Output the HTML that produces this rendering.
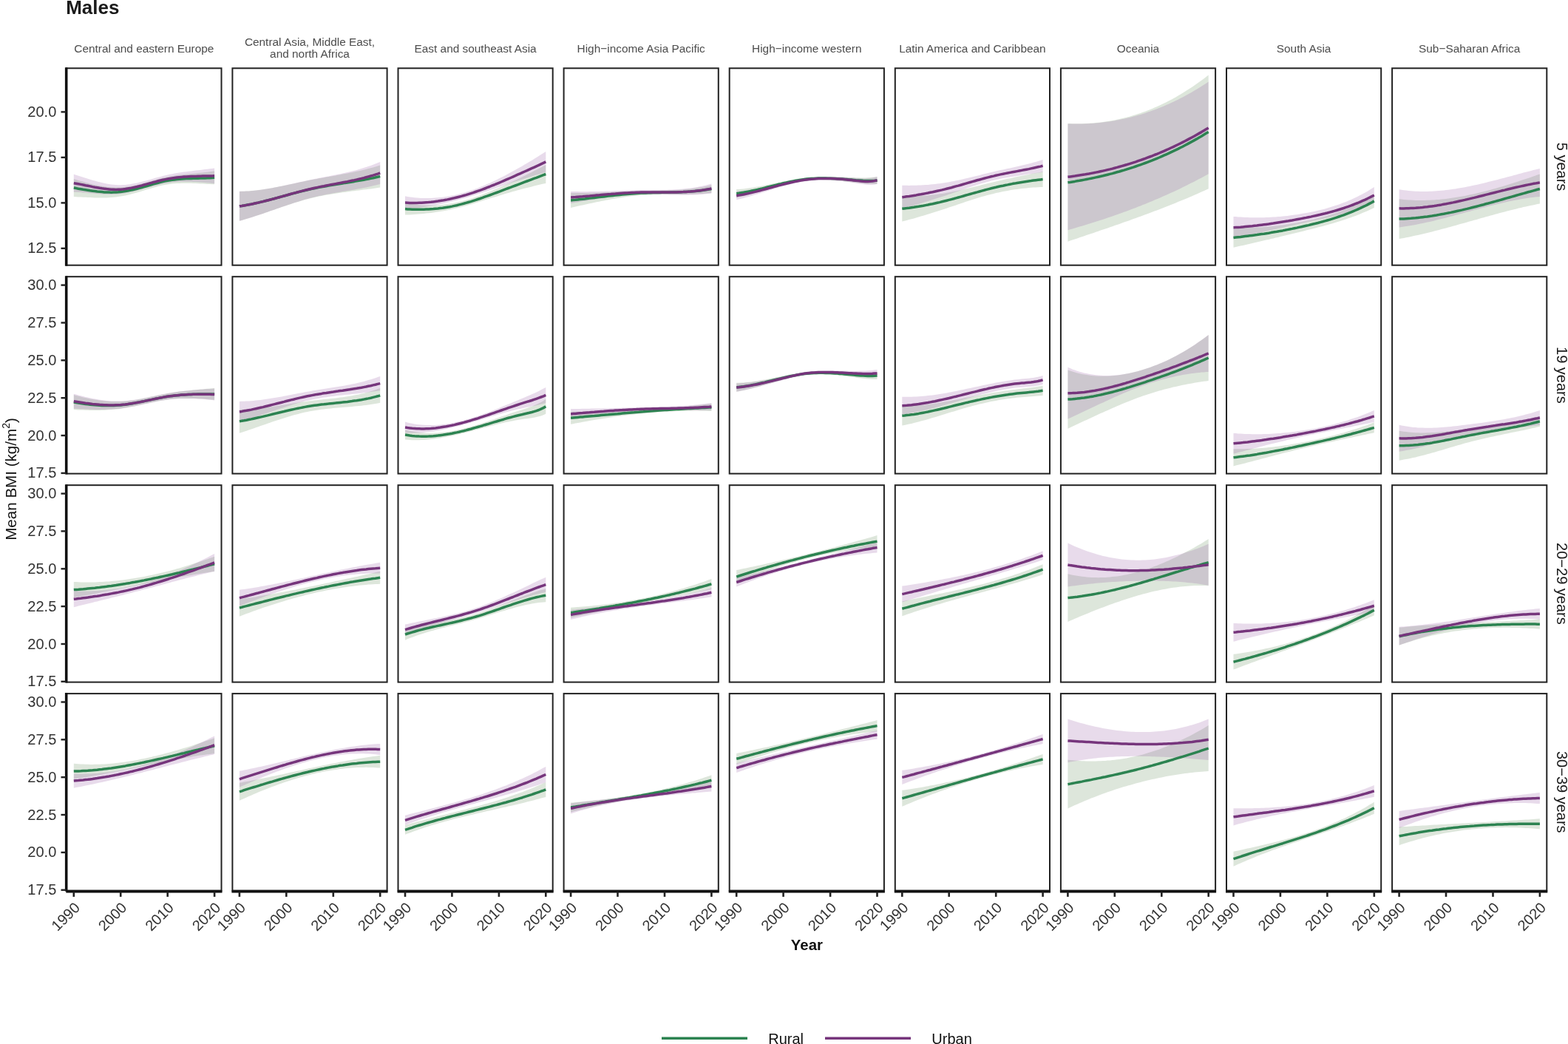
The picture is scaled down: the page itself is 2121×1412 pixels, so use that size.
<!DOCTYPE html><html><head><meta charset="utf-8"><title>Males</title><style>html,body{margin:0;padding:0;background:#fff;width:2121px;height:1412px;overflow:hidden}svg{display:block}text{font-family:"Liberation Sans",Arial,sans-serif}</style></head><body>
<svg width="2121" height="1412" viewBox="0 0 2121 1412">
<rect width="2121" height="1412" fill="#fff"/>
<text x="89.2" y="18.6" font-size="26" font-weight="bold" fill="#1a1a1a">Males</text>
<text x="194.9" y="70.6" font-size="15.4" fill="#4d4d4d" text-anchor="middle">Central and eastern Europe</text>
<text x="419.0" y="61.8" font-size="15.4" fill="#4d4d4d" text-anchor="middle">Central Asia, Middle East,</text>
<text x="419.0" y="78.4" font-size="15.4" fill="#4d4d4d" text-anchor="middle">and north Africa</text>
<text x="643.1" y="70.6" font-size="15.4" fill="#4d4d4d" text-anchor="middle">East and southeast Asia</text>
<text x="867.2" y="70.6" font-size="15.4" fill="#4d4d4d" text-anchor="middle">High−income Asia Pacific</text>
<text x="1091.3" y="70.6" font-size="15.4" fill="#4d4d4d" text-anchor="middle">High−income western</text>
<text x="1315.4" y="70.6" font-size="15.4" fill="#4d4d4d" text-anchor="middle">Latin America and Caribbean</text>
<text x="1539.5" y="70.6" font-size="15.4" fill="#4d4d4d" text-anchor="middle">Oceania</text>
<text x="1763.6" y="70.6" font-size="15.4" fill="#4d4d4d" text-anchor="middle">South Asia</text>
<text x="1987.7" y="70.6" font-size="15.4" fill="#4d4d4d" text-anchor="middle">Sub−Saharan Africa</text>
<text transform="translate(2106.2,225.5) rotate(90)" font-size="20" fill="#1a1a1a" text-anchor="middle">5 years</text>
<text transform="translate(2106.2,507.4) rotate(90)" font-size="20" fill="#1a1a1a" text-anchor="middle">19 years</text>
<text transform="translate(2106.2,789.4) rotate(90)" font-size="20" fill="#1a1a1a" text-anchor="middle">20−29 years</text>
<text transform="translate(2106.2,1071.3) rotate(90)" font-size="20" fill="#1a1a1a" text-anchor="middle">30−39 years</text>
<polygon points="99.8,242.1 103.0,243.1 106.1,244.0 109.3,244.9 112.5,245.8 115.7,246.7 118.8,247.6 122.0,248.4 125.2,249.2 128.3,249.9 131.5,250.6 134.7,251.2 137.9,251.8 141.0,252.3 144.2,252.7 147.4,253.0 150.5,253.3 153.7,253.5 156.9,253.5 160.1,253.5 163.2,253.4 166.4,253.2 169.6,252.8 172.7,252.4 175.9,251.9 179.1,251.3 182.3,250.7 185.4,250.0 188.6,249.2 191.8,248.4 194.9,247.6 198.1,246.7 201.3,245.8 204.5,244.9 207.6,244.0 210.8,243.2 214.0,242.3 217.1,241.4 220.3,240.6 223.5,239.9 226.7,239.2 229.8,238.6 233.0,238.0 236.2,237.5 239.3,237.0 242.5,236.6 245.7,236.2 248.9,235.9 252.0,235.6 255.2,235.3 258.4,235.0 261.5,234.7 264.7,234.4 267.9,234.1 271.1,233.8 274.2,233.4 277.4,233.1 280.6,232.7 283.7,232.3 286.9,231.8 290.1,231.3 290.1,249.3 286.9,249.2 283.7,249.0 280.6,248.9 277.4,248.7 274.2,248.6 271.1,248.4 267.9,248.2 264.7,248.1 261.5,247.9 258.4,247.8 255.2,247.8 252.0,247.7 248.9,247.7 245.7,247.8 242.5,247.9 239.3,248.0 236.2,248.3 233.0,248.6 229.8,248.9 226.7,249.4 223.5,250.0 220.3,250.6 217.1,251.3 214.0,252.1 210.8,252.9 207.6,253.8 204.5,254.7 201.3,255.7 198.1,256.6 194.9,257.6 191.8,258.5 188.6,259.5 185.4,260.4 182.3,261.3 179.1,262.1 175.9,263.0 172.7,263.7 169.6,264.4 166.4,265.0 163.2,265.6 160.1,266.1 156.9,266.5 153.7,266.8 150.5,267.1 147.4,267.2 144.2,267.4 141.0,267.5 137.9,267.5 134.7,267.5 131.5,267.4 128.3,267.4 125.2,267.3 122.0,267.1 118.8,267.0 115.7,266.8 112.5,266.7 109.3,266.5 106.1,266.4 103.0,266.2 99.8,266.1" fill="#55824b" fill-opacity="0.20"/>
<polygon points="99.8,235.7 103.0,236.7 106.1,237.7 109.3,238.7 112.5,239.7 115.7,240.7 118.8,241.7 122.0,242.7 125.2,243.7 128.3,244.6 131.5,245.5 134.7,246.3 137.9,247.1 141.0,247.8 144.2,248.4 147.4,249.0 150.5,249.5 153.7,249.8 156.9,250.1 160.1,250.2 163.2,250.3 166.4,250.1 169.6,249.9 172.7,249.6 175.9,249.2 179.1,248.6 182.3,248.0 185.4,247.4 188.6,246.6 191.8,245.8 194.9,245.0 198.1,244.2 201.3,243.3 204.5,242.4 207.6,241.5 210.8,240.6 214.0,239.8 217.1,238.9 220.3,238.1 223.5,237.3 226.7,236.5 229.8,235.8 233.0,235.2 236.2,234.6 239.3,234.1 242.5,233.5 245.7,233.1 248.9,232.6 252.0,232.2 255.2,231.8 258.4,231.4 261.5,231.0 264.7,230.6 267.9,230.2 271.1,229.9 274.2,229.5 277.4,229.1 280.6,228.7 283.7,228.3 286.9,227.9 290.1,227.5 290.1,248.2 286.9,247.9 283.7,247.6 280.6,247.3 277.4,247.0 274.2,246.8 271.1,246.5 267.9,246.3 264.7,246.1 261.5,245.9 258.4,245.8 255.2,245.7 252.0,245.7 248.9,245.7 245.7,245.7 242.5,245.8 239.3,246.0 236.2,246.2 233.0,246.5 229.8,246.9 226.7,247.4 223.5,247.9 220.3,248.5 217.1,249.2 214.0,249.9 210.8,250.7 207.6,251.5 204.5,252.4 201.3,253.2 198.1,254.1 194.9,255.0 191.8,255.9 188.6,256.8 185.4,257.6 182.3,258.5 179.1,259.2 175.9,260.0 172.7,260.6 169.6,261.2 166.4,261.7 163.2,262.1 160.1,262.5 156.9,262.7 153.7,262.8 150.5,262.9 147.4,262.9 144.2,262.8 141.0,262.7 137.9,262.5 134.7,262.3 131.5,262.0 128.3,261.8 125.2,261.5 122.0,261.2 118.8,260.9 115.7,260.6 112.5,260.4 109.3,260.1 106.1,259.9 103.0,259.8 99.8,259.7" fill="#8e4a9a" fill-opacity="0.20"/>
<polyline points="99.8,254.1 103.0,254.6 106.1,255.2 109.3,255.7 112.5,256.3 115.7,256.8 118.8,257.3 122.0,257.8 125.2,258.2 128.3,258.6 131.5,259.0 134.7,259.3 137.9,259.6 141.0,259.9 144.2,260.0 147.4,260.1 150.5,260.2 153.7,260.1 156.9,260.0 160.1,259.8 163.2,259.5 166.4,259.1 169.6,258.6 172.7,258.1 175.9,257.4 179.1,256.7 182.3,256.0 185.4,255.2 188.6,254.4 191.8,253.5 194.9,252.6 198.1,251.7 201.3,250.8 204.5,249.8 207.6,248.9 210.8,248.0 214.0,247.2 217.1,246.4 220.3,245.6 223.5,244.9 226.7,244.3 229.8,243.8 233.0,243.3 236.2,242.9 239.3,242.5 242.5,242.2 245.7,242.0 248.9,241.8 252.0,241.6 255.2,241.5 258.4,241.4 261.5,241.3 264.7,241.2 267.9,241.2 271.1,241.1 274.2,241.0 277.4,240.9 280.6,240.8 283.7,240.7 286.9,240.5 290.1,240.3" fill="none" stroke="#2c8351" stroke-width="3.5" stroke-linejoin="round"/>
<polyline points="99.8,247.7 103.0,248.2 106.1,248.8 109.3,249.4 112.5,250.0 115.7,250.7 118.8,251.3 122.0,251.9 125.2,252.6 128.3,253.2 131.5,253.7 134.7,254.3 137.9,254.8 141.0,255.2 144.2,255.6 147.4,255.9 150.5,256.2 153.7,256.3 156.9,256.4 160.1,256.3 163.2,256.2 166.4,255.9 169.6,255.6 172.7,255.1 175.9,254.6 179.1,253.9 182.3,253.2 185.4,252.5 188.6,251.7 191.8,250.9 194.9,250.0 198.1,249.1 201.3,248.3 204.5,247.4 207.6,246.5 210.8,245.7 214.0,244.8 217.1,244.0 220.3,243.3 223.5,242.6 226.7,242.0 229.8,241.4 233.0,240.9 236.2,240.4 239.3,240.0 242.5,239.7 245.7,239.4 248.9,239.1 252.0,238.9 255.2,238.7 258.4,238.6 261.5,238.5 264.7,238.4 267.9,238.3 271.1,238.2 274.2,238.1 277.4,238.1 280.6,238.0 283.7,238.0 286.9,237.9 290.1,237.8" fill="none" stroke="#76357c" stroke-width="3.5" stroke-linejoin="round"/>
<polygon points="323.9,258.9 327.1,258.8 330.2,258.7 333.4,258.6 336.6,258.4 339.8,258.1 342.9,257.8 346.1,257.5 349.3,257.1 352.4,256.7 355.6,256.2 358.8,255.8 362.0,255.3 365.1,254.7 368.3,254.2 371.5,253.6 374.6,253.0 377.8,252.3 381.0,251.7 384.2,251.0 387.3,250.4 390.5,249.7 393.7,249.0 396.8,248.4 400.0,247.7 403.2,247.0 406.4,246.3 409.5,245.7 412.7,245.0 415.9,244.3 419.0,243.7 422.2,243.1 425.4,242.5 428.6,241.9 431.7,241.3 434.9,240.7 438.1,240.2 441.2,239.6 444.4,239.0 447.6,238.5 450.8,237.9 453.9,237.4 457.1,236.8 460.3,236.2 463.4,235.6 466.6,235.0 469.8,234.4 473.0,233.8 476.1,233.2 479.3,232.5 482.5,231.8 485.6,231.2 488.8,230.4 492.0,229.7 495.2,228.9 498.3,228.1 501.5,227.3 504.7,226.4 507.8,225.5 511.0,224.6 514.2,223.6 514.2,253.6 511.0,254.0 507.8,254.5 504.7,254.9 501.5,255.4 498.3,255.8 495.2,256.2 492.0,256.6 488.8,257.0 485.6,257.4 482.5,257.8 479.3,258.2 476.1,258.6 473.0,259.0 469.8,259.4 466.6,259.9 463.4,260.3 460.3,260.7 457.1,261.2 453.9,261.7 450.8,262.2 447.6,262.7 444.4,263.2 441.2,263.8 438.1,264.3 434.9,264.9 431.7,265.6 428.6,266.3 425.4,267.0 422.2,267.7 419.0,268.5 415.9,269.3 412.7,270.1 409.5,271.0 406.4,271.9 403.2,272.9 400.0,273.8 396.8,274.8 393.7,275.9 390.5,276.9 387.3,277.9 384.2,279.0 381.0,280.1 377.8,281.2 374.6,282.3 371.5,283.4 368.3,284.5 365.1,285.6 362.0,286.7 358.8,287.8 355.6,288.9 352.4,289.9 349.3,291.0 346.1,292.1 342.9,293.1 339.8,294.1 336.6,295.1 333.4,296.1 330.2,297.0 327.1,297.9 323.9,298.8" fill="#55824b" fill-opacity="0.20"/>
<polygon points="323.9,258.8 327.1,258.8 330.2,258.7 333.4,258.6 336.6,258.4 339.8,258.2 342.9,257.9 346.1,257.6 349.3,257.2 352.4,256.8 355.6,256.3 358.8,255.8 362.0,255.3 365.1,254.8 368.3,254.2 371.5,253.6 374.6,253.0 377.8,252.3 381.0,251.7 384.2,251.0 387.3,250.3 390.5,249.6 393.7,248.9 396.8,248.2 400.0,247.5 403.2,246.8 406.4,246.1 409.5,245.4 412.7,244.7 415.9,244.0 419.0,243.3 422.2,242.7 425.4,242.0 428.6,241.4 431.7,240.8 434.9,240.2 438.1,239.6 441.2,239.0 444.4,238.4 447.6,237.7 450.8,237.1 453.9,236.5 457.1,235.8 460.3,235.2 463.4,234.5 466.6,233.8 469.8,233.1 473.0,232.3 476.1,231.5 479.3,230.7 482.5,229.9 485.6,229.0 488.8,228.1 492.0,227.1 495.2,226.1 498.3,225.1 501.5,224.0 504.7,222.8 507.8,221.6 511.0,220.3 514.2,219.0 514.2,249.0 511.0,249.8 507.8,250.6 504.7,251.3 501.5,252.0 498.3,252.7 495.2,253.4 492.0,254.0 488.8,254.7 485.6,255.2 482.5,255.8 479.3,256.4 476.1,257.0 473.0,257.5 469.8,258.1 466.6,258.6 463.4,259.1 460.3,259.7 457.1,260.2 453.9,260.8 450.8,261.3 447.6,261.9 444.4,262.5 441.2,263.1 438.1,263.8 434.9,264.4 431.7,265.1 428.6,265.8 425.4,266.5 422.2,267.3 419.0,268.1 415.9,268.9 412.7,269.8 409.5,270.7 406.4,271.7 403.2,272.7 400.0,273.7 396.8,274.7 393.7,275.7 390.5,276.8 387.3,277.9 384.2,279.0 381.0,280.1 377.8,281.2 374.6,282.3 371.5,283.4 368.3,284.5 365.1,285.6 362.0,286.7 358.8,287.8 355.6,288.9 352.4,290.0 349.3,291.1 346.1,292.1 342.9,293.2 339.8,294.2 336.6,295.2 333.4,296.1 330.2,297.0 327.1,297.9 323.9,298.8" fill="#8e4a9a" fill-opacity="0.20"/>
<polyline points="323.9,278.8 327.1,278.4 330.2,277.9 333.4,277.3 336.6,276.7 339.8,276.1 342.9,275.5 346.1,274.8 349.3,274.1 352.4,273.3 355.6,272.6 358.8,271.8 362.0,271.0 365.1,270.1 368.3,269.3 371.5,268.5 374.6,267.6 377.8,266.8 381.0,265.9 384.2,265.0 387.3,264.2 390.5,263.3 393.7,262.4 396.8,261.6 400.0,260.8 403.2,259.9 406.4,259.1 409.5,258.3 412.7,257.6 415.9,256.8 419.0,256.1 422.2,255.4 425.4,254.7 428.6,254.1 431.7,253.4 434.9,252.8 438.1,252.3 441.2,251.7 444.4,251.1 447.6,250.6 450.8,250.0 453.9,249.5 457.1,249.0 460.3,248.5 463.4,248.0 466.6,247.4 469.8,246.9 473.0,246.4 476.1,245.9 479.3,245.4 482.5,244.8 485.6,244.3 488.8,243.7 492.0,243.2 495.2,242.6 498.3,242.0 501.5,241.3 504.7,240.7 507.8,240.0 511.0,239.3 514.2,238.6" fill="none" stroke="#2c8351" stroke-width="3.5" stroke-linejoin="round"/>
<polyline points="323.9,278.8 327.1,278.4 330.2,277.9 333.4,277.4 336.6,276.8 339.8,276.2 342.9,275.5 346.1,274.8 349.3,274.1 352.4,273.4 355.6,272.6 358.8,271.8 362.0,271.0 365.1,270.2 368.3,269.4 371.5,268.5 374.6,267.6 377.8,266.7 381.0,265.9 384.2,265.0 387.3,264.1 390.5,263.2 393.7,262.3 396.8,261.4 400.0,260.6 403.2,259.7 406.4,258.9 409.5,258.1 412.7,257.3 415.9,256.5 419.0,255.7 422.2,255.0 425.4,254.3 428.6,253.6 431.7,252.9 434.9,252.3 438.1,251.7 441.2,251.0 444.4,250.4 447.6,249.8 450.8,249.2 453.9,248.6 457.1,248.0 460.3,247.4 463.4,246.8 466.6,246.2 469.8,245.6 473.0,244.9 476.1,244.2 479.3,243.6 482.5,242.9 485.6,242.1 488.8,241.4 492.0,240.6 495.2,239.7 498.3,238.9 501.5,238.0 504.7,237.1 507.8,236.1 511.0,235.1 514.2,234.0" fill="none" stroke="#76357c" stroke-width="3.5" stroke-linejoin="round"/>
<polygon points="548.0,274.7 551.2,275.2 554.3,275.7 557.5,276.1 560.7,276.5 563.9,276.9 567.0,277.1 570.2,277.4 573.4,277.5 576.5,277.7 579.7,277.7 582.9,277.7 586.1,277.7 589.2,277.6 592.4,277.4 595.6,277.2 598.7,276.9 601.9,276.5 605.1,276.1 608.3,275.6 611.4,275.1 614.6,274.5 617.8,273.8 620.9,273.1 624.1,272.3 627.3,271.5 630.5,270.6 633.6,269.7 636.8,268.7 640.0,267.7 643.1,266.6 646.3,265.4 649.5,264.3 652.7,263.1 655.8,261.8 659.0,260.6 662.2,259.3 665.3,258.0 668.5,256.6 671.7,255.2 674.9,253.9 678.0,252.5 681.2,251.0 684.4,249.6 687.5,248.2 690.7,246.7 693.9,245.2 697.1,243.8 700.2,242.2 703.4,240.7 706.6,239.2 709.7,237.7 712.9,236.1 716.1,234.5 719.3,232.9 722.4,231.3 725.6,229.7 728.8,228.1 731.9,226.4 735.1,224.8 738.3,223.1 738.3,247.9 735.1,248.6 731.9,249.3 728.8,250.0 725.6,250.8 722.4,251.6 719.3,252.4 716.1,253.2 712.9,254.0 709.7,254.8 706.6,255.6 703.4,256.5 700.2,257.3 697.1,258.2 693.9,259.1 690.7,260.0 687.5,260.9 684.4,261.8 681.2,262.8 678.0,263.7 674.9,264.7 671.7,265.7 668.5,266.7 665.3,267.6 662.2,268.6 659.0,269.6 655.8,270.6 652.7,271.6 649.5,272.6 646.3,273.6 643.1,274.6 640.0,275.5 636.8,276.4 633.6,277.3 630.5,278.2 627.3,279.1 624.1,279.9 620.9,280.8 617.8,281.5 614.6,282.3 611.4,283.0 608.3,283.7 605.1,284.3 601.9,284.9 598.7,285.5 595.6,286.1 592.4,286.6 589.2,287.0 586.1,287.5 582.9,287.9 579.7,288.3 576.5,288.6 573.4,289.0 570.2,289.3 567.0,289.5 563.9,289.8 560.7,290.0 557.5,290.2 554.3,290.4 551.2,290.5 548.0,290.6" fill="#55824b" fill-opacity="0.20"/>
<polygon points="548.0,265.3 551.2,265.9 554.3,266.4 557.5,266.8 560.7,267.2 563.9,267.5 567.0,267.7 570.2,267.9 573.4,268.0 576.5,268.0 579.7,268.0 582.9,267.9 586.1,267.8 589.2,267.6 592.4,267.3 595.6,267.0 598.7,266.7 601.9,266.2 605.1,265.7 608.3,265.2 611.4,264.6 614.6,263.9 617.8,263.2 620.9,262.4 624.1,261.6 627.3,260.7 630.5,259.8 633.6,258.8 636.8,257.8 640.0,256.7 643.1,255.5 646.3,254.4 649.5,253.1 652.7,251.8 655.8,250.5 659.0,249.1 662.2,247.7 665.3,246.2 668.5,244.7 671.7,243.2 674.9,241.6 678.0,240.0 681.2,238.4 684.4,236.7 687.5,235.0 690.7,233.3 693.9,231.6 697.1,229.8 700.2,228.0 703.4,226.2 706.6,224.4 709.7,222.6 712.9,220.7 716.1,218.8 719.3,216.9 722.4,215.0 725.6,213.0 728.8,211.1 731.9,209.0 735.1,207.0 738.3,204.9 738.3,232.9 735.1,233.8 731.9,234.8 728.8,235.7 725.6,236.6 722.4,237.6 719.3,238.5 716.1,239.5 712.9,240.4 709.7,241.4 706.6,242.4 703.4,243.4 700.2,244.5 697.1,245.5 693.9,246.5 690.7,247.6 687.5,248.7 684.4,249.8 681.2,250.8 678.0,251.9 674.9,253.0 671.7,254.1 668.5,255.2 665.3,256.2 662.2,257.3 659.0,258.4 655.8,259.4 652.7,260.5 649.5,261.5 646.3,262.5 643.1,263.5 640.0,264.5 636.8,265.5 633.6,266.4 630.5,267.4 627.3,268.3 624.1,269.2 620.9,270.0 617.8,270.9 614.6,271.7 611.4,272.5 608.3,273.3 605.1,274.0 601.9,274.7 598.7,275.4 595.6,276.1 592.4,276.8 589.2,277.4 586.1,278.0 582.9,278.6 579.7,279.1 576.5,279.6 573.4,280.1 570.2,280.6 567.0,281.0 563.9,281.4 560.7,281.7 557.5,282.1 554.3,282.4 551.2,282.6 548.0,282.9" fill="#8e4a9a" fill-opacity="0.20"/>
<polyline points="548.0,282.6 551.2,282.9 554.3,283.0 557.5,283.2 560.7,283.3 563.9,283.3 567.0,283.3 570.2,283.3 573.4,283.3 576.5,283.1 579.7,283.0 582.9,282.8 586.1,282.6 589.2,282.3 592.4,282.0 595.6,281.6 598.7,281.2 601.9,280.7 605.1,280.2 608.3,279.7 611.4,279.1 614.6,278.4 617.8,277.7 620.9,276.9 624.1,276.1 627.3,275.3 630.5,274.4 633.6,273.5 636.8,272.6 640.0,271.6 643.1,270.6 646.3,269.5 649.5,268.5 652.7,267.4 655.8,266.2 659.0,265.1 662.2,264.0 665.3,262.8 668.5,261.6 671.7,260.5 674.9,259.3 678.0,258.1 681.2,256.9 684.4,255.7 687.5,254.5 690.7,253.4 693.9,252.2 697.1,251.0 700.2,249.8 703.4,248.6 706.6,247.4 709.7,246.2 712.9,245.0 716.1,243.8 719.3,242.6 722.4,241.4 725.6,240.3 728.8,239.1 731.9,237.9 735.1,236.7 738.3,235.5" fill="none" stroke="#2c8351" stroke-width="3.5" stroke-linejoin="round"/>
<polyline points="548.0,274.1 551.2,274.2 554.3,274.4 557.5,274.4 560.7,274.4 563.9,274.4 567.0,274.3 570.2,274.2 573.4,274.0 576.5,273.8 579.7,273.6 582.9,273.3 586.1,272.9 589.2,272.5 592.4,272.1 595.6,271.6 598.7,271.1 601.9,270.5 605.1,269.9 608.3,269.2 611.4,268.5 614.6,267.8 617.8,267.0 620.9,266.2 624.1,265.4 627.3,264.5 630.5,263.6 633.6,262.6 636.8,261.6 640.0,260.6 643.1,259.5 646.3,258.4 649.5,257.3 652.7,256.2 655.8,255.0 659.0,253.7 662.2,252.5 665.3,251.2 668.5,250.0 671.7,248.6 674.9,247.3 678.0,246.0 681.2,244.6 684.4,243.2 687.5,241.9 690.7,240.5 693.9,239.1 697.1,237.7 700.2,236.2 703.4,234.8 706.6,233.4 709.7,232.0 712.9,230.6 716.1,229.1 719.3,227.7 722.4,226.3 725.6,224.8 728.8,223.4 731.9,221.9 735.1,220.4 738.3,218.9" fill="none" stroke="#76357c" stroke-width="3.5" stroke-linejoin="round"/>
<polygon points="772.1,260.9 775.3,261.0 778.4,261.0 781.6,261.1 784.8,261.1 788.0,261.1 791.1,261.0 794.3,261.0 797.5,260.9 800.6,260.9 803.8,260.8 807.0,260.7 810.2,260.6 813.3,260.4 816.5,260.3 819.7,260.2 822.8,260.0 826.0,259.9 829.2,259.7 832.4,259.6 835.5,259.4 838.7,259.3 841.9,259.1 845.0,259.0 848.2,258.8 851.4,258.7 854.6,258.6 857.7,258.4 860.9,258.3 864.1,258.2 867.2,258.1 870.4,258.1 873.6,258.0 876.8,257.9 879.9,257.9 883.1,257.8 886.3,257.8 889.4,257.7 892.6,257.7 895.8,257.6 899.0,257.5 902.1,257.4 905.3,257.3 908.5,257.2 911.6,257.1 914.8,256.9 918.0,256.7 921.2,256.5 924.3,256.3 927.5,256.0 930.7,255.7 933.8,255.4 937.0,255.0 940.2,254.6 943.4,254.1 946.5,253.6 949.7,253.0 952.9,252.4 956.0,251.7 959.2,251.0 962.4,250.2 962.4,261.0 959.2,261.3 956.0,261.6 952.9,261.8 949.7,262.1 946.5,262.2 943.4,262.4 940.2,262.5 937.0,262.7 933.8,262.7 930.7,262.8 927.5,262.9 924.3,262.9 921.2,262.9 918.0,263.0 914.8,263.0 911.6,263.0 908.5,263.0 905.3,263.0 902.1,263.0 899.0,263.0 895.8,263.1 892.6,263.1 889.4,263.2 886.3,263.2 883.1,263.3 879.9,263.4 876.8,263.6 873.6,263.7 870.4,263.9 867.2,264.1 864.1,264.4 860.9,264.7 857.7,265.0 854.6,265.3 851.4,265.7 848.2,266.1 845.0,266.6 841.9,267.0 838.7,267.5 835.5,268.0 832.4,268.5 829.2,269.1 826.0,269.6 822.8,270.2 819.7,270.8 816.5,271.4 813.3,272.0 810.2,272.7 807.0,273.3 803.8,274.0 800.6,274.7 797.5,275.3 794.3,276.0 791.1,276.7 788.0,277.4 784.8,278.1 781.6,278.8 778.4,279.5 775.3,280.2 772.1,280.9" fill="#55824b" fill-opacity="0.20"/>
<polygon points="772.1,258.9 775.3,259.0 778.4,259.1 781.6,259.1 784.8,259.2 788.0,259.2 791.1,259.2 794.3,259.2 797.5,259.1 800.6,259.1 803.8,259.0 807.0,259.0 810.2,258.9 813.3,258.8 816.5,258.7 819.7,258.6 822.8,258.5 826.0,258.4 829.2,258.3 832.4,258.1 835.5,258.0 838.7,257.9 841.9,257.8 845.0,257.7 848.2,257.6 851.4,257.5 854.6,257.4 857.7,257.3 860.9,257.2 864.1,257.1 867.2,257.1 870.4,257.0 873.6,257.0 876.8,257.0 879.9,256.9 883.1,256.9 886.3,256.9 889.4,256.9 892.6,256.8 895.8,256.8 899.0,256.7 902.1,256.7 905.3,256.6 908.5,256.4 911.6,256.3 914.8,256.1 918.0,255.9 921.2,255.7 924.3,255.4 927.5,255.1 930.7,254.8 933.8,254.4 937.0,254.0 940.2,253.5 943.4,252.9 946.5,252.3 949.7,251.7 952.9,250.9 956.0,250.2 959.2,249.3 962.4,248.4 962.4,261.6 959.2,262.0 956.0,262.3 952.9,262.6 949.7,262.9 946.5,263.1 943.4,263.3 940.2,263.4 937.0,263.5 933.8,263.6 930.7,263.7 927.5,263.7 924.3,263.7 921.2,263.7 918.0,263.6 914.8,263.6 911.6,263.5 908.5,263.4 905.3,263.4 902.1,263.3 899.0,263.2 895.8,263.1 892.6,263.1 889.4,263.0 886.3,262.9 883.1,262.9 879.9,262.9 876.8,262.9 873.6,262.9 870.4,263.0 867.2,263.1 864.1,263.2 860.9,263.3 857.7,263.5 854.6,263.7 851.4,263.9 848.2,264.2 845.0,264.5 841.9,264.8 838.7,265.1 835.5,265.4 832.4,265.8 829.2,266.2 826.0,266.6 822.8,267.0 819.7,267.4 816.5,267.9 813.3,268.3 810.2,268.8 807.0,269.3 803.8,269.8 800.6,270.3 797.5,270.8 794.3,271.3 791.1,271.8 788.0,272.3 784.8,272.8 781.6,273.4 778.4,273.9 775.3,274.4 772.1,274.9" fill="#8e4a9a" fill-opacity="0.20"/>
<polyline points="772.1,270.9 775.3,270.6 778.4,270.3 781.6,269.9 784.8,269.6 788.0,269.2 791.1,268.9 794.3,268.5 797.5,268.1 800.6,267.8 803.8,267.4 807.0,267.0 810.2,266.6 813.3,266.2 816.5,265.9 819.7,265.5 822.8,265.1 826.0,264.8 829.2,264.4 832.4,264.1 835.5,263.7 838.7,263.4 841.9,263.1 845.0,262.8 848.2,262.5 851.4,262.2 854.6,262.0 857.7,261.7 860.9,261.5 864.1,261.3 867.2,261.1 870.4,261.0 873.6,260.9 876.8,260.7 879.9,260.7 883.1,260.6 886.3,260.5 889.4,260.4 892.6,260.4 895.8,260.3 899.0,260.3 902.1,260.2 905.3,260.2 908.5,260.1 911.6,260.0 914.8,260.0 918.0,259.9 921.2,259.7 924.3,259.6 927.5,259.4 930.7,259.3 933.8,259.1 937.0,258.8 940.2,258.5 943.4,258.2 946.5,257.9 949.7,257.5 952.9,257.1 956.0,256.6 959.2,256.1 962.4,255.6" fill="none" stroke="#2c8351" stroke-width="3.5" stroke-linejoin="round"/>
<polyline points="772.1,266.9 775.3,266.7 778.4,266.5 781.6,266.2 784.8,266.0 788.0,265.8 791.1,265.5 794.3,265.2 797.5,265.0 800.6,264.7 803.8,264.4 807.0,264.1 810.2,263.9 813.3,263.6 816.5,263.3 819.7,263.0 822.8,262.7 826.0,262.5 829.2,262.2 832.4,262.0 835.5,261.7 838.7,261.5 841.9,261.3 845.0,261.1 848.2,260.9 851.4,260.7 854.6,260.5 857.7,260.4 860.9,260.3 864.1,260.2 867.2,260.1 870.4,260.0 873.6,260.0 876.8,259.9 879.9,259.9 883.1,259.9 886.3,259.9 889.4,259.9 892.6,259.9 895.8,260.0 899.0,260.0 902.1,260.0 905.3,260.0 908.5,259.9 911.6,259.9 914.8,259.9 918.0,259.8 921.2,259.7 924.3,259.6 927.5,259.4 930.7,259.2 933.8,259.0 937.0,258.7 940.2,258.5 943.4,258.1 946.5,257.7 949.7,257.3 952.9,256.8 956.0,256.2 959.2,255.6 962.4,255.0" fill="none" stroke="#76357c" stroke-width="3.5" stroke-linejoin="round"/>
<polygon points="996.2,256.1 999.4,255.9 1002.5,255.7 1005.7,255.4 1008.9,255.0 1012.1,254.6 1015.2,254.1 1018.4,253.7 1021.6,253.1 1024.7,252.6 1027.9,252.0 1031.1,251.4 1034.3,250.7 1037.4,250.1 1040.6,249.4 1043.8,248.7 1046.9,248.1 1050.1,247.4 1053.3,246.7 1056.5,246.0 1059.6,245.4 1062.8,244.7 1066.0,244.1 1069.1,243.5 1072.3,242.9 1075.5,242.3 1078.7,241.8 1081.8,241.3 1085.0,240.9 1088.2,240.5 1091.3,240.1 1094.5,239.8 1097.7,239.6 1100.9,239.4 1104.0,239.2 1107.2,239.1 1110.4,239.0 1113.5,239.0 1116.7,238.9 1119.9,239.0 1123.1,239.0 1126.2,239.1 1129.4,239.1 1132.6,239.2 1135.7,239.4 1138.9,239.5 1142.1,239.6 1145.3,239.7 1148.4,239.9 1151.6,240.0 1154.8,240.1 1157.9,240.2 1161.1,240.3 1164.3,240.4 1167.5,240.4 1170.6,240.4 1173.8,240.3 1177.0,240.1 1180.1,239.8 1183.3,239.4 1186.5,238.9 1186.5,248.9 1183.3,249.0 1180.1,249.0 1177.0,248.9 1173.8,248.7 1170.6,248.5 1167.5,248.2 1164.3,247.8 1161.1,247.4 1157.9,247.1 1154.8,246.7 1151.6,246.3 1148.4,245.9 1145.3,245.5 1142.1,245.2 1138.9,244.8 1135.7,244.5 1132.6,244.2 1129.4,244.0 1126.2,243.7 1123.1,243.5 1119.9,243.4 1116.7,243.3 1113.5,243.2 1110.4,243.1 1107.2,243.2 1104.0,243.2 1100.9,243.4 1097.7,243.6 1094.5,243.8 1091.3,244.1 1088.2,244.5 1085.0,244.9 1081.8,245.4 1078.7,246.0 1075.5,246.6 1072.3,247.3 1069.1,248.0 1066.0,248.7 1062.8,249.5 1059.6,250.3 1056.5,251.1 1053.3,252.0 1050.1,252.9 1046.9,253.8 1043.8,254.7 1040.6,255.6 1037.4,256.5 1034.3,257.5 1031.1,258.4 1027.9,259.3 1024.7,260.2 1021.6,261.1 1018.4,262.0 1015.2,262.8 1012.1,263.7 1008.9,264.5 1005.7,265.2 1002.5,266.0 999.4,266.6 996.2,267.3" fill="#55824b" fill-opacity="0.20"/>
<polygon points="996.2,259.1 999.4,258.8 1002.5,258.4 1005.7,258.0 1008.9,257.6 1012.1,257.1 1015.2,256.5 1018.4,256.0 1021.6,255.4 1024.7,254.7 1027.9,254.1 1031.1,253.4 1034.3,252.7 1037.4,252.0 1040.6,251.2 1043.8,250.5 1046.9,249.7 1050.1,249.0 1053.3,248.3 1056.5,247.5 1059.6,246.8 1062.8,246.1 1066.0,245.4 1069.1,244.7 1072.3,244.1 1075.5,243.4 1078.7,242.9 1081.8,242.3 1085.0,241.8 1088.2,241.3 1091.3,240.9 1094.5,240.6 1097.7,240.2 1100.9,240.0 1104.0,239.7 1107.2,239.6 1110.4,239.4 1113.5,239.3 1116.7,239.2 1119.9,239.2 1123.1,239.2 1126.2,239.2 1129.4,239.3 1132.6,239.4 1135.7,239.5 1138.9,239.7 1142.1,239.8 1145.3,240.0 1148.4,240.2 1151.6,240.4 1154.8,240.6 1157.9,240.9 1161.1,241.1 1164.3,241.3 1167.5,241.4 1170.6,241.4 1173.8,241.2 1177.0,240.9 1180.1,240.5 1183.3,239.8 1186.5,238.9 1186.5,248.8 1183.3,249.4 1180.1,249.7 1177.0,249.7 1173.8,249.7 1170.6,249.4 1167.5,249.1 1164.3,248.7 1161.1,248.2 1157.9,247.7 1154.8,247.2 1151.6,246.7 1148.4,246.2 1145.3,245.8 1142.1,245.4 1138.9,245.0 1135.7,244.7 1132.6,244.4 1129.4,244.1 1126.2,243.9 1123.1,243.7 1119.9,243.6 1116.7,243.5 1113.5,243.5 1110.4,243.5 1107.2,243.6 1104.0,243.8 1100.9,244.0 1097.7,244.2 1094.5,244.5 1091.3,244.9 1088.2,245.4 1085.0,245.9 1081.8,246.4 1078.7,247.1 1075.5,247.7 1072.3,248.4 1069.1,249.2 1066.0,250.0 1062.8,250.8 1059.6,251.7 1056.5,252.6 1053.3,253.5 1050.1,254.5 1046.9,255.4 1043.8,256.4 1040.6,257.4 1037.4,258.4 1034.3,259.4 1031.1,260.4 1027.9,261.4 1024.7,262.4 1021.6,263.3 1018.4,264.3 1015.2,265.2 1012.1,266.2 1008.9,267.0 1005.7,267.9 1002.5,268.7 999.4,269.5 996.2,270.2" fill="#8e4a9a" fill-opacity="0.20"/>
<polyline points="996.2,261.7 999.4,261.3 1002.5,260.8 1005.7,260.3 1008.9,259.7 1012.1,259.1 1015.2,258.5 1018.4,257.8 1021.6,257.1 1024.7,256.4 1027.9,255.6 1031.1,254.9 1034.3,254.1 1037.4,253.3 1040.6,252.5 1043.8,251.7 1046.9,250.9 1050.1,250.1 1053.3,249.3 1056.5,248.6 1059.6,247.8 1062.8,247.1 1066.0,246.4 1069.1,245.7 1072.3,245.1 1075.5,244.5 1078.7,243.9 1081.8,243.4 1085.0,242.9 1088.2,242.5 1091.3,242.1 1094.5,241.8 1097.7,241.6 1100.9,241.4 1104.0,241.2 1107.2,241.1 1110.4,241.1 1113.5,241.1 1116.7,241.1 1119.9,241.2 1123.1,241.3 1126.2,241.4 1129.4,241.5 1132.6,241.7 1135.7,241.9 1138.9,242.1 1142.1,242.4 1145.3,242.6 1148.4,242.9 1151.6,243.1 1154.8,243.4 1157.9,243.7 1161.1,243.9 1164.3,244.1 1167.5,244.3 1170.6,244.4 1173.8,244.5 1177.0,244.5 1180.1,244.4 1183.3,244.2 1186.5,243.9" fill="none" stroke="#2c8351" stroke-width="3.5" stroke-linejoin="round"/>
<polyline points="996.2,264.7 999.4,264.1 1002.5,263.6 1005.7,263.0 1008.9,262.3 1012.1,261.6 1015.2,260.9 1018.4,260.1 1021.6,259.4 1024.7,258.6 1027.9,257.7 1031.1,256.9 1034.3,256.0 1037.4,255.2 1040.6,254.3 1043.8,253.5 1046.9,252.6 1050.1,251.7 1053.3,250.9 1056.5,250.1 1059.6,249.3 1062.8,248.5 1066.0,247.7 1069.1,247.0 1072.3,246.3 1075.5,245.6 1078.7,245.0 1081.8,244.4 1085.0,243.8 1088.2,243.3 1091.3,242.9 1094.5,242.5 1097.7,242.2 1100.9,242.0 1104.0,241.7 1107.2,241.6 1110.4,241.5 1113.5,241.4 1116.7,241.4 1119.9,241.4 1123.1,241.5 1126.2,241.6 1129.4,241.7 1132.6,241.9 1135.7,242.1 1138.9,242.3 1142.1,242.6 1145.3,242.9 1148.4,243.2 1151.6,243.5 1154.8,243.9 1157.9,244.3 1161.1,244.6 1164.3,245.0 1167.5,245.2 1170.6,245.4 1173.8,245.4 1177.0,245.3 1180.1,245.1 1183.3,244.6 1186.5,243.8" fill="none" stroke="#76357c" stroke-width="3.5" stroke-linejoin="round"/>
<polygon points="1220.3,264.9 1223.5,265.0 1226.6,265.1 1229.8,265.2 1233.0,265.2 1236.2,265.2 1239.3,265.1 1242.5,265.0 1245.7,264.8 1248.8,264.7 1252.0,264.4 1255.2,264.2 1258.4,263.9 1261.5,263.5 1264.7,263.2 1267.9,262.8 1271.0,262.3 1274.2,261.9 1277.4,261.4 1280.6,260.8 1283.7,260.3 1286.9,259.7 1290.1,259.0 1293.2,258.4 1296.4,257.7 1299.6,257.0 1302.8,256.3 1305.9,255.5 1309.1,254.8 1312.3,254.0 1315.4,253.3 1318.6,252.5 1321.8,251.7 1325.0,250.9 1328.1,250.1 1331.3,249.3 1334.5,248.5 1337.6,247.7 1340.8,247.0 1344.0,246.2 1347.2,245.4 1350.3,244.7 1353.5,244.0 1356.7,243.2 1359.8,242.5 1363.0,241.8 1366.2,241.2 1369.4,240.5 1372.5,239.8 1375.7,239.1 1378.9,238.5 1382.0,237.8 1385.2,237.2 1388.4,236.5 1391.6,235.9 1394.7,235.3 1397.9,234.6 1401.1,234.0 1404.2,233.4 1407.4,232.7 1410.6,232.1 1410.6,252.9 1407.4,253.0 1404.2,253.2 1401.1,253.4 1397.9,253.6 1394.7,253.8 1391.6,254.1 1388.4,254.4 1385.2,254.7 1382.0,255.1 1378.9,255.5 1375.7,255.9 1372.5,256.3 1369.4,256.8 1366.2,257.3 1363.0,257.9 1359.8,258.4 1356.7,259.1 1353.5,259.7 1350.3,260.4 1347.2,261.1 1344.0,261.9 1340.8,262.7 1337.6,263.5 1334.5,264.3 1331.3,265.2 1328.1,266.1 1325.0,267.1 1321.8,268.0 1318.6,269.0 1315.4,270.0 1312.3,271.0 1309.1,272.1 1305.9,273.1 1302.8,274.2 1299.6,275.3 1296.4,276.3 1293.2,277.4 1290.1,278.5 1286.9,279.5 1283.7,280.6 1280.6,281.7 1277.4,282.7 1274.2,283.7 1271.0,284.8 1267.9,285.8 1264.7,286.8 1261.5,287.8 1258.4,288.8 1255.2,289.8 1252.0,290.8 1248.8,291.7 1245.7,292.6 1242.5,293.6 1239.3,294.5 1236.2,295.4 1233.0,296.3 1229.8,297.1 1226.6,298.0 1223.5,298.8 1220.3,299.6" fill="#55824b" fill-opacity="0.20"/>
<polygon points="1220.3,250.7 1223.5,250.8 1226.6,250.8 1229.8,250.9 1233.0,250.8 1236.2,250.8 1239.3,250.7 1242.5,250.6 1245.7,250.5 1248.8,250.3 1252.0,250.1 1255.2,249.9 1258.4,249.6 1261.5,249.3 1264.7,248.9 1267.9,248.6 1271.0,248.2 1274.2,247.7 1277.4,247.3 1280.6,246.7 1283.7,246.2 1286.9,245.6 1290.1,245.0 1293.2,244.3 1296.4,243.7 1299.6,243.0 1302.8,242.3 1305.9,241.5 1309.1,240.8 1312.3,240.0 1315.4,239.2 1318.6,238.5 1321.8,237.7 1325.0,236.9 1328.1,236.1 1331.3,235.3 1334.5,234.6 1337.6,233.8 1340.8,233.0 1344.0,232.3 1347.2,231.5 1350.3,230.8 1353.5,230.1 1356.7,229.4 1359.8,228.7 1363.0,228.1 1366.2,227.4 1369.4,226.7 1372.5,226.0 1375.7,225.3 1378.9,224.6 1382.0,223.8 1385.2,223.1 1388.4,222.3 1391.6,221.5 1394.7,220.7 1397.9,219.8 1401.1,218.9 1404.2,217.9 1407.4,216.9 1410.6,215.9 1410.6,232.7 1407.4,233.2 1404.2,233.7 1401.1,234.2 1397.9,234.7 1394.7,235.2 1391.6,235.6 1388.4,236.1 1385.2,236.5 1382.0,237.0 1378.9,237.4 1375.7,237.9 1372.5,238.4 1369.4,238.9 1366.2,239.4 1363.0,239.9 1359.8,240.5 1356.7,241.1 1353.5,241.7 1350.3,242.4 1347.2,243.1 1344.0,243.8 1340.8,244.6 1337.6,245.4 1334.5,246.3 1331.3,247.2 1328.1,248.1 1325.0,249.0 1321.8,250.0 1318.6,251.0 1315.4,252.0 1312.3,253.1 1309.1,254.1 1305.9,255.2 1302.8,256.3 1299.6,257.3 1296.4,258.4 1293.2,259.5 1290.1,260.6 1286.9,261.7 1283.7,262.8 1280.6,263.9 1277.4,264.9 1274.2,266.0 1271.0,267.0 1267.9,268.0 1264.7,269.1 1261.5,270.1 1258.4,271.1 1255.2,272.1 1252.0,273.1 1248.8,274.1 1245.7,275.1 1242.5,276.0 1239.3,277.0 1236.2,277.9 1233.0,278.9 1229.8,279.8 1226.6,280.8 1223.5,281.7 1220.3,282.7" fill="#8e4a9a" fill-opacity="0.20"/>
<polyline points="1220.3,282.3 1223.5,281.9 1226.6,281.6 1229.8,281.2 1233.0,280.7 1236.2,280.3 1239.3,279.8 1242.5,279.3 1245.7,278.7 1248.8,278.2 1252.0,277.6 1255.2,277.0 1258.4,276.3 1261.5,275.7 1264.7,275.0 1267.9,274.3 1271.0,273.6 1274.2,272.8 1277.4,272.0 1280.6,271.2 1283.7,270.4 1286.9,269.6 1290.1,268.8 1293.2,267.9 1296.4,267.0 1299.6,266.1 1302.8,265.2 1305.9,264.3 1309.1,263.4 1312.3,262.5 1315.4,261.6 1318.6,260.7 1321.8,259.9 1325.0,259.0 1328.1,258.1 1331.3,257.3 1334.5,256.4 1337.6,255.6 1340.8,254.8 1344.0,254.0 1347.2,253.3 1350.3,252.5 1353.5,251.8 1356.7,251.2 1359.8,250.5 1363.0,249.9 1366.2,249.2 1369.4,248.6 1372.5,248.1 1375.7,247.5 1378.9,247.0 1382.0,246.5 1385.2,246.0 1388.4,245.5 1391.6,245.0 1394.7,244.6 1397.9,244.1 1401.1,243.7 1404.2,243.3 1407.4,242.9 1410.6,242.5" fill="none" stroke="#2c8351" stroke-width="3.5" stroke-linejoin="round"/>
<polyline points="1220.3,266.7 1223.5,266.3 1226.6,265.8 1229.8,265.4 1233.0,264.9 1236.2,264.4 1239.3,263.9 1242.5,263.3 1245.7,262.8 1248.8,262.2 1252.0,261.6 1255.2,261.0 1258.4,260.3 1261.5,259.7 1264.7,259.0 1267.9,258.3 1271.0,257.6 1274.2,256.9 1277.4,256.1 1280.6,255.3 1283.7,254.5 1286.9,253.7 1290.1,252.8 1293.2,251.9 1296.4,251.1 1299.6,250.2 1302.8,249.3 1305.9,248.4 1309.1,247.4 1312.3,246.5 1315.4,245.6 1318.6,244.7 1321.8,243.8 1325.0,243.0 1328.1,242.1 1331.3,241.2 1334.5,240.4 1337.6,239.6 1340.8,238.8 1344.0,238.1 1347.2,237.3 1350.3,236.6 1353.5,235.9 1356.7,235.3 1359.8,234.6 1363.0,234.0 1366.2,233.4 1369.4,232.8 1372.5,232.2 1375.7,231.6 1378.9,231.0 1382.0,230.4 1385.2,229.8 1388.4,229.2 1391.6,228.6 1394.7,227.9 1397.9,227.2 1401.1,226.5 1404.2,225.8 1407.4,225.1 1410.6,224.3" fill="none" stroke="#76357c" stroke-width="3.5" stroke-linejoin="round"/>
<polygon points="1444.4,166.9 1447.6,167.1 1450.7,167.2 1453.9,167.2 1457.1,167.3 1460.3,167.2 1463.4,167.2 1466.6,167.1 1469.8,167.0 1472.9,166.8 1476.1,166.6 1479.3,166.4 1482.5,166.1 1485.6,165.8 1488.8,165.4 1492.0,165.0 1495.1,164.5 1498.3,164.1 1501.5,163.5 1504.7,163.0 1507.8,162.4 1511.0,161.7 1514.2,161.0 1517.3,160.3 1520.5,159.5 1523.7,158.7 1526.9,157.9 1530.0,157.0 1533.2,156.0 1536.4,155.1 1539.5,154.0 1542.7,153.0 1545.9,151.8 1549.1,150.7 1552.2,149.5 1555.4,148.2 1558.6,146.9 1561.7,145.6 1564.9,144.2 1568.1,142.8 1571.3,141.3 1574.4,139.7 1577.6,138.2 1580.8,136.5 1583.9,134.9 1587.1,133.2 1590.3,131.4 1593.5,129.6 1596.6,127.7 1599.8,125.8 1603.0,123.8 1606.1,121.8 1609.3,119.8 1612.5,117.7 1615.7,115.5 1618.8,113.3 1622.0,111.0 1625.2,108.7 1628.3,106.4 1631.5,104.0 1634.7,101.5 1634.7,255.3 1631.5,256.7 1628.3,258.2 1625.2,259.6 1622.0,261.0 1618.8,262.4 1615.7,263.8 1612.5,265.2 1609.3,266.5 1606.1,267.9 1603.0,269.2 1599.8,270.5 1596.6,271.8 1593.5,273.1 1590.3,274.4 1587.1,275.7 1583.9,277.0 1580.8,278.2 1577.6,279.5 1574.4,280.7 1571.3,282.0 1568.1,283.2 1564.9,284.4 1561.7,285.6 1558.6,286.8 1555.4,288.0 1552.2,289.2 1549.1,290.3 1545.9,291.5 1542.7,292.7 1539.5,293.8 1536.4,295.0 1533.2,296.1 1530.0,297.3 1526.9,298.4 1523.7,299.5 1520.5,300.6 1517.3,301.7 1514.2,302.9 1511.0,304.0 1507.8,305.1 1504.7,306.2 1501.5,307.3 1498.3,308.4 1495.1,309.4 1492.0,310.5 1488.8,311.6 1485.6,312.7 1482.5,313.8 1479.3,314.9 1476.1,315.9 1472.9,317.0 1469.8,318.1 1466.6,319.2 1463.4,320.3 1460.3,321.3 1457.1,322.4 1453.9,323.5 1450.7,324.6 1447.6,325.6 1444.4,326.7" fill="#55824b" fill-opacity="0.20"/>
<polygon points="1444.4,167.4 1447.6,167.5 1450.7,167.6 1453.9,167.6 1457.1,167.6 1460.3,167.6 1463.4,167.5 1466.6,167.4 1469.8,167.3 1472.9,167.2 1476.1,167.0 1479.3,166.7 1482.5,166.5 1485.6,166.2 1488.8,165.8 1492.0,165.5 1495.1,165.1 1498.3,164.7 1501.5,164.2 1504.7,163.7 1507.8,163.2 1511.0,162.6 1514.2,162.0 1517.3,161.3 1520.5,160.7 1523.7,159.9 1526.9,159.2 1530.0,158.4 1533.2,157.6 1536.4,156.7 1539.5,155.8 1542.7,154.9 1545.9,153.9 1549.1,152.9 1552.2,151.8 1555.4,150.8 1558.6,149.6 1561.7,148.5 1564.9,147.3 1568.1,146.0 1571.3,144.7 1574.4,143.4 1577.6,142.1 1580.8,140.7 1583.9,139.2 1587.1,137.7 1590.3,136.2 1593.5,134.7 1596.6,133.1 1599.8,131.4 1603.0,129.7 1606.1,128.0 1609.3,126.2 1612.5,124.4 1615.7,122.6 1618.8,120.7 1622.0,118.7 1625.2,116.8 1628.3,114.7 1631.5,112.7 1634.7,110.6 1634.7,235.2 1631.5,236.9 1628.3,238.7 1625.2,240.4 1622.0,242.1 1618.8,243.7 1615.7,245.4 1612.5,247.0 1609.3,248.6 1606.1,250.2 1603.0,251.8 1599.8,253.3 1596.6,254.9 1593.5,256.4 1590.3,257.9 1587.1,259.4 1583.9,260.8 1580.8,262.3 1577.6,263.7 1574.4,265.1 1571.3,266.5 1568.1,267.9 1564.9,269.3 1561.7,270.6 1558.6,272.0 1555.4,273.3 1552.2,274.6 1549.1,275.9 1545.9,277.1 1542.7,278.4 1539.5,279.6 1536.4,280.9 1533.2,282.1 1530.0,283.3 1526.9,284.5 1523.7,285.7 1520.5,286.8 1517.3,288.0 1514.2,289.1 1511.0,290.2 1507.8,291.3 1504.7,292.4 1501.5,293.5 1498.3,294.6 1495.1,295.7 1492.0,296.7 1488.8,297.7 1485.6,298.8 1482.5,299.8 1479.3,300.8 1476.1,301.8 1472.9,302.8 1469.8,303.8 1466.6,304.7 1463.4,305.7 1460.3,306.6 1457.1,307.6 1453.9,308.5 1450.7,309.4 1447.6,310.3 1444.4,311.2" fill="#8e4a9a" fill-opacity="0.20"/>
<polyline points="1444.4,246.8 1447.6,246.4 1450.7,245.9 1453.9,245.4 1457.1,244.8 1460.3,244.3 1463.4,243.7 1466.6,243.1 1469.8,242.5 1472.9,241.9 1476.1,241.3 1479.3,240.6 1482.5,239.9 1485.6,239.2 1488.8,238.5 1492.0,237.8 1495.1,237.0 1498.3,236.2 1501.5,235.4 1504.7,234.6 1507.8,233.7 1511.0,232.8 1514.2,232.0 1517.3,231.0 1520.5,230.1 1523.7,229.1 1526.9,228.1 1530.0,227.1 1533.2,226.1 1536.4,225.0 1539.5,223.9 1542.7,222.8 1545.9,221.7 1549.1,220.5 1552.2,219.3 1555.4,218.1 1558.6,216.9 1561.7,215.6 1564.9,214.3 1568.1,213.0 1571.3,211.6 1574.4,210.2 1577.6,208.8 1580.8,207.4 1583.9,205.9 1587.1,204.4 1590.3,202.9 1593.5,201.4 1596.6,199.8 1599.8,198.2 1603.0,196.5 1606.1,194.9 1609.3,193.1 1612.5,191.4 1615.7,189.6 1618.8,187.9 1622.0,186.0 1625.2,184.2 1628.3,182.3 1631.5,180.3 1634.7,178.4" fill="none" stroke="#2c8351" stroke-width="3.5" stroke-linejoin="round"/>
<polyline points="1444.4,239.3 1447.6,238.9 1450.7,238.5 1453.9,238.1 1457.1,237.6 1460.3,237.1 1463.4,236.6 1466.6,236.1 1469.8,235.5 1472.9,235.0 1476.1,234.4 1479.3,233.8 1482.5,233.1 1485.6,232.5 1488.8,231.8 1492.0,231.1 1495.1,230.4 1498.3,229.6 1501.5,228.9 1504.7,228.1 1507.8,227.2 1511.0,226.4 1514.2,225.5 1517.3,224.6 1520.5,223.7 1523.7,222.8 1526.9,221.8 1530.0,220.8 1533.2,219.8 1536.4,218.8 1539.5,217.7 1542.7,216.6 1545.9,215.5 1549.1,214.4 1552.2,213.2 1555.4,212.0 1558.6,210.8 1561.7,209.5 1564.9,208.3 1568.1,207.0 1571.3,205.6 1574.4,204.3 1577.6,202.9 1580.8,201.5 1583.9,200.0 1587.1,198.6 1590.3,197.0 1593.5,195.5 1596.6,194.0 1599.8,192.4 1603.0,190.8 1606.1,189.1 1609.3,187.4 1612.5,185.7 1615.7,184.0 1618.8,182.2 1622.0,180.4 1625.2,178.6 1628.3,176.7 1631.5,174.8 1634.7,172.9" fill="none" stroke="#76357c" stroke-width="3.5" stroke-linejoin="round"/>
<polygon points="1668.5,308.0 1671.7,308.0 1674.8,308.1 1678.0,308.1 1681.2,308.1 1684.4,308.1 1687.5,308.0 1690.7,308.0 1693.9,307.9 1697.0,307.7 1700.2,307.6 1703.4,307.4 1706.6,307.2 1709.7,307.0 1712.9,306.7 1716.1,306.5 1719.2,306.2 1722.4,305.9 1725.6,305.5 1728.8,305.2 1731.9,304.8 1735.1,304.4 1738.3,303.9 1741.4,303.5 1744.6,303.0 1747.8,302.5 1751.0,302.0 1754.1,301.4 1757.3,300.8 1760.5,300.2 1763.6,299.6 1766.8,299.0 1770.0,298.3 1773.2,297.6 1776.3,296.9 1779.5,296.1 1782.7,295.3 1785.8,294.5 1789.0,293.6 1792.2,292.7 1795.4,291.8 1798.5,290.8 1801.7,289.8 1804.9,288.8 1808.0,287.7 1811.2,286.5 1814.4,285.4 1817.6,284.1 1820.7,282.8 1823.9,281.5 1827.1,280.1 1830.2,278.7 1833.4,277.2 1836.6,275.6 1839.8,274.0 1842.9,272.3 1846.1,270.6 1849.3,268.8 1852.4,266.9 1855.6,265.0 1858.8,262.9 1858.8,280.9 1855.6,282.4 1852.4,283.9 1849.3,285.4 1846.1,286.7 1842.9,288.1 1839.8,289.4 1836.6,290.7 1833.4,291.9 1830.2,293.1 1827.1,294.2 1823.9,295.3 1820.7,296.4 1817.6,297.5 1814.4,298.5 1811.2,299.5 1808.0,300.5 1804.9,301.5 1801.7,302.4 1798.5,303.3 1795.4,304.2 1792.2,305.1 1789.0,305.9 1785.8,306.8 1782.7,307.6 1779.5,308.4 1776.3,309.2 1773.2,310.0 1770.0,310.8 1766.8,311.6 1763.6,312.4 1760.5,313.2 1757.3,313.9 1754.1,314.7 1751.0,315.5 1747.8,316.3 1744.6,317.0 1741.4,317.8 1738.3,318.6 1735.1,319.3 1731.9,320.1 1728.8,320.9 1725.6,321.6 1722.4,322.4 1719.2,323.1 1716.1,323.9 1712.9,324.6 1709.7,325.3 1706.6,326.1 1703.4,326.8 1700.2,327.6 1697.0,328.3 1693.9,329.0 1690.7,329.7 1687.5,330.5 1684.4,331.2 1681.2,331.9 1678.0,332.6 1674.8,333.3 1671.7,334.0 1668.5,334.7" fill="#55824b" fill-opacity="0.20"/>
<polygon points="1668.5,292.9 1671.7,293.1 1674.8,293.4 1678.0,293.6 1681.2,293.8 1684.4,294.0 1687.5,294.1 1690.7,294.2 1693.9,294.3 1697.0,294.3 1700.2,294.3 1703.4,294.3 1706.6,294.3 1709.7,294.2 1712.9,294.1 1716.1,294.0 1719.2,293.8 1722.4,293.6 1725.6,293.4 1728.8,293.1 1731.9,292.9 1735.1,292.5 1738.3,292.2 1741.4,291.9 1744.6,291.5 1747.8,291.1 1751.0,290.6 1754.1,290.2 1757.3,289.7 1760.5,289.1 1763.6,288.6 1766.8,288.0 1770.0,287.4 1773.2,286.8 1776.3,286.2 1779.5,285.5 1782.7,284.8 1785.8,284.0 1789.0,283.2 1792.2,282.4 1795.4,281.5 1798.5,280.6 1801.7,279.6 1804.9,278.6 1808.0,277.6 1811.2,276.5 1814.4,275.3 1817.6,274.1 1820.7,272.9 1823.9,271.6 1827.1,270.2 1830.2,268.8 1833.4,267.3 1836.6,265.7 1839.8,264.1 1842.9,262.4 1846.1,260.7 1849.3,258.9 1852.4,257.0 1855.6,255.0 1858.8,253.0 1858.8,274.9 1855.6,276.2 1852.4,277.5 1849.3,278.7 1846.1,279.9 1842.9,281.0 1839.8,282.1 1836.6,283.2 1833.4,284.2 1830.2,285.2 1827.1,286.2 1823.9,287.1 1820.7,288.0 1817.6,288.9 1814.4,289.7 1811.2,290.6 1808.0,291.4 1804.9,292.2 1801.7,292.9 1798.5,293.7 1795.4,294.4 1792.2,295.2 1789.0,295.9 1785.8,296.6 1782.7,297.3 1779.5,298.0 1776.3,298.6 1773.2,299.3 1770.0,300.0 1766.8,300.7 1763.6,301.4 1760.5,302.1 1757.3,302.8 1754.1,303.5 1751.0,304.2 1747.8,304.9 1744.6,305.6 1741.4,306.3 1738.3,307.0 1735.1,307.7 1731.9,308.4 1728.8,309.1 1725.6,309.9 1722.4,310.6 1719.2,311.3 1716.1,312.0 1712.9,312.8 1709.7,313.5 1706.6,314.2 1703.4,314.9 1700.2,315.6 1697.0,316.4 1693.9,317.1 1690.7,317.8 1687.5,318.5 1684.4,319.2 1681.2,320.0 1678.0,320.7 1674.8,321.4 1671.7,322.1 1668.5,322.8" fill="#8e4a9a" fill-opacity="0.20"/>
<polyline points="1668.5,321.4 1671.7,321.0 1674.8,320.7 1678.0,320.4 1681.2,320.0 1684.4,319.6 1687.5,319.2 1690.7,318.8 1693.9,318.4 1697.0,318.0 1700.2,317.6 1703.4,317.1 1706.6,316.6 1709.7,316.2 1712.9,315.7 1716.1,315.2 1719.2,314.6 1722.4,314.1 1725.6,313.6 1728.8,313.0 1731.9,312.4 1735.1,311.9 1738.3,311.3 1741.4,310.6 1744.6,310.0 1747.8,309.4 1751.0,308.7 1754.1,308.1 1757.3,307.4 1760.5,306.7 1763.6,306.0 1766.8,305.3 1770.0,304.6 1773.2,303.8 1776.3,303.0 1779.5,302.3 1782.7,301.5 1785.8,300.6 1789.0,299.8 1792.2,298.9 1795.4,298.0 1798.5,297.1 1801.7,296.1 1804.9,295.1 1808.0,294.1 1811.2,293.0 1814.4,291.9 1817.6,290.8 1820.7,289.6 1823.9,288.4 1827.1,287.2 1830.2,285.9 1833.4,284.5 1836.6,283.1 1839.8,281.7 1842.9,280.2 1846.1,278.7 1849.3,277.1 1852.4,275.4 1855.6,273.7 1858.8,271.9" fill="none" stroke="#2c8351" stroke-width="3.5" stroke-linejoin="round"/>
<polyline points="1668.5,307.8 1671.7,307.6 1674.8,307.4 1678.0,307.2 1681.2,306.9 1684.4,306.6 1687.5,306.3 1690.7,306.0 1693.9,305.7 1697.0,305.3 1700.2,305.0 1703.4,304.6 1706.6,304.2 1709.7,303.8 1712.9,303.4 1716.1,303.0 1719.2,302.5 1722.4,302.1 1725.6,301.6 1728.8,301.1 1731.9,300.6 1735.1,300.1 1738.3,299.6 1741.4,299.1 1744.6,298.5 1747.8,298.0 1751.0,297.4 1754.1,296.8 1757.3,296.2 1760.5,295.6 1763.6,295.0 1766.8,294.4 1770.0,293.7 1773.2,293.1 1776.3,292.4 1779.5,291.7 1782.7,291.0 1785.8,290.3 1789.0,289.5 1792.2,288.8 1795.4,288.0 1798.5,287.1 1801.7,286.3 1804.9,285.4 1808.0,284.5 1811.2,283.5 1814.4,282.5 1817.6,281.5 1820.7,280.4 1823.9,279.3 1827.1,278.2 1830.2,277.0 1833.4,275.7 1836.6,274.5 1839.8,273.1 1842.9,271.7 1846.1,270.3 1849.3,268.8 1852.4,267.2 1855.6,265.6 1858.8,264.0" fill="none" stroke="#76357c" stroke-width="3.5" stroke-linejoin="round"/>
<polygon points="1892.6,269.2 1895.8,269.5 1898.9,269.9 1902.1,270.2 1905.3,270.4 1908.5,270.6 1911.6,270.8 1914.8,270.9 1918.0,270.9 1921.1,271.0 1924.3,271.0 1927.5,270.9 1930.7,270.8 1933.8,270.7 1937.0,270.6 1940.2,270.4 1943.3,270.1 1946.5,269.9 1949.7,269.6 1952.9,269.3 1956.0,268.9 1959.2,268.5 1962.4,268.1 1965.5,267.6 1968.7,267.1 1971.9,266.6 1975.1,266.1 1978.2,265.5 1981.4,264.9 1984.6,264.3 1987.7,263.6 1990.9,262.9 1994.1,262.2 1997.3,261.5 2000.4,260.8 2003.6,260.0 2006.8,259.2 2009.9,258.4 2013.1,257.5 2016.3,256.7 2019.5,255.8 2022.6,254.9 2025.8,254.0 2029.0,253.1 2032.1,252.2 2035.3,251.2 2038.5,250.2 2041.7,249.2 2044.8,248.2 2048.0,247.2 2051.2,246.2 2054.3,245.2 2057.5,244.1 2060.7,243.1 2063.9,242.0 2067.0,241.0 2070.2,239.9 2073.4,238.8 2076.5,237.7 2079.7,236.6 2082.9,235.5 2082.9,275.5 2079.7,276.1 2076.5,276.7 2073.4,277.4 2070.2,278.0 2067.0,278.7 2063.9,279.4 2060.7,280.1 2057.5,280.9 2054.3,281.6 2051.2,282.4 2048.0,283.2 2044.8,284.0 2041.7,284.8 2038.5,285.6 2035.3,286.4 2032.1,287.2 2029.0,288.1 2025.8,288.9 2022.6,289.8 2019.5,290.7 2016.3,291.5 2013.1,292.4 2009.9,293.3 2006.8,294.2 2003.6,295.1 2000.4,296.0 1997.3,296.9 1994.1,297.8 1990.9,298.7 1987.7,299.6 1984.6,300.5 1981.4,301.4 1978.2,302.2 1975.1,303.1 1971.9,304.0 1968.7,304.9 1965.5,305.8 1962.4,306.7 1959.2,307.5 1956.0,308.4 1952.9,309.2 1949.7,310.1 1946.5,310.9 1943.3,311.8 1940.2,312.6 1937.0,313.4 1933.8,314.2 1930.7,314.9 1927.5,315.7 1924.3,316.5 1921.1,317.2 1918.0,317.9 1914.8,318.6 1911.6,319.3 1908.5,320.0 1905.3,320.7 1902.1,321.3 1898.9,321.9 1895.8,322.5 1892.6,323.1" fill="#55824b" fill-opacity="0.20"/>
<polygon points="1892.6,256.3 1895.8,256.8 1898.9,257.2 1902.1,257.6 1905.3,258.0 1908.5,258.2 1911.6,258.5 1914.8,258.7 1918.0,258.8 1921.1,258.9 1924.3,258.9 1927.5,258.9 1930.7,258.9 1933.8,258.8 1937.0,258.7 1940.2,258.5 1943.3,258.3 1946.5,258.0 1949.7,257.8 1952.9,257.4 1956.0,257.1 1959.2,256.7 1962.4,256.3 1965.5,255.8 1968.7,255.4 1971.9,254.8 1975.1,254.3 1978.2,253.7 1981.4,253.2 1984.6,252.5 1987.7,251.9 1990.9,251.3 1994.1,250.6 1997.3,249.9 2000.4,249.2 2003.6,248.4 2006.8,247.7 2009.9,246.9 2013.1,246.1 2016.3,245.3 2019.5,244.5 2022.6,243.7 2025.8,242.9 2029.0,242.1 2032.1,241.3 2035.3,240.4 2038.5,239.6 2041.7,238.7 2044.8,237.9 2048.0,237.0 2051.2,236.2 2054.3,235.3 2057.5,234.5 2060.7,233.6 2063.9,232.8 2067.0,232.0 2070.2,231.2 2073.4,230.3 2076.5,229.5 2079.7,228.7 2082.9,228.0 2082.9,265.9 2079.7,266.2 2076.5,266.6 2073.4,266.9 2070.2,267.3 2067.0,267.8 2063.9,268.3 2060.7,268.8 2057.5,269.3 2054.3,269.9 2051.2,270.4 2048.0,271.1 2044.8,271.7 2041.7,272.3 2038.5,273.0 2035.3,273.7 2032.1,274.4 2029.0,275.2 2025.8,275.9 2022.6,276.7 2019.5,277.5 2016.3,278.3 2013.1,279.1 2009.9,279.9 2006.8,280.7 2003.6,281.6 2000.4,282.4 1997.3,283.3 1994.1,284.1 1990.9,285.0 1987.7,285.9 1984.6,286.7 1981.4,287.6 1978.2,288.5 1975.1,289.3 1971.9,290.2 1968.7,291.0 1965.5,291.9 1962.4,292.7 1959.2,293.6 1956.0,294.4 1952.9,295.2 1949.7,296.0 1946.5,296.8 1943.3,297.6 1940.2,298.4 1937.0,299.2 1933.8,299.9 1930.7,300.6 1927.5,301.3 1924.3,302.0 1921.1,302.6 1918.0,303.3 1914.8,303.9 1911.6,304.5 1908.5,305.0 1905.3,305.6 1902.1,306.1 1898.9,306.6 1895.8,307.0 1892.6,307.4" fill="#8e4a9a" fill-opacity="0.20"/>
<polyline points="1892.6,296.1 1895.8,296.0 1898.9,295.9 1902.1,295.7 1905.3,295.5 1908.5,295.3 1911.6,295.0 1914.8,294.8 1918.0,294.4 1921.1,294.1 1924.3,293.7 1927.5,293.3 1930.7,292.9 1933.8,292.4 1937.0,292.0 1940.2,291.5 1943.3,291.0 1946.5,290.4 1949.7,289.8 1952.9,289.3 1956.0,288.6 1959.2,288.0 1962.4,287.4 1965.5,286.7 1968.7,286.0 1971.9,285.3 1975.1,284.6 1978.2,283.9 1981.4,283.1 1984.6,282.4 1987.7,281.6 1990.9,280.8 1994.1,280.0 1997.3,279.2 2000.4,278.4 2003.6,277.5 2006.8,276.7 2009.9,275.8 2013.1,275.0 2016.3,274.1 2019.5,273.2 2022.6,272.4 2025.8,271.5 2029.0,270.6 2032.1,269.7 2035.3,268.8 2038.5,267.9 2041.7,267.0 2044.8,266.1 2048.0,265.2 2051.2,264.3 2054.3,263.4 2057.5,262.5 2060.7,261.6 2063.9,260.7 2067.0,259.8 2070.2,259.0 2073.4,258.1 2076.5,257.2 2079.7,256.3 2082.9,255.5" fill="none" stroke="#2c8351" stroke-width="3.5" stroke-linejoin="round"/>
<polyline points="1892.6,281.8 1895.8,281.9 1898.9,281.9 1902.1,281.8 1905.3,281.8 1908.5,281.6 1911.6,281.5 1914.8,281.3 1918.0,281.0 1921.1,280.8 1924.3,280.5 1927.5,280.1 1930.7,279.8 1933.8,279.3 1937.0,278.9 1940.2,278.5 1943.3,278.0 1946.5,277.4 1949.7,276.9 1952.9,276.3 1956.0,275.8 1959.2,275.1 1962.4,274.5 1965.5,273.9 1968.7,273.2 1971.9,272.5 1975.1,271.8 1978.2,271.1 1981.4,270.4 1984.6,269.6 1987.7,268.9 1990.9,268.1 1994.1,267.4 1997.3,266.6 2000.4,265.8 2003.6,265.0 2006.8,264.2 2009.9,263.4 2013.1,262.6 2016.3,261.8 2019.5,261.0 2022.6,260.2 2025.8,259.4 2029.0,258.6 2032.1,257.8 2035.3,257.1 2038.5,256.3 2041.7,255.5 2044.8,254.8 2048.0,254.0 2051.2,253.3 2054.3,252.6 2057.5,251.9 2060.7,251.2 2063.9,250.5 2067.0,249.9 2070.2,249.3 2073.4,248.6 2076.5,248.1 2079.7,247.5 2082.9,246.9" fill="none" stroke="#76357c" stroke-width="3.5" stroke-linejoin="round"/>
<polygon points="99.8,534.1 103.0,535.0 106.1,535.8 109.3,536.6 112.5,537.4 115.7,538.1 118.8,538.8 122.0,539.5 125.2,540.1 128.3,540.6 131.5,541.1 134.7,541.6 137.9,542.0 141.0,542.3 144.2,542.6 147.4,542.8 150.5,543.0 153.7,543.1 156.9,543.1 160.1,543.1 163.2,543.0 166.4,542.8 169.6,542.5 172.7,542.2 175.9,541.8 179.1,541.4 182.3,540.9 185.4,540.4 188.6,539.8 191.8,539.2 194.9,538.6 198.1,538.0 201.3,537.3 204.5,536.6 207.6,535.9 210.8,535.2 214.0,534.6 217.1,533.9 220.3,533.3 223.5,532.7 226.7,532.1 229.8,531.5 233.0,531.0 236.2,530.5 239.3,530.1 242.5,529.6 245.7,529.2 248.9,528.9 252.0,528.5 255.2,528.2 258.4,527.8 261.5,527.5 264.7,527.2 267.9,526.9 271.1,526.6 274.2,526.4 277.4,526.1 280.6,525.8 283.7,525.5 286.9,525.2 290.1,524.9 290.1,540.8 286.9,540.6 283.7,540.3 280.6,540.1 277.4,539.8 274.2,539.6 271.1,539.4 267.9,539.3 264.7,539.1 261.5,539.0 258.4,538.9 255.2,538.9 252.0,538.9 248.9,538.9 245.7,539.0 242.5,539.1 239.3,539.3 236.2,539.5 233.0,539.8 229.8,540.1 226.7,540.5 223.5,540.9 220.3,541.4 217.1,542.0 214.0,542.6 210.8,543.2 207.6,543.8 204.5,544.5 201.3,545.2 198.1,545.9 194.9,546.6 191.8,547.3 188.6,548.0 185.4,548.7 182.3,549.4 179.1,550.0 175.9,550.6 172.7,551.2 169.6,551.8 166.4,552.3 163.2,552.7 160.1,553.2 156.9,553.5 153.7,553.8 150.5,554.1 147.4,554.3 144.2,554.5 141.0,554.7 137.9,554.8 134.7,554.9 131.5,554.9 128.3,554.9 125.2,554.9 122.0,554.9 118.8,554.8 115.7,554.7 112.5,554.6 109.3,554.5 106.1,554.4 103.0,554.2 99.8,554.1" fill="#55824b" fill-opacity="0.20"/>
<polygon points="99.8,532.7 103.0,533.6 106.1,534.5 109.3,535.3 112.5,536.1 115.7,536.9 118.8,537.6 122.0,538.3 125.2,539.0 128.3,539.6 131.5,540.1 134.7,540.7 137.9,541.1 141.0,541.5 144.2,541.9 147.4,542.2 150.5,542.4 153.7,542.5 156.9,542.6 160.1,542.6 163.2,542.6 166.4,542.5 169.6,542.2 172.7,542.0 175.9,541.6 179.1,541.2 182.3,540.8 185.4,540.3 188.6,539.8 191.8,539.2 194.9,538.6 198.1,538.0 201.3,537.3 204.5,536.6 207.6,536.0 210.8,535.3 214.0,534.6 217.1,533.9 220.3,533.3 223.5,532.7 226.7,532.1 229.8,531.5 233.0,531.0 236.2,530.5 239.3,530.0 242.5,529.6 245.7,529.2 248.9,528.8 252.0,528.5 255.2,528.2 258.4,527.9 261.5,527.6 264.7,527.3 267.9,527.0 271.1,526.8 274.2,526.5 277.4,526.3 280.6,526.1 283.7,525.9 286.9,525.7 290.1,525.5 290.1,541.4 286.9,541.1 283.7,540.7 280.6,540.4 277.4,540.1 274.2,539.8 271.1,539.6 267.9,539.4 264.7,539.2 261.5,539.0 258.4,538.9 255.2,538.9 252.0,538.9 248.9,538.9 245.7,539.0 242.5,539.1 239.3,539.3 236.2,539.5 233.0,539.8 229.8,540.1 226.7,540.5 223.5,541.0 220.3,541.5 217.1,542.0 214.0,542.6 210.8,543.2 207.6,543.9 204.5,544.5 201.3,545.2 198.1,545.9 194.9,546.6 191.8,547.3 188.6,547.9 185.4,548.6 182.3,549.2 179.1,549.8 175.9,550.4 172.7,551.0 169.6,551.5 166.4,551.9 163.2,552.4 160.1,552.7 156.9,553.0 153.7,553.3 150.5,553.5 147.4,553.6 144.2,553.8 141.0,553.9 137.9,553.9 134.7,553.9 131.5,553.9 128.3,553.9 125.2,553.8 122.0,553.7 118.8,553.6 115.7,553.5 112.5,553.3 109.3,553.2 106.1,553.0 103.0,552.8 99.8,552.7" fill="#8e4a9a" fill-opacity="0.20"/>
<polyline points="99.8,544.1 103.0,544.6 106.1,545.1 109.3,545.6 112.5,546.0 115.7,546.4 118.8,546.8 122.0,547.2 125.2,547.5 128.3,547.8 131.5,548.0 134.7,548.2 137.9,548.4 141.0,548.5 144.2,548.6 147.4,548.6 150.5,548.6 153.7,548.5 156.9,548.3 160.1,548.1 163.2,547.9 166.4,547.5 169.6,547.2 172.7,546.7 175.9,546.2 179.1,545.7 182.3,545.1 185.4,544.5 188.6,543.9 191.8,543.3 194.9,542.6 198.1,541.9 201.3,541.2 204.5,540.6 207.6,539.9 210.8,539.2 214.0,538.6 217.1,537.9 220.3,537.4 223.5,536.8 226.7,536.3 229.8,535.8 233.0,535.4 236.2,535.0 239.3,534.7 242.5,534.4 245.7,534.1 248.9,533.9 252.0,533.7 255.2,533.5 258.4,533.4 261.5,533.3 264.7,533.2 267.9,533.1 271.1,533.0 274.2,533.0 277.4,532.9 280.6,532.9 283.7,532.9 286.9,532.9 290.1,532.9" fill="none" stroke="#2c8351" stroke-width="3.5" stroke-linejoin="round"/>
<polyline points="99.8,542.7 103.0,543.2 106.1,543.7 109.3,544.2 112.5,544.7 115.7,545.2 118.8,545.6 122.0,546.0 125.2,546.4 128.3,546.7 131.5,547.0 134.7,547.3 137.9,547.5 141.0,547.7 144.2,547.8 147.4,547.9 150.5,547.9 153.7,547.9 156.9,547.8 160.1,547.7 163.2,547.5 166.4,547.2 169.6,546.9 172.7,546.5 175.9,546.0 179.1,545.5 182.3,545.0 185.4,544.4 188.6,543.9 191.8,543.2 194.9,542.6 198.1,541.9 201.3,541.3 204.5,540.6 207.6,539.9 210.8,539.2 214.0,538.6 217.1,538.0 220.3,537.4 223.5,536.8 226.7,536.3 229.8,535.8 233.0,535.4 236.2,535.0 239.3,534.7 242.5,534.4 245.7,534.1 248.9,533.9 252.0,533.7 255.2,533.5 258.4,533.4 261.5,533.3 264.7,533.2 267.9,533.2 271.1,533.2 274.2,533.2 277.4,533.2 280.6,533.2 283.7,533.3 286.9,533.4 290.1,533.5" fill="none" stroke="#76357c" stroke-width="3.5" stroke-linejoin="round"/>
<polygon points="323.9,553.9 327.1,553.8 330.2,553.8 333.4,553.6 336.6,553.5 339.8,553.2 342.9,553.0 346.1,552.7 349.3,552.4 352.4,552.1 355.6,551.7 358.8,551.3 362.0,550.9 365.1,550.5 368.3,550.0 371.5,549.6 374.6,549.1 377.8,548.6 381.0,548.1 384.2,547.6 387.3,547.1 390.5,546.6 393.7,546.1 396.8,545.6 400.0,545.1 403.2,544.6 406.4,544.1 409.5,543.6 412.7,543.2 415.9,542.7 419.0,542.3 422.2,541.9 425.4,541.5 428.6,541.2 431.7,540.8 434.9,540.5 438.1,540.1 441.2,539.8 444.4,539.4 447.6,539.1 450.8,538.7 453.9,538.4 457.1,538.0 460.3,537.6 463.4,537.2 466.6,536.7 469.8,536.3 473.0,535.8 476.1,535.2 479.3,534.6 482.5,534.0 485.6,533.4 488.8,532.6 492.0,531.9 495.2,531.1 498.3,530.2 501.5,529.3 504.7,528.3 507.8,527.2 511.0,526.1 514.2,524.9 514.2,544.8 511.0,545.5 507.8,546.0 504.7,546.6 501.5,547.1 498.3,547.5 495.2,547.9 492.0,548.3 488.8,548.7 485.6,549.0 482.5,549.3 479.3,549.6 476.1,549.9 473.0,550.2 469.8,550.4 466.6,550.7 463.4,551.0 460.3,551.2 457.1,551.5 453.9,551.8 450.8,552.1 447.6,552.4 444.4,552.7 441.2,553.0 438.1,553.4 434.9,553.8 431.7,554.2 428.6,554.7 425.4,555.2 422.2,555.7 419.0,556.3 415.9,556.9 412.7,557.6 409.5,558.3 406.4,559.1 403.2,559.9 400.0,560.7 396.8,561.6 393.7,562.5 390.5,563.4 387.3,564.4 384.2,565.4 381.0,566.4 377.8,567.4 374.6,568.5 371.5,569.5 368.3,570.6 365.1,571.7 362.0,572.8 358.8,573.9 355.6,575.0 352.4,576.1 349.3,577.2 346.1,578.3 342.9,579.4 339.8,580.5 336.6,581.6 333.4,582.7 330.2,583.8 327.1,584.8 323.9,585.8" fill="#55824b" fill-opacity="0.20"/>
<polygon points="323.9,542.9 327.1,542.8 330.2,542.8 333.4,542.6 336.6,542.4 339.8,542.2 342.9,542.0 346.1,541.6 349.3,541.3 352.4,540.9 355.6,540.5 358.8,540.1 362.0,539.6 365.1,539.1 368.3,538.6 371.5,538.1 374.6,537.5 377.8,537.0 381.0,536.4 384.2,535.8 387.3,535.2 390.5,534.6 393.7,534.0 396.8,533.3 400.0,532.7 403.2,532.1 406.4,531.5 409.5,530.9 412.7,530.3 415.9,529.7 419.0,529.2 422.2,528.6 425.4,528.1 428.6,527.6 431.7,527.1 434.9,526.6 438.1,526.1 441.2,525.6 444.4,525.1 447.6,524.6 450.8,524.1 453.9,523.5 457.1,523.0 460.3,522.5 463.4,521.9 466.6,521.4 469.8,520.8 473.0,520.2 476.1,519.5 479.3,518.9 482.5,518.2 485.6,517.4 488.8,516.7 492.0,515.9 495.2,515.0 498.3,514.1 501.5,513.2 504.7,512.2 507.8,511.2 511.0,510.1 514.2,509.0 514.2,528.2 511.0,528.7 507.8,529.2 504.7,529.6 501.5,530.1 498.3,530.5 495.2,530.9 492.0,531.3 488.8,531.7 485.6,532.0 482.5,532.4 479.3,532.7 476.1,533.0 473.0,533.4 469.8,533.7 466.6,534.0 463.4,534.4 460.3,534.7 457.1,535.1 453.9,535.5 450.8,535.9 447.6,536.3 444.4,536.7 441.2,537.2 438.1,537.6 434.9,538.1 431.7,538.7 428.6,539.2 425.4,539.8 422.2,540.5 419.0,541.2 415.9,541.9 412.7,542.6 409.5,543.4 406.4,544.3 403.2,545.1 400.0,546.0 396.8,547.0 393.7,547.9 390.5,548.9 387.3,549.9 384.2,550.9 381.0,552.0 377.8,553.0 374.6,554.1 371.5,555.2 368.3,556.2 365.1,557.3 362.0,558.4 358.8,559.5 355.6,560.6 352.4,561.7 349.3,562.7 346.1,563.8 342.9,564.9 339.8,565.9 336.6,566.9 333.4,567.9 330.2,568.9 327.1,569.9 323.9,570.8" fill="#8e4a9a" fill-opacity="0.20"/>
<polyline points="323.9,569.9 327.1,569.3 330.2,568.8 333.4,568.2 336.6,567.5 339.8,566.9 342.9,566.2 346.1,565.5 349.3,564.8 352.4,564.1 355.6,563.4 358.8,562.6 362.0,561.9 365.1,561.1 368.3,560.3 371.5,559.5 374.6,558.8 377.8,558.0 381.0,557.2 384.2,556.5 387.3,555.7 390.5,555.0 393.7,554.3 396.8,553.6 400.0,552.9 403.2,552.2 406.4,551.6 409.5,551.0 412.7,550.4 415.9,549.8 419.0,549.3 422.2,548.8 425.4,548.3 428.6,547.9 431.7,547.5 434.9,547.1 438.1,546.8 441.2,546.4 444.4,546.1 447.6,545.7 450.8,545.4 453.9,545.1 457.1,544.7 460.3,544.4 463.4,544.1 466.6,543.7 469.8,543.4 473.0,543.0 476.1,542.6 479.3,542.1 482.5,541.7 485.6,541.2 488.8,540.7 492.0,540.1 495.2,539.5 498.3,538.9 501.5,538.2 504.7,537.4 507.8,536.6 511.0,535.8 514.2,534.8" fill="none" stroke="#2c8351" stroke-width="3.5" stroke-linejoin="round"/>
<polyline points="323.9,556.9 327.1,556.4 330.2,555.8 333.4,555.3 336.6,554.7 339.8,554.1 342.9,553.4 346.1,552.7 349.3,552.0 352.4,551.3 355.6,550.6 358.8,549.8 362.0,549.0 365.1,548.2 368.3,547.4 371.5,546.6 374.6,545.8 377.8,545.0 381.0,544.2 384.2,543.4 387.3,542.5 390.5,541.7 393.7,540.9 396.8,540.2 400.0,539.4 403.2,538.6 406.4,537.9 409.5,537.2 412.7,536.5 415.9,535.8 419.0,535.2 422.2,534.6 425.4,534.0 428.6,533.4 431.7,532.9 434.9,532.4 438.1,531.8 441.2,531.4 444.4,530.9 447.6,530.4 450.8,530.0 453.9,529.5 457.1,529.1 460.3,528.6 463.4,528.2 466.6,527.7 469.8,527.2 473.0,526.8 476.1,526.3 479.3,525.8 482.5,525.3 485.6,524.7 488.8,524.2 492.0,523.6 495.2,523.0 498.3,522.3 501.5,521.7 504.7,520.9 507.8,520.2 511.0,519.4 514.2,518.6" fill="none" stroke="#76357c" stroke-width="3.5" stroke-linejoin="round"/>
<polygon points="548.0,581.4 551.2,582.2 554.3,582.9 557.5,583.6 560.7,584.1 563.9,584.6 567.0,585.0 570.2,585.3 573.4,585.5 576.5,585.7 579.7,585.7 582.9,585.7 586.1,585.7 589.2,585.6 592.4,585.4 595.6,585.1 598.7,584.8 601.9,584.4 605.1,584.0 608.3,583.5 611.4,583.0 614.6,582.4 617.8,581.8 620.9,581.1 624.1,580.4 627.3,579.6 630.5,578.8 633.6,578.0 636.8,577.1 640.0,576.2 643.1,575.2 646.3,574.3 649.5,573.3 652.7,572.3 655.8,571.2 659.0,570.2 662.2,569.1 665.3,568.0 668.5,566.9 671.7,565.8 674.9,564.7 678.0,563.6 681.2,562.5 684.4,561.4 687.5,560.2 690.7,559.1 693.9,558.1 697.1,557.0 700.2,555.9 703.4,554.9 706.6,553.9 709.7,552.9 712.9,551.9 716.1,550.8 719.3,549.7 722.4,548.5 725.6,547.1 728.8,545.6 731.9,543.9 735.1,542.0 738.3,539.8 738.3,559.8 735.1,561.2 731.9,562.4 728.8,563.3 725.6,564.1 722.4,564.8 719.3,565.3 716.1,565.8 712.9,566.2 709.7,566.6 706.6,567.0 703.4,567.5 700.2,568.0 697.1,568.6 693.9,569.2 690.7,569.8 687.5,570.4 684.4,571.1 681.2,571.8 678.0,572.6 674.9,573.3 671.7,574.1 668.5,574.9 665.3,575.7 662.2,576.6 659.0,577.4 655.8,578.2 652.7,579.1 649.5,579.9 646.3,580.8 643.1,581.6 640.0,582.5 636.8,583.3 633.6,584.1 630.5,584.9 627.3,585.7 624.1,586.5 620.9,587.2 617.8,588.0 614.6,588.7 611.4,589.4 608.3,590.0 605.1,590.7 601.9,591.3 598.7,591.8 595.6,592.4 592.4,592.8 589.2,593.3 586.1,593.7 582.9,594.1 579.7,594.4 576.5,594.7 573.4,594.9 570.2,595.1 567.0,595.2 563.9,595.2 560.7,595.2 557.5,595.2 554.3,595.0 551.2,594.8 548.0,594.6" fill="#55824b" fill-opacity="0.20"/>
<polygon points="548.0,570.6 551.2,571.5 554.3,572.2 557.5,572.8 560.7,573.4 563.9,573.9 567.0,574.3 570.2,574.6 573.4,574.8 576.5,575.0 579.7,575.1 582.9,575.1 586.1,575.0 589.2,574.9 592.4,574.7 595.6,574.4 598.7,574.1 601.9,573.7 605.1,573.2 608.3,572.7 611.4,572.1 614.6,571.5 617.8,570.8 620.9,570.1 624.1,569.3 627.3,568.5 630.5,567.6 633.6,566.7 636.8,565.8 640.0,564.8 643.1,563.8 646.3,562.7 649.5,561.6 652.7,560.5 655.8,559.3 659.0,558.2 662.2,556.9 665.3,555.7 668.5,554.5 671.7,553.2 674.9,551.9 678.0,550.6 681.2,549.3 684.4,548.0 687.5,546.7 690.7,545.4 693.9,544.0 697.1,542.7 700.2,541.4 703.4,540.0 706.6,538.7 709.7,537.4 712.9,536.1 716.1,534.7 719.3,533.3 722.4,531.9 725.6,530.5 728.8,528.9 731.9,527.3 735.1,525.6 738.3,523.9 738.3,545.0 735.1,545.9 731.9,546.8 728.8,547.5 725.6,548.2 722.4,548.9 719.3,549.6 716.1,550.2 712.9,550.8 709.7,551.5 706.6,552.2 703.4,552.9 700.2,553.6 697.1,554.3 693.9,555.1 690.7,555.9 687.5,556.8 684.4,557.6 681.2,558.5 678.0,559.4 674.9,560.3 671.7,561.2 668.5,562.2 665.3,563.1 662.2,564.1 659.0,565.0 655.8,566.0 652.7,566.9 649.5,567.9 646.3,568.8 643.1,569.8 640.0,570.7 636.8,571.6 633.6,572.5 630.5,573.4 627.3,574.3 624.1,575.2 620.9,576.0 617.8,576.8 614.6,577.6 611.4,578.4 608.3,579.1 605.1,579.8 601.9,580.5 598.7,581.2 595.6,581.8 592.4,582.4 589.2,582.9 586.1,583.4 582.9,583.8 579.7,584.2 576.5,584.6 573.4,584.9 570.2,585.2 567.0,585.4 563.9,585.5 560.7,585.6 557.5,585.7 554.3,585.6 551.2,585.6 548.0,585.4" fill="#8e4a9a" fill-opacity="0.20"/>
<polyline points="548.0,588.0 551.2,588.5 554.3,589.0 557.5,589.4 560.7,589.7 563.9,589.9 567.0,590.1 570.2,590.2 573.4,590.2 576.5,590.2 579.7,590.1 582.9,589.9 586.1,589.7 589.2,589.4 592.4,589.1 595.6,588.7 598.7,588.3 601.9,587.8 605.1,587.3 608.3,586.8 611.4,586.2 614.6,585.5 617.8,584.9 620.9,584.2 624.1,583.4 627.3,582.7 630.5,581.9 633.6,581.0 636.8,580.2 640.0,579.3 643.1,578.4 646.3,577.5 649.5,576.6 652.7,575.7 655.8,574.7 659.0,573.8 662.2,572.8 665.3,571.9 668.5,570.9 671.7,570.0 674.9,569.0 678.0,568.1 681.2,567.2 684.4,566.2 687.5,565.3 690.7,564.5 693.9,563.6 697.1,562.8 700.2,562.0 703.4,561.2 706.6,560.5 709.7,559.7 712.9,559.0 716.1,558.3 719.3,557.5 722.4,556.6 725.6,555.6 728.8,554.5 731.9,553.1 735.1,551.6 738.3,549.8" fill="none" stroke="#2c8351" stroke-width="3.5" stroke-linejoin="round"/>
<polyline points="548.0,578.0 551.2,578.5 554.3,578.9 557.5,579.3 560.7,579.5 563.9,579.7 567.0,579.8 570.2,579.9 573.4,579.9 576.5,579.8 579.7,579.7 582.9,579.5 586.1,579.2 589.2,578.9 592.4,578.5 595.6,578.1 598.7,577.6 601.9,577.1 605.1,576.5 608.3,575.9 611.4,575.3 614.6,574.6 617.8,573.8 620.9,573.0 624.1,572.2 627.3,571.4 630.5,570.5 633.6,569.6 636.8,568.7 640.0,567.7 643.1,566.8 646.3,565.8 649.5,564.7 652.7,563.7 655.8,562.6 659.0,561.6 662.2,560.5 665.3,559.4 668.5,558.3 671.7,557.2 674.9,556.1 678.0,555.0 681.2,553.9 684.4,552.8 687.5,551.7 690.7,550.7 693.9,549.6 697.1,548.5 700.2,547.5 703.4,546.4 706.6,545.4 709.7,544.4 712.9,543.4 716.1,542.5 719.3,541.5 722.4,540.4 725.6,539.3 728.8,538.2 731.9,537.0 735.1,535.8 738.3,534.4" fill="none" stroke="#76357c" stroke-width="3.5" stroke-linejoin="round"/>
<polygon points="772.1,556.7 775.3,556.7 778.4,556.8 781.6,556.9 784.8,556.9 788.0,556.9 791.1,556.9 794.3,556.9 797.5,556.9 800.6,556.9 803.8,556.9 807.0,556.9 810.2,556.8 813.3,556.8 816.5,556.7 819.7,556.7 822.8,556.6 826.0,556.5 829.2,556.4 832.4,556.3 835.5,556.2 838.7,556.1 841.9,555.9 845.0,555.8 848.2,555.6 851.4,555.5 854.6,555.3 857.7,555.2 860.9,555.0 864.1,554.8 867.2,554.6 870.4,554.4 873.6,554.2 876.8,554.0 879.9,553.8 883.1,553.6 886.3,553.3 889.4,553.1 892.6,552.8 895.8,552.6 899.0,552.3 902.1,552.1 905.3,551.8 908.5,551.5 911.6,551.2 914.8,551.0 918.0,550.7 921.2,550.4 924.3,550.1 927.5,549.7 930.7,549.4 933.8,549.1 937.0,548.8 940.2,548.4 943.4,548.1 946.5,547.8 949.7,547.4 952.9,547.1 956.0,546.7 959.2,546.3 962.4,546.0 962.4,555.9 959.2,555.9 956.0,555.8 952.9,555.7 949.7,555.7 946.5,555.7 943.4,555.6 940.2,555.6 937.0,555.7 933.8,555.7 930.7,555.7 927.5,555.8 924.3,555.9 921.2,555.9 918.0,556.0 914.8,556.2 911.6,556.3 908.5,556.4 905.3,556.6 902.1,556.7 899.0,556.9 895.8,557.1 892.6,557.3 889.4,557.5 886.3,557.7 883.1,558.0 879.9,558.2 876.8,558.5 873.6,558.8 870.4,559.1 867.2,559.4 864.1,559.7 860.9,560.1 857.7,560.4 854.6,560.8 851.4,561.1 848.2,561.5 845.0,561.9 841.9,562.3 838.7,562.7 835.5,563.1 832.4,563.6 829.2,564.0 826.0,564.5 822.8,565.0 819.7,565.4 816.5,565.9 813.3,566.4 810.2,566.9 807.0,567.5 803.8,568.0 800.6,568.5 797.5,569.1 794.3,569.7 791.1,570.2 788.0,570.8 784.8,571.4 781.6,572.0 778.4,572.6 775.3,573.2 772.1,573.8" fill="#55824b" fill-opacity="0.20"/>
<polygon points="772.1,552.9 775.3,552.9 778.4,552.9 781.6,552.9 784.8,552.9 788.0,552.8 791.1,552.8 794.3,552.8 797.5,552.7 800.6,552.6 803.8,552.6 807.0,552.5 810.2,552.5 813.3,552.4 816.5,552.3 819.7,552.2 822.8,552.2 826.0,552.1 829.2,552.0 832.4,551.9 835.5,551.8 838.7,551.7 841.9,551.6 845.0,551.5 848.2,551.5 851.4,551.4 854.6,551.3 857.7,551.2 860.9,551.1 864.1,551.0 867.2,550.9 870.4,550.8 873.6,550.8 876.8,550.7 879.9,550.6 883.1,550.5 886.3,550.4 889.4,550.3 892.6,550.2 895.8,550.1 899.0,550.0 902.1,549.9 905.3,549.8 908.5,549.7 911.6,549.5 914.8,549.4 918.0,549.2 921.2,549.0 924.3,548.8 927.5,548.6 930.7,548.4 933.8,548.1 937.0,547.9 940.2,547.6 943.4,547.3 946.5,546.9 949.7,546.6 952.9,546.2 956.0,545.8 959.2,545.4 962.4,544.9 962.4,554.9 959.2,555.0 956.0,555.0 952.9,555.0 949.7,555.0 946.5,555.1 943.4,555.1 940.2,555.1 937.0,555.0 933.8,555.0 930.7,555.0 927.5,555.0 924.3,555.0 921.2,555.0 918.0,555.0 914.8,555.0 911.6,554.9 908.5,554.9 905.3,554.9 902.1,554.9 899.0,555.0 895.8,555.0 892.6,555.0 889.4,555.1 886.3,555.1 883.1,555.2 879.9,555.3 876.8,555.3 873.6,555.5 870.4,555.6 867.2,555.7 864.1,555.9 860.9,556.1 857.7,556.3 854.6,556.5 851.4,556.7 848.2,556.9 845.0,557.2 841.9,557.5 838.7,557.8 835.5,558.1 832.4,558.4 829.2,558.7 826.0,559.1 822.8,559.4 819.7,559.8 816.5,560.2 813.3,560.6 810.2,561.0 807.0,561.5 803.8,561.9 800.6,562.4 797.5,562.8 794.3,563.3 791.1,563.8 788.0,564.3 784.8,564.8 781.6,565.3 778.4,565.8 775.3,566.4 772.1,566.9" fill="#8e4a9a" fill-opacity="0.20"/>
<polyline points="772.1,565.3 775.3,565.0 778.4,564.7 781.6,564.4 784.8,564.1 788.0,563.9 791.1,563.6 794.3,563.3 797.5,563.0 800.6,562.7 803.8,562.5 807.0,562.2 810.2,561.9 813.3,561.6 816.5,561.3 819.7,561.0 822.8,560.8 826.0,560.5 829.2,560.2 832.4,559.9 835.5,559.7 838.7,559.4 841.9,559.1 845.0,558.8 848.2,558.6 851.4,558.3 854.6,558.0 857.7,557.8 860.9,557.5 864.1,557.3 867.2,557.0 870.4,556.8 873.6,556.5 876.8,556.3 879.9,556.0 883.1,555.8 886.3,555.5 889.4,555.3 892.6,555.1 895.8,554.8 899.0,554.6 902.1,554.4 905.3,554.2 908.5,554.0 911.6,553.8 914.8,553.6 918.0,553.4 921.2,553.2 924.3,553.0 927.5,552.8 930.7,552.6 933.8,552.4 937.0,552.2 940.2,552.0 943.4,551.9 946.5,551.7 949.7,551.6 952.9,551.4 956.0,551.2 959.2,551.1 962.4,550.9" fill="none" stroke="#2c8351" stroke-width="3.5" stroke-linejoin="round"/>
<polyline points="772.1,559.9 775.3,559.6 778.4,559.4 781.6,559.1 784.8,558.8 788.0,558.6 791.1,558.3 794.3,558.0 797.5,557.8 800.6,557.5 803.8,557.3 807.0,557.0 810.2,556.7 813.3,556.5 816.5,556.3 819.7,556.0 822.8,555.8 826.0,555.6 829.2,555.4 832.4,555.1 835.5,554.9 838.7,554.7 841.9,554.6 845.0,554.4 848.2,554.2 851.4,554.0 854.6,553.9 857.7,553.7 860.9,553.6 864.1,553.4 867.2,553.3 870.4,553.2 873.6,553.1 876.8,553.0 879.9,552.9 883.1,552.8 886.3,552.8 889.4,552.7 892.6,552.6 895.8,552.6 899.0,552.5 902.1,552.4 905.3,552.4 908.5,552.3 911.6,552.2 914.8,552.2 918.0,552.1 921.2,552.0 924.3,551.9 927.5,551.8 930.7,551.7 933.8,551.6 937.0,551.5 940.2,551.3 943.4,551.2 946.5,551.0 949.7,550.8 952.9,550.6 956.0,550.4 959.2,550.2 962.4,549.9" fill="none" stroke="#76357c" stroke-width="3.5" stroke-linejoin="round"/>
<polygon points="996.2,517.7 999.4,517.7 1002.5,517.6 1005.7,517.4 1008.9,517.1 1012.1,516.8 1015.2,516.5 1018.4,516.1 1021.6,515.6 1024.7,515.2 1027.9,514.6 1031.1,514.1 1034.3,513.5 1037.4,512.9 1040.6,512.3 1043.8,511.6 1046.9,511.0 1050.1,510.3 1053.3,509.7 1056.5,509.0 1059.6,508.4 1062.8,507.8 1066.0,507.1 1069.1,506.5 1072.3,506.0 1075.5,505.4 1078.7,504.9 1081.8,504.4 1085.0,504.0 1088.2,503.6 1091.3,503.3 1094.5,503.0 1097.7,502.8 1100.9,502.6 1104.0,502.4 1107.2,502.3 1110.4,502.3 1113.5,502.3 1116.7,502.3 1119.9,502.3 1123.1,502.4 1126.2,502.5 1129.4,502.6 1132.6,502.7 1135.7,502.9 1138.9,503.0 1142.1,503.2 1145.3,503.3 1148.4,503.5 1151.6,503.7 1154.8,503.9 1157.9,504.0 1161.1,504.1 1164.3,504.2 1167.5,504.3 1170.6,504.3 1173.8,504.2 1177.0,504.1 1180.1,503.8 1183.3,503.4 1186.5,502.9 1186.5,512.9 1183.3,513.0 1180.1,512.9 1177.0,512.8 1173.8,512.6 1170.6,512.3 1167.5,512.0 1164.3,511.6 1161.1,511.2 1157.9,510.7 1154.8,510.3 1151.6,509.8 1148.4,509.4 1145.3,509.0 1142.1,508.6 1138.9,508.2 1135.7,507.9 1132.6,507.6 1129.4,507.3 1126.2,507.0 1123.1,506.8 1119.9,506.6 1116.7,506.5 1113.5,506.4 1110.4,506.3 1107.2,506.4 1104.0,506.4 1100.9,506.5 1097.7,506.7 1094.5,507.0 1091.3,507.3 1088.2,507.6 1085.0,508.1 1081.8,508.6 1078.7,509.2 1075.5,509.8 1072.3,510.4 1069.1,511.1 1066.0,511.9 1062.8,512.7 1059.6,513.5 1056.5,514.3 1053.3,515.2 1050.1,516.1 1046.9,517.0 1043.8,517.9 1040.6,518.8 1037.4,519.7 1034.3,520.6 1031.1,521.5 1027.9,522.4 1024.7,523.3 1021.6,524.1 1018.4,525.0 1015.2,525.8 1012.1,526.5 1008.9,527.3 1005.7,527.9 1002.5,528.6 999.4,529.2 996.2,529.7" fill="#55824b" fill-opacity="0.20"/>
<polygon points="996.2,518.5 999.4,518.4 1002.5,518.3 1005.7,518.1 1008.9,517.8 1012.1,517.5 1015.2,517.2 1018.4,516.8 1021.6,516.3 1024.7,515.9 1027.9,515.3 1031.1,514.8 1034.3,514.2 1037.4,513.7 1040.6,513.0 1043.8,512.4 1046.9,511.7 1050.1,511.1 1053.3,510.4 1056.5,509.7 1059.6,509.0 1062.8,508.3 1066.0,507.6 1069.1,506.9 1072.3,506.2 1075.5,505.5 1078.7,504.9 1081.8,504.3 1085.0,503.8 1088.2,503.3 1091.3,502.8 1094.5,502.4 1097.7,502.1 1100.9,501.9 1104.0,501.6 1107.2,501.5 1110.4,501.4 1113.5,501.3 1116.7,501.2 1119.9,501.2 1123.1,501.2 1126.2,501.2 1129.4,501.3 1132.6,501.3 1135.7,501.4 1138.9,501.5 1142.1,501.5 1145.3,501.6 1148.4,501.7 1151.6,501.7 1154.8,501.7 1157.9,501.7 1161.1,501.7 1164.3,501.6 1167.5,501.5 1170.6,501.4 1173.8,501.2 1177.0,501.0 1180.1,500.7 1183.3,500.3 1186.5,499.9 1186.5,509.9 1183.3,509.9 1180.1,509.9 1177.0,509.8 1173.8,509.6 1170.6,509.4 1167.5,509.2 1164.3,509.0 1161.1,508.8 1157.9,508.5 1154.8,508.2 1151.6,507.9 1148.4,507.7 1145.3,507.4 1142.1,507.1 1138.9,506.8 1135.7,506.6 1132.6,506.3 1129.4,506.1 1126.2,505.9 1123.1,505.7 1119.9,505.6 1116.7,505.5 1113.5,505.5 1110.4,505.5 1107.2,505.6 1104.0,505.7 1100.9,505.9 1097.7,506.1 1094.5,506.4 1091.3,506.8 1088.2,507.3 1085.0,507.8 1081.8,508.4 1078.7,509.1 1075.5,509.8 1072.3,510.6 1069.1,511.4 1066.0,512.2 1062.8,513.0 1059.6,513.9 1056.5,514.8 1053.3,515.7 1050.1,516.6 1046.9,517.4 1043.8,518.3 1040.6,519.2 1037.4,520.1 1034.3,521.0 1031.1,521.8 1027.9,522.7 1024.7,523.5 1021.6,524.3 1018.4,525.1 1015.2,525.8 1012.1,526.6 1008.9,527.3 1005.7,527.9 1002.5,528.6 999.4,529.2 996.2,529.7" fill="#8e4a9a" fill-opacity="0.20"/>
<polyline points="996.2,523.7 999.4,523.4 1002.5,523.1 1005.7,522.7 1008.9,522.2 1012.1,521.7 1015.2,521.1 1018.4,520.5 1021.6,519.9 1024.7,519.2 1027.9,518.5 1031.1,517.8 1034.3,517.1 1037.4,516.3 1040.6,515.5 1043.8,514.8 1046.9,514.0 1050.1,513.2 1053.3,512.4 1056.5,511.7 1059.6,510.9 1062.8,510.2 1066.0,509.5 1069.1,508.8 1072.3,508.2 1075.5,507.6 1078.7,507.0 1081.8,506.5 1085.0,506.0 1088.2,505.6 1091.3,505.3 1094.5,505.0 1097.7,504.7 1100.9,504.5 1104.0,504.4 1107.2,504.3 1110.4,504.3 1113.5,504.3 1116.7,504.4 1119.9,504.5 1123.1,504.6 1126.2,504.7 1129.4,504.9 1132.6,505.1 1135.7,505.4 1138.9,505.6 1142.1,505.9 1145.3,506.2 1148.4,506.5 1151.6,506.8 1154.8,507.1 1157.9,507.4 1161.1,507.7 1164.3,507.9 1167.5,508.1 1170.6,508.3 1173.8,508.4 1177.0,508.4 1180.1,508.4 1183.3,508.2 1186.5,507.9" fill="none" stroke="#2c8351" stroke-width="3.5" stroke-linejoin="round"/>
<polyline points="996.2,524.1 999.4,523.8 1002.5,523.4 1005.7,523.0 1008.9,522.5 1012.1,522.0 1015.2,521.5 1018.4,520.9 1021.6,520.3 1024.7,519.7 1027.9,519.0 1031.1,518.3 1034.3,517.6 1037.4,516.9 1040.6,516.1 1043.8,515.4 1046.9,514.6 1050.1,513.8 1053.3,513.0 1056.5,512.2 1059.6,511.4 1062.8,510.7 1066.0,509.9 1069.1,509.1 1072.3,508.4 1075.5,507.7 1078.7,507.0 1081.8,506.4 1085.0,505.8 1088.2,505.3 1091.3,504.8 1094.5,504.4 1097.7,504.1 1100.9,503.9 1104.0,503.7 1107.2,503.5 1110.4,503.4 1113.5,503.4 1116.7,503.4 1119.9,503.4 1123.1,503.5 1126.2,503.6 1129.4,503.7 1132.6,503.8 1135.7,504.0 1138.9,504.1 1142.1,504.3 1145.3,504.5 1148.4,504.7 1151.6,504.8 1154.8,505.0 1157.9,505.1 1161.1,505.2 1164.3,505.3 1167.5,505.4 1170.6,505.4 1173.8,505.4 1177.0,505.4 1180.1,505.3 1183.3,505.1 1186.5,504.9" fill="none" stroke="#76357c" stroke-width="3.5" stroke-linejoin="round"/>
<polygon points="1220.3,548.9 1223.5,548.9 1226.6,548.9 1229.8,548.9 1233.0,548.8 1236.2,548.7 1239.3,548.5 1242.5,548.3 1245.7,548.0 1248.8,547.7 1252.0,547.4 1255.2,547.0 1258.4,546.6 1261.5,546.2 1264.7,545.7 1267.9,545.2 1271.0,544.7 1274.2,544.2 1277.4,543.6 1280.6,543.1 1283.7,542.5 1286.9,541.9 1290.1,541.3 1293.2,540.7 1296.4,540.0 1299.6,539.4 1302.8,538.8 1305.9,538.1 1309.1,537.5 1312.3,536.9 1315.4,536.3 1318.6,535.7 1321.8,535.1 1325.0,534.5 1328.1,533.9 1331.3,533.3 1334.5,532.7 1337.6,532.2 1340.8,531.6 1344.0,531.1 1347.2,530.6 1350.3,530.1 1353.5,529.6 1356.7,529.1 1359.8,528.6 1363.0,528.2 1366.2,527.7 1369.4,527.3 1372.5,526.9 1375.7,526.5 1378.9,526.1 1382.0,525.7 1385.2,525.3 1388.4,525.0 1391.6,524.6 1394.7,524.2 1397.9,523.8 1401.1,523.3 1404.2,522.8 1407.4,522.3 1410.6,521.7 1410.6,534.9 1407.4,535.2 1404.2,535.5 1401.1,535.8 1397.9,536.1 1394.7,536.3 1391.6,536.5 1388.4,536.8 1385.2,537.0 1382.0,537.2 1378.9,537.5 1375.7,537.8 1372.5,538.2 1369.4,538.5 1366.2,538.9 1363.0,539.3 1359.8,539.8 1356.7,540.3 1353.5,540.8 1350.3,541.3 1347.2,541.9 1344.0,542.5 1340.8,543.1 1337.6,543.8 1334.5,544.5 1331.3,545.2 1328.1,545.9 1325.0,546.6 1321.8,547.4 1318.6,548.2 1315.4,549.1 1312.3,549.9 1309.1,550.8 1305.9,551.7 1302.8,552.6 1299.6,553.5 1296.4,554.5 1293.2,555.4 1290.1,556.4 1286.9,557.3 1283.7,558.3 1280.6,559.3 1277.4,560.3 1274.2,561.3 1271.0,562.2 1267.9,563.2 1264.7,564.2 1261.5,565.1 1258.4,566.0 1255.2,567.0 1252.0,567.9 1248.8,568.8 1245.7,569.6 1242.5,570.5 1239.3,571.3 1236.2,572.1 1233.0,572.9 1229.8,573.6 1226.6,574.3 1223.5,575.0 1220.3,575.6" fill="#55824b" fill-opacity="0.20"/>
<polygon points="1220.3,536.7 1223.5,536.8 1226.6,536.8 1229.8,536.8 1233.0,536.7 1236.2,536.6 1239.3,536.5 1242.5,536.3 1245.7,536.1 1248.8,535.8 1252.0,535.5 1255.2,535.1 1258.4,534.8 1261.5,534.4 1264.7,533.9 1267.9,533.5 1271.0,533.0 1274.2,532.5 1277.4,531.9 1280.6,531.4 1283.7,530.8 1286.9,530.2 1290.1,529.6 1293.2,528.9 1296.4,528.3 1299.6,527.6 1302.8,527.0 1305.9,526.3 1309.1,525.6 1312.3,524.9 1315.4,524.2 1318.6,523.6 1321.8,522.9 1325.0,522.2 1328.1,521.5 1331.3,520.8 1334.5,520.2 1337.6,519.5 1340.8,518.9 1344.0,518.2 1347.2,517.6 1350.3,517.0 1353.5,516.4 1356.7,515.9 1359.8,515.4 1363.0,514.9 1366.2,514.4 1369.4,514.0 1372.5,513.6 1375.7,513.2 1378.9,512.9 1382.0,512.6 1385.2,512.3 1388.4,512.0 1391.6,511.7 1394.7,511.3 1397.9,510.9 1401.1,510.3 1404.2,509.7 1407.4,508.9 1410.6,507.9 1410.6,519.9 1407.4,520.7 1404.2,521.4 1401.1,521.9 1397.9,522.4 1394.7,522.7 1391.6,523.0 1388.4,523.2 1385.2,523.5 1382.0,523.7 1378.9,524.0 1375.7,524.3 1372.5,524.6 1369.4,525.0 1366.2,525.5 1363.0,526.0 1359.8,526.5 1356.7,527.1 1353.5,527.7 1350.3,528.3 1347.2,529.0 1344.0,529.7 1340.8,530.4 1337.6,531.2 1334.5,531.9 1331.3,532.8 1328.1,533.6 1325.0,534.4 1321.8,535.3 1318.6,536.1 1315.4,537.0 1312.3,537.9 1309.1,538.8 1305.9,539.7 1302.8,540.6 1299.6,541.6 1296.4,542.5 1293.2,543.4 1290.1,544.3 1286.9,545.2 1283.7,546.1 1280.6,547.0 1277.4,547.9 1274.2,548.8 1271.0,549.7 1267.9,550.5 1264.7,551.4 1261.5,552.2 1258.4,553.0 1255.2,553.8 1252.0,554.6 1248.8,555.3 1245.7,556.0 1242.5,556.7 1239.3,557.4 1236.2,558.0 1233.0,558.6 1229.8,559.2 1226.6,559.7 1223.5,560.2 1220.3,560.7" fill="#8e4a9a" fill-opacity="0.20"/>
<polyline points="1220.3,562.3 1223.5,562.0 1226.6,561.6 1229.8,561.3 1233.0,560.8 1236.2,560.4 1239.3,559.9 1242.5,559.4 1245.7,558.8 1248.8,558.2 1252.0,557.6 1255.2,557.0 1258.4,556.3 1261.5,555.6 1264.7,554.9 1267.9,554.2 1271.0,553.5 1274.2,552.7 1277.4,552.0 1280.6,551.2 1283.7,550.4 1286.9,549.6 1290.1,548.8 1293.2,548.0 1296.4,547.2 1299.6,546.5 1302.8,545.7 1305.9,544.9 1309.1,544.2 1312.3,543.4 1315.4,542.7 1318.6,542.0 1321.8,541.2 1325.0,540.6 1328.1,539.9 1331.3,539.2 1334.5,538.6 1337.6,538.0 1340.8,537.4 1344.0,536.8 1347.2,536.2 1350.3,535.7 1353.5,535.2 1356.7,534.7 1359.8,534.2 1363.0,533.8 1366.2,533.3 1369.4,532.9 1372.5,532.5 1375.7,532.1 1378.9,531.8 1382.0,531.5 1385.2,531.2 1388.4,530.9 1391.6,530.6 1394.7,530.2 1397.9,529.9 1401.1,529.6 1404.2,529.2 1407.4,528.7 1410.6,528.3" fill="none" stroke="#2c8351" stroke-width="3.5" stroke-linejoin="round"/>
<polyline points="1220.3,548.7 1223.5,548.5 1226.6,548.3 1229.8,548.0 1233.0,547.7 1236.2,547.3 1239.3,546.9 1242.5,546.5 1245.7,546.0 1248.8,545.5 1252.0,545.0 1255.2,544.5 1258.4,543.9 1261.5,543.3 1264.7,542.7 1267.9,542.0 1271.0,541.3 1274.2,540.6 1277.4,539.9 1280.6,539.2 1283.7,538.5 1286.9,537.7 1290.1,536.9 1293.2,536.2 1296.4,535.4 1299.6,534.6 1302.8,533.8 1305.9,533.0 1309.1,532.2 1312.3,531.4 1315.4,530.6 1318.6,529.9 1321.8,529.1 1325.0,528.3 1328.1,527.5 1331.3,526.8 1334.5,526.1 1337.6,525.3 1340.8,524.6 1344.0,524.0 1347.2,523.3 1350.3,522.7 1353.5,522.1 1356.7,521.5 1359.8,520.9 1363.0,520.4 1366.2,519.9 1369.4,519.5 1372.5,519.1 1375.7,518.7 1378.9,518.4 1382.0,518.1 1385.2,517.9 1388.4,517.6 1391.6,517.3 1394.7,517.0 1397.9,516.6 1401.1,516.1 1404.2,515.5 1407.4,514.8 1410.6,513.9" fill="none" stroke="#76357c" stroke-width="3.5" stroke-linejoin="round"/>
<polygon points="1444.4,500.6 1447.6,501.6 1450.7,502.6 1453.9,503.6 1457.1,504.4 1460.3,505.2 1463.4,505.9 1466.6,506.5 1469.8,507.0 1472.9,507.5 1476.1,507.9 1479.3,508.2 1482.5,508.5 1485.6,508.7 1488.8,508.8 1492.0,508.8 1495.1,508.8 1498.3,508.7 1501.5,508.6 1504.7,508.3 1507.8,508.0 1511.0,507.7 1514.2,507.3 1517.3,506.8 1520.5,506.2 1523.7,505.6 1526.9,505.0 1530.0,504.3 1533.2,503.5 1536.4,502.7 1539.5,501.9 1542.7,501.0 1545.9,500.0 1549.1,499.0 1552.2,498.0 1555.4,496.9 1558.6,495.8 1561.7,494.6 1564.9,493.4 1568.1,492.1 1571.3,490.8 1574.4,489.4 1577.6,487.9 1580.8,486.5 1583.9,484.9 1587.1,483.3 1590.3,481.7 1593.5,480.0 1596.6,478.3 1599.8,476.5 1603.0,474.6 1606.1,472.7 1609.3,470.7 1612.5,468.7 1615.7,466.7 1618.8,464.5 1622.0,462.3 1625.2,460.1 1628.3,457.8 1631.5,455.4 1634.7,453.0 1634.7,514.9 1631.5,515.4 1628.3,515.8 1625.2,516.3 1622.0,516.8 1618.8,517.3 1615.7,517.8 1612.5,518.4 1609.3,519.0 1606.1,519.6 1603.0,520.2 1599.8,520.8 1596.6,521.5 1593.5,522.2 1590.3,522.9 1587.1,523.6 1583.9,524.4 1580.8,525.2 1577.6,526.0 1574.4,526.8 1571.3,527.7 1568.1,528.6 1564.9,529.5 1561.7,530.4 1558.6,531.4 1555.4,532.4 1552.2,533.4 1549.1,534.5 1545.9,535.6 1542.7,536.7 1539.5,537.8 1536.4,539.0 1533.2,540.2 1530.0,541.4 1526.9,542.7 1523.7,544.0 1520.5,545.3 1517.3,546.6 1514.2,548.0 1511.0,549.3 1507.8,550.7 1504.7,552.1 1501.5,553.5 1498.3,554.9 1495.1,556.3 1492.0,557.7 1488.8,559.1 1485.6,560.6 1482.5,562.0 1479.3,563.5 1476.1,564.9 1472.9,566.4 1469.8,567.9 1466.6,569.3 1463.4,570.8 1460.3,572.3 1457.1,573.8 1453.9,575.2 1450.7,576.7 1447.6,578.2 1444.4,579.7" fill="#55824b" fill-opacity="0.20"/>
<polygon points="1444.4,496.7 1447.6,498.1 1450.7,499.4 1453.9,500.6 1457.1,501.7 1460.3,502.7 1463.4,503.6 1466.6,504.4 1469.8,505.1 1472.9,505.8 1476.1,506.3 1479.3,506.8 1482.5,507.2 1485.6,507.5 1488.8,507.7 1492.0,507.9 1495.1,508.0 1498.3,508.0 1501.5,507.9 1504.7,507.8 1507.8,507.6 1511.0,507.3 1514.2,506.9 1517.3,506.5 1520.5,506.0 1523.7,505.5 1526.9,504.9 1530.0,504.2 1533.2,503.5 1536.4,502.7 1539.5,501.9 1542.7,501.0 1545.9,500.1 1549.1,499.1 1552.2,498.1 1555.4,497.0 1558.6,495.8 1561.7,494.6 1564.9,493.4 1568.1,492.1 1571.3,490.7 1574.4,489.3 1577.6,487.9 1580.8,486.4 1583.9,484.8 1587.1,483.2 1590.3,481.5 1593.5,479.8 1596.6,478.1 1599.8,476.3 1603.0,474.4 1606.1,472.5 1609.3,470.5 1612.5,468.5 1615.7,466.4 1618.8,464.3 1622.0,462.1 1625.2,459.9 1628.3,457.7 1631.5,455.3 1634.7,453.0 1634.7,502.9 1631.5,503.1 1628.3,503.4 1625.2,503.6 1622.0,504.0 1618.8,504.3 1615.7,504.7 1612.5,505.1 1609.3,505.6 1606.1,506.0 1603.0,506.6 1599.8,507.1 1596.6,507.7 1593.5,508.3 1590.3,509.0 1587.1,509.7 1583.9,510.4 1580.8,511.1 1577.6,511.9 1574.4,512.7 1571.3,513.6 1568.1,514.5 1564.9,515.4 1561.7,516.4 1558.6,517.3 1555.4,518.3 1552.2,519.4 1549.1,520.5 1545.9,521.6 1542.7,522.7 1539.5,523.9 1536.4,525.1 1533.2,526.3 1530.0,527.6 1526.9,528.9 1523.7,530.2 1520.5,531.5 1517.3,532.9 1514.2,534.3 1511.0,535.7 1507.8,537.1 1504.7,538.5 1501.5,539.9 1498.3,541.4 1495.1,542.9 1492.0,544.4 1488.8,545.8 1485.6,547.3 1482.5,548.8 1479.3,550.3 1476.1,551.8 1472.9,553.3 1469.8,554.8 1466.6,556.3 1463.4,557.8 1460.3,559.3 1457.1,560.8 1453.9,562.3 1450.7,563.8 1447.6,565.2 1444.4,566.6" fill="#8e4a9a" fill-opacity="0.20"/>
<polyline points="1444.4,540.1 1447.6,539.9 1450.7,539.7 1453.9,539.4 1457.1,539.1 1460.3,538.7 1463.4,538.3 1466.6,537.9 1469.8,537.4 1472.9,537.0 1476.1,536.4 1479.3,535.9 1482.5,535.3 1485.6,534.6 1488.8,534.0 1492.0,533.3 1495.1,532.5 1498.3,531.8 1501.5,531.0 1504.7,530.2 1507.8,529.4 1511.0,528.5 1514.2,527.6 1517.3,526.7 1520.5,525.8 1523.7,524.8 1526.9,523.9 1530.0,522.9 1533.2,521.9 1536.4,520.9 1539.5,519.9 1542.7,518.8 1545.9,517.8 1549.1,516.8 1552.2,515.7 1555.4,514.7 1558.6,513.6 1561.7,512.5 1564.9,511.4 1568.1,510.3 1571.3,509.2 1574.4,508.1 1577.6,507.0 1580.8,505.8 1583.9,504.7 1587.1,503.5 1590.3,502.3 1593.5,501.1 1596.6,499.9 1599.8,498.7 1603.0,497.4 1606.1,496.1 1609.3,494.9 1612.5,493.6 1615.7,492.2 1618.8,490.9 1622.0,489.6 1625.2,488.2 1628.3,486.8 1631.5,485.4 1634.7,484.0" fill="none" stroke="#2c8351" stroke-width="3.5" stroke-linejoin="round"/>
<polyline points="1444.4,531.7 1447.6,531.7 1450.7,531.6 1453.9,531.4 1457.1,531.3 1460.3,531.0 1463.4,530.7 1466.6,530.4 1469.8,530.0 1472.9,529.6 1476.1,529.1 1479.3,528.6 1482.5,528.0 1485.6,527.4 1488.8,526.8 1492.0,526.1 1495.1,525.4 1498.3,524.7 1501.5,523.9 1504.7,523.1 1507.8,522.3 1511.0,521.5 1514.2,520.6 1517.3,519.7 1520.5,518.8 1523.7,517.8 1526.9,516.9 1530.0,515.9 1533.2,514.9 1536.4,513.9 1539.5,512.9 1542.7,511.9 1545.9,510.8 1549.1,509.8 1552.2,508.7 1555.4,507.7 1558.6,506.6 1561.7,505.5 1564.9,504.4 1568.1,503.3 1571.3,502.2 1574.4,501.0 1577.6,499.9 1580.8,498.8 1583.9,497.6 1587.1,496.4 1590.3,495.3 1593.5,494.1 1596.6,492.9 1599.8,491.7 1603.0,490.5 1606.1,489.3 1609.3,488.0 1612.5,486.8 1615.7,485.6 1618.8,484.3 1622.0,483.0 1625.2,481.8 1628.3,480.5 1631.5,479.2 1634.7,477.9" fill="none" stroke="#76357c" stroke-width="3.5" stroke-linejoin="round"/>
<polygon points="1668.5,607.2 1671.7,607.3 1674.8,607.3 1678.0,607.3 1681.2,607.3 1684.4,607.2 1687.5,607.1 1690.7,607.0 1693.9,606.8 1697.0,606.7 1700.2,606.5 1703.4,606.3 1706.6,606.0 1709.7,605.8 1712.9,605.5 1716.1,605.1 1719.2,604.8 1722.4,604.4 1725.6,604.1 1728.8,603.7 1731.9,603.2 1735.1,602.8 1738.3,602.3 1741.4,601.9 1744.6,601.4 1747.8,600.8 1751.0,600.3 1754.1,599.7 1757.3,599.2 1760.5,598.6 1763.6,598.0 1766.8,597.4 1770.0,596.7 1773.2,596.1 1776.3,595.4 1779.5,594.8 1782.7,594.1 1785.8,593.3 1789.0,592.6 1792.2,591.9 1795.4,591.1 1798.5,590.3 1801.7,589.5 1804.9,588.7 1808.0,587.8 1811.2,587.0 1814.4,586.1 1817.6,585.2 1820.7,584.3 1823.9,583.3 1827.1,582.3 1830.2,581.3 1833.4,580.3 1836.6,579.3 1839.8,578.2 1842.9,577.1 1846.1,576.0 1849.3,574.9 1852.4,573.7 1855.6,572.5 1858.8,571.3 1858.8,585.3 1855.6,586.0 1852.4,586.6 1849.3,587.3 1846.1,588.0 1842.9,588.6 1839.8,589.3 1836.6,590.0 1833.4,590.6 1830.2,591.3 1827.1,592.0 1823.9,592.6 1820.7,593.3 1817.6,594.0 1814.4,594.6 1811.2,595.3 1808.0,596.0 1804.9,596.7 1801.7,597.4 1798.5,598.0 1795.4,598.7 1792.2,599.4 1789.0,600.1 1785.8,600.8 1782.7,601.6 1779.5,602.3 1776.3,603.0 1773.2,603.7 1770.0,604.5 1766.8,605.2 1763.6,606.0 1760.5,606.7 1757.3,607.5 1754.1,608.3 1751.0,609.1 1747.8,609.9 1744.6,610.7 1741.4,611.5 1738.3,612.3 1735.1,613.1 1731.9,613.9 1728.8,614.8 1725.6,615.6 1722.4,616.4 1719.2,617.2 1716.1,618.1 1712.9,618.9 1709.7,619.7 1706.6,620.6 1703.4,621.4 1700.2,622.2 1697.0,623.1 1693.9,623.9 1690.7,624.7 1687.5,625.5 1684.4,626.4 1681.2,627.2 1678.0,628.0 1674.8,628.8 1671.7,629.6 1668.5,630.4" fill="#55824b" fill-opacity="0.20"/>
<polygon points="1668.5,585.9 1671.7,586.1 1674.8,586.4 1678.0,586.6 1681.2,586.7 1684.4,586.9 1687.5,587.0 1690.7,587.1 1693.9,587.2 1697.0,587.2 1700.2,587.2 1703.4,587.2 1706.6,587.2 1709.7,587.1 1712.9,587.0 1716.1,586.9 1719.2,586.7 1722.4,586.5 1725.6,586.3 1728.8,586.1 1731.9,585.9 1735.1,585.6 1738.3,585.3 1741.4,585.0 1744.6,584.7 1747.8,584.3 1751.0,583.9 1754.1,583.5 1757.3,583.1 1760.5,582.6 1763.6,582.1 1766.8,581.6 1770.0,581.1 1773.2,580.5 1776.3,580.0 1779.5,579.4 1782.7,578.8 1785.8,578.1 1789.0,577.4 1792.2,576.7 1795.4,576.0 1798.5,575.3 1801.7,574.5 1804.9,573.7 1808.0,572.8 1811.2,572.0 1814.4,571.1 1817.6,570.1 1820.7,569.2 1823.9,568.2 1827.1,567.1 1830.2,566.1 1833.4,565.0 1836.6,563.9 1839.8,562.7 1842.9,561.5 1846.1,560.3 1849.3,559.0 1852.4,557.7 1855.6,556.3 1858.8,554.9 1858.8,570.9 1855.6,571.6 1852.4,572.2 1849.3,572.9 1846.1,573.5 1842.9,574.2 1839.8,574.8 1836.6,575.5 1833.4,576.1 1830.2,576.7 1827.1,577.4 1823.9,578.0 1820.7,578.6 1817.6,579.2 1814.4,579.8 1811.2,580.4 1808.0,581.1 1804.9,581.7 1801.7,582.3 1798.5,582.9 1795.4,583.6 1792.2,584.2 1789.0,584.8 1785.8,585.5 1782.7,586.1 1779.5,586.8 1776.3,587.4 1773.2,588.1 1770.0,588.7 1766.8,589.4 1763.6,590.1 1760.5,590.8 1757.3,591.5 1754.1,592.2 1751.0,592.9 1747.8,593.7 1744.6,594.4 1741.4,595.1 1738.3,595.9 1735.1,596.7 1731.9,597.4 1728.8,598.2 1725.6,599.0 1722.4,599.8 1719.2,600.5 1716.1,601.3 1712.9,602.1 1709.7,603.0 1706.6,603.8 1703.4,604.6 1700.2,605.4 1697.0,606.2 1693.9,607.1 1690.7,607.9 1687.5,608.7 1684.4,609.6 1681.2,610.4 1678.0,611.3 1674.8,612.1 1671.7,613.0 1668.5,613.8" fill="#8e4a9a" fill-opacity="0.20"/>
<polyline points="1668.5,618.8 1671.7,618.4 1674.8,618.0 1678.0,617.6 1681.2,617.2 1684.4,616.8 1687.5,616.3 1690.7,615.9 1693.9,615.4 1697.0,614.9 1700.2,614.4 1703.4,613.8 1706.6,613.3 1709.7,612.7 1712.9,612.2 1716.1,611.6 1719.2,611.0 1722.4,610.4 1725.6,609.8 1728.8,609.2 1731.9,608.6 1735.1,608.0 1738.3,607.3 1741.4,606.7 1744.6,606.0 1747.8,605.4 1751.0,604.7 1754.1,604.0 1757.3,603.3 1760.5,602.7 1763.6,602.0 1766.8,601.3 1770.0,600.6 1773.2,599.9 1776.3,599.2 1779.5,598.5 1782.7,597.8 1785.8,597.1 1789.0,596.4 1792.2,595.6 1795.4,594.9 1798.5,594.2 1801.7,593.4 1804.9,592.7 1808.0,591.9 1811.2,591.1 1814.4,590.4 1817.6,589.6 1820.7,588.8 1823.9,588.0 1827.1,587.2 1830.2,586.3 1833.4,585.5 1836.6,584.6 1839.8,583.8 1842.9,582.9 1846.1,582.0 1849.3,581.1 1852.4,580.2 1855.6,579.3 1858.8,578.3" fill="none" stroke="#2c8351" stroke-width="3.5" stroke-linejoin="round"/>
<polyline points="1668.5,599.8 1671.7,599.5 1674.8,599.2 1678.0,598.9 1681.2,598.6 1684.4,598.2 1687.5,597.9 1690.7,597.5 1693.9,597.1 1697.0,596.7 1700.2,596.3 1703.4,595.9 1706.6,595.5 1709.7,595.0 1712.9,594.6 1716.1,594.1 1719.2,593.6 1722.4,593.2 1725.6,592.7 1728.8,592.2 1731.9,591.7 1735.1,591.1 1738.3,590.6 1741.4,590.1 1744.6,589.5 1747.8,589.0 1751.0,588.4 1754.1,587.9 1757.3,587.3 1760.5,586.7 1763.6,586.1 1766.8,585.5 1770.0,584.9 1773.2,584.3 1776.3,583.7 1779.5,583.1 1782.7,582.4 1785.8,581.8 1789.0,581.1 1792.2,580.5 1795.4,579.8 1798.5,579.1 1801.7,578.4 1804.9,577.7 1808.0,576.9 1811.2,576.2 1814.4,575.4 1817.6,574.7 1820.7,573.9 1823.9,573.1 1827.1,572.2 1830.2,571.4 1833.4,570.5 1836.6,569.7 1839.8,568.8 1842.9,567.8 1846.1,566.9 1849.3,565.9 1852.4,565.0 1855.6,563.9 1858.8,562.9" fill="none" stroke="#76357c" stroke-width="3.5" stroke-linejoin="round"/>
<polygon points="1892.6,582.7 1895.8,583.3 1898.9,583.7 1902.1,584.1 1905.3,584.5 1908.5,584.8 1911.6,585.0 1914.8,585.2 1918.0,585.3 1921.1,585.4 1924.3,585.4 1927.5,585.4 1930.7,585.3 1933.8,585.3 1937.0,585.1 1940.2,585.0 1943.3,584.8 1946.5,584.5 1949.7,584.3 1952.9,584.0 1956.0,583.7 1959.2,583.4 1962.4,583.0 1965.5,582.7 1968.7,582.3 1971.9,581.9 1975.1,581.5 1978.2,581.1 1981.4,580.7 1984.6,580.3 1987.7,579.9 1990.9,579.5 1994.1,579.1 1997.3,578.7 2000.4,578.3 2003.6,577.9 2006.8,577.5 2009.9,577.1 2013.1,576.6 2016.3,576.2 2019.5,575.8 2022.6,575.3 2025.8,574.8 2029.0,574.4 2032.1,573.9 2035.3,573.4 2038.5,572.8 2041.7,572.3 2044.8,571.7 2048.0,571.1 2051.2,570.5 2054.3,569.9 2057.5,569.2 2060.7,568.6 2063.9,567.8 2067.0,567.1 2070.2,566.3 2073.4,565.5 2076.5,564.7 2079.7,563.8 2082.9,562.9 2082.9,576.9 2079.7,577.6 2076.5,578.4 2073.4,579.1 2070.2,579.8 2067.0,580.5 2063.9,581.2 2060.7,581.9 2057.5,582.5 2054.3,583.2 2051.2,583.8 2048.0,584.5 2044.8,585.1 2041.7,585.8 2038.5,586.4 2035.3,587.1 2032.1,587.7 2029.0,588.4 2025.8,589.1 2022.6,589.7 2019.5,590.4 2016.3,591.1 2013.1,591.8 2009.9,592.5 2006.8,593.2 2003.6,593.9 2000.4,594.7 1997.3,595.5 1994.1,596.3 1990.9,597.1 1987.7,597.9 1984.6,598.7 1981.4,599.6 1978.2,600.5 1975.1,601.4 1971.9,602.3 1968.7,603.2 1965.5,604.2 1962.4,605.1 1959.2,606.1 1956.0,607.0 1952.9,607.9 1949.7,608.9 1946.5,609.8 1943.3,610.8 1940.2,611.7 1937.0,612.6 1933.8,613.5 1930.7,614.3 1927.5,615.2 1924.3,616.0 1921.1,616.8 1918.0,617.6 1914.8,618.4 1911.6,619.1 1908.5,619.8 1905.3,620.5 1902.1,621.1 1898.9,621.6 1895.8,622.2 1892.6,622.7" fill="#55824b" fill-opacity="0.20"/>
<polygon points="1892.6,574.8 1895.8,575.5 1898.9,576.1 1902.1,576.6 1905.3,577.1 1908.5,577.5 1911.6,577.9 1914.8,578.1 1918.0,578.4 1921.1,578.5 1924.3,578.6 1927.5,578.7 1930.7,578.7 1933.8,578.7 1937.0,578.7 1940.2,578.6 1943.3,578.4 1946.5,578.3 1949.7,578.0 1952.9,577.8 1956.0,577.5 1959.2,577.3 1962.4,576.9 1965.5,576.6 1968.7,576.3 1971.9,575.9 1975.1,575.5 1978.2,575.1 1981.4,574.7 1984.6,574.3 1987.7,573.9 1990.9,573.5 1994.1,573.1 1997.3,572.7 2000.4,572.3 2003.6,571.9 2006.8,571.4 2009.9,571.0 2013.1,570.5 2016.3,570.1 2019.5,569.6 2022.6,569.1 2025.8,568.6 2029.0,568.0 2032.1,567.5 2035.3,566.9 2038.5,566.3 2041.7,565.7 2044.8,565.1 2048.0,564.4 2051.2,563.7 2054.3,563.0 2057.5,562.2 2060.7,561.5 2063.9,560.6 2067.0,559.8 2070.2,558.9 2073.4,558.0 2076.5,557.0 2079.7,556.0 2082.9,554.9 2082.9,574.9 2079.7,575.3 2076.5,575.7 2073.4,576.1 2070.2,576.4 2067.0,576.8 2063.9,577.2 2060.7,577.5 2057.5,577.9 2054.3,578.2 2051.2,578.6 2048.0,578.9 2044.8,579.3 2041.7,579.7 2038.5,580.0 2035.3,580.4 2032.1,580.8 2029.0,581.2 2025.8,581.6 2022.6,582.0 2019.5,582.5 2016.3,582.9 2013.1,583.4 2009.9,583.9 2006.8,584.4 2003.6,584.9 2000.4,585.5 1997.3,586.0 1994.1,586.6 1990.9,587.3 1987.7,587.9 1984.6,588.6 1981.4,589.3 1978.2,590.1 1975.1,590.8 1971.9,591.6 1968.7,592.4 1965.5,593.2 1962.4,594.1 1959.2,594.9 1956.0,595.7 1952.9,596.6 1949.7,597.5 1946.5,598.3 1943.3,599.2 1940.2,600.0 1937.0,600.9 1933.8,601.7 1930.7,602.6 1927.5,603.4 1924.3,604.2 1921.1,605.0 1918.0,605.7 1914.8,606.5 1911.6,607.2 1908.5,607.9 1905.3,608.5 1902.1,609.1 1898.9,609.7 1895.8,610.3 1892.6,610.8" fill="#8e4a9a" fill-opacity="0.20"/>
<polyline points="1892.6,602.7 1895.8,602.7 1898.9,602.7 1902.1,602.6 1905.3,602.5 1908.5,602.3 1911.6,602.1 1914.8,601.8 1918.0,601.5 1921.1,601.1 1924.3,600.7 1927.5,600.3 1930.7,599.8 1933.8,599.4 1937.0,598.9 1940.2,598.3 1943.3,597.8 1946.5,597.2 1949.7,596.6 1952.9,596.0 1956.0,595.3 1959.2,594.7 1962.4,594.1 1965.5,593.4 1968.7,592.8 1971.9,592.1 1975.1,591.5 1978.2,590.8 1981.4,590.2 1984.6,589.5 1987.7,588.9 1990.9,588.3 1994.1,587.7 1997.3,587.1 2000.4,586.5 2003.6,585.9 2006.8,585.3 2009.9,584.8 2013.1,584.2 2016.3,583.6 2019.5,583.1 2022.6,582.5 2025.8,582.0 2029.0,581.4 2032.1,580.8 2035.3,580.2 2038.5,579.6 2041.7,579.0 2044.8,578.4 2048.0,577.8 2051.2,577.2 2054.3,576.5 2057.5,575.9 2060.7,575.2 2063.9,574.5 2067.0,573.8 2070.2,573.1 2073.4,572.3 2076.5,571.5 2079.7,570.7 2082.9,569.9" fill="none" stroke="#2c8351" stroke-width="3.5" stroke-linejoin="round"/>
<polyline points="1892.6,592.8 1895.8,592.9 1898.9,592.9 1902.1,592.9 1905.3,592.8 1908.5,592.7 1911.6,592.5 1914.8,592.3 1918.0,592.0 1921.1,591.7 1924.3,591.4 1927.5,591.0 1930.7,590.6 1933.8,590.2 1937.0,589.8 1940.2,589.3 1943.3,588.8 1946.5,588.3 1949.7,587.8 1952.9,587.2 1956.0,586.6 1959.2,586.1 1962.4,585.5 1965.5,584.9 1968.7,584.3 1971.9,583.8 1975.1,583.2 1978.2,582.6 1981.4,582.0 1984.6,581.5 1987.7,580.9 1990.9,580.4 1994.1,579.9 1997.3,579.4 2000.4,578.9 2003.6,578.4 2006.8,577.9 2009.9,577.4 2013.1,577.0 2016.3,576.5 2019.5,576.0 2022.6,575.6 2025.8,575.1 2029.0,574.6 2032.1,574.1 2035.3,573.7 2038.5,573.2 2041.7,572.7 2044.8,572.2 2048.0,571.7 2051.2,571.2 2054.3,570.6 2057.5,570.1 2060.7,569.5 2063.9,568.9 2067.0,568.3 2070.2,567.7 2073.4,567.0 2076.5,566.3 2079.7,565.7 2082.9,564.9" fill="none" stroke="#76357c" stroke-width="3.5" stroke-linejoin="round"/>
<polygon points="99.8,787.0 103.0,787.1 106.1,787.3 109.3,787.4 112.5,787.4 115.7,787.5 118.8,787.5 122.0,787.5 125.2,787.4 128.3,787.4 131.5,787.3 134.7,787.1 137.9,787.0 141.0,786.8 144.2,786.6 147.4,786.4 150.5,786.1 153.7,785.8 156.9,785.5 160.1,785.2 163.2,784.8 166.4,784.4 169.6,784.0 172.7,783.6 175.9,783.1 179.1,782.6 182.3,782.1 185.4,781.6 188.6,781.0 191.8,780.5 194.9,779.9 198.1,779.3 201.3,778.6 204.5,777.9 207.6,777.3 210.8,776.6 214.0,775.8 217.1,775.1 220.3,774.3 223.5,773.5 226.7,772.7 229.8,771.9 233.0,771.0 236.2,770.2 239.3,769.3 242.5,768.4 245.7,767.5 248.9,766.5 252.0,765.6 255.2,764.6 258.4,763.6 261.5,762.6 264.7,761.6 267.9,760.5 271.1,759.5 274.2,758.4 277.4,757.3 280.6,756.2 283.7,755.1 286.9,754.0 290.1,752.8 290.1,772.8 286.9,773.3 283.7,773.7 280.6,774.2 277.4,774.7 274.2,775.2 271.1,775.8 267.9,776.3 264.7,776.8 261.5,777.3 258.4,777.9 255.2,778.4 252.0,779.0 248.9,779.6 245.7,780.1 242.5,780.7 239.3,781.3 236.2,781.9 233.0,782.5 229.8,783.1 226.7,783.7 223.5,784.3 220.3,784.9 217.1,785.5 214.0,786.1 210.8,786.7 207.6,787.4 204.5,788.0 201.3,788.6 198.1,789.2 194.9,789.9 191.8,790.5 188.6,791.1 185.4,791.8 182.3,792.4 179.1,793.0 175.9,793.7 172.7,794.3 169.6,794.9 166.4,795.5 163.2,796.2 160.1,796.8 156.9,797.4 153.7,798.1 150.5,798.7 147.4,799.3 144.2,799.9 141.0,800.5 137.9,801.1 134.7,801.8 131.5,802.4 128.3,803.0 125.2,803.6 122.0,804.2 118.8,804.7 115.7,805.3 112.5,805.9 109.3,806.5 106.1,807.0 103.0,807.6 99.8,808.2" fill="#55824b" fill-opacity="0.20"/>
<polygon points="99.8,799.2 103.0,799.3 106.1,799.4 109.3,799.5 112.5,799.5 115.7,799.5 118.8,799.4 122.0,799.4 125.2,799.2 128.3,799.1 131.5,798.9 134.7,798.7 137.9,798.5 141.0,798.2 144.2,797.9 147.4,797.6 150.5,797.2 153.7,796.8 156.9,796.4 160.1,795.9 163.2,795.4 166.4,794.9 169.6,794.3 172.7,793.7 175.9,793.1 179.1,792.4 182.3,791.7 185.4,790.9 188.6,790.2 191.8,789.3 194.9,788.5 198.1,787.6 201.3,786.7 204.5,785.7 207.6,784.7 210.8,783.7 214.0,782.7 217.1,781.6 220.3,780.4 223.5,779.3 226.7,778.1 229.8,776.9 233.0,775.7 236.2,774.4 239.3,773.1 242.5,771.8 245.7,770.4 248.9,769.0 252.0,767.6 255.2,766.2 258.4,764.7 261.5,763.2 264.7,761.7 267.9,760.2 271.1,758.6 274.2,757.1 277.4,755.5 280.6,753.9 283.7,752.2 286.9,750.6 290.1,748.9 290.1,772.9 286.9,773.6 283.7,774.3 280.6,775.0 277.4,775.8 274.2,776.5 271.1,777.3 267.9,778.1 264.7,778.9 261.5,779.7 258.4,780.5 255.2,781.3 252.0,782.1 248.9,782.9 245.7,783.8 242.5,784.6 239.3,785.4 236.2,786.3 233.0,787.1 229.8,788.0 226.7,788.8 223.5,789.7 220.3,790.5 217.1,791.4 214.0,792.2 210.8,793.1 207.6,793.9 204.5,794.8 201.3,795.6 198.1,796.4 194.9,797.3 191.8,798.1 188.6,798.9 185.4,799.8 182.3,800.6 179.1,801.4 175.9,802.2 172.7,803.0 169.6,803.8 166.4,804.7 163.2,805.5 160.1,806.3 156.9,807.1 153.7,807.8 150.5,808.6 147.4,809.4 144.2,810.2 141.0,811.0 137.9,811.8 134.7,812.6 131.5,813.4 128.3,814.1 125.2,814.9 122.0,815.7 118.8,816.5 115.7,817.3 112.5,818.1 109.3,818.8 106.1,819.6 103.0,820.4 99.8,821.2" fill="#8e4a9a" fill-opacity="0.20"/>
<polyline points="99.8,797.6 103.0,797.4 106.1,797.2 109.3,796.9 112.5,796.7 115.7,796.4 118.8,796.1 122.0,795.8 125.2,795.5 128.3,795.2 131.5,794.8 134.7,794.5 137.9,794.1 141.0,793.7 144.2,793.3 147.4,792.8 150.5,792.4 153.7,791.9 156.9,791.5 160.1,791.0 163.2,790.5 166.4,790.0 169.6,789.5 172.7,788.9 175.9,788.4 179.1,787.8 182.3,787.3 185.4,786.7 188.6,786.1 191.8,785.5 194.9,784.9 198.1,784.2 201.3,783.6 204.5,783.0 207.6,782.3 210.8,781.6 214.0,781.0 217.1,780.3 220.3,779.6 223.5,778.9 226.7,778.2 229.8,777.5 233.0,776.8 236.2,776.0 239.3,775.3 242.5,774.6 245.7,773.8 248.9,773.0 252.0,772.3 255.2,771.5 258.4,770.7 261.5,770.0 264.7,769.2 267.9,768.4 271.1,767.6 274.2,766.8 277.4,766.0 280.6,765.2 283.7,764.4 286.9,763.6 290.1,762.8" fill="none" stroke="#2c8351" stroke-width="3.5" stroke-linejoin="round"/>
<polyline points="99.8,810.2 103.0,809.9 106.1,809.5 109.3,809.2 112.5,808.8 115.7,808.4 118.8,808.0 122.0,807.5 125.2,807.1 128.3,806.6 131.5,806.2 134.7,805.7 137.9,805.1 141.0,804.6 144.2,804.1 147.4,803.5 150.5,802.9 153.7,802.3 156.9,801.7 160.1,801.1 163.2,800.4 166.4,799.8 169.6,799.1 172.7,798.4 175.9,797.6 179.1,796.9 182.3,796.1 185.4,795.4 188.6,794.6 191.8,793.7 194.9,792.9 198.1,792.0 201.3,791.1 204.5,790.2 207.6,789.3 210.8,788.4 214.0,787.4 217.1,786.5 220.3,785.5 223.5,784.5 226.7,783.5 229.8,782.4 233.0,781.4 236.2,780.3 239.3,779.3 242.5,778.2 245.7,777.1 248.9,776.0 252.0,774.9 255.2,773.7 258.4,772.6 261.5,771.5 264.7,770.3 267.9,769.1 271.1,768.0 274.2,766.8 277.4,765.6 280.6,764.4 283.7,763.3 286.9,762.1 290.1,760.9" fill="none" stroke="#76357c" stroke-width="3.5" stroke-linejoin="round"/>
<polygon points="323.9,810.5 327.1,810.1 330.2,809.6 333.4,809.1 336.6,808.6 339.8,808.2 342.9,807.7 346.1,807.2 349.3,806.6 352.4,806.1 355.6,805.6 358.8,805.0 362.0,804.5 365.1,803.9 368.3,803.4 371.5,802.8 374.6,802.2 377.8,801.6 381.0,801.0 384.2,800.4 387.3,799.8 390.5,799.2 393.7,798.6 396.8,798.0 400.0,797.4 403.2,796.7 406.4,796.1 409.5,795.5 412.7,794.8 415.9,794.2 419.0,793.5 422.2,792.9 425.4,792.2 428.6,791.5 431.7,790.9 434.9,790.2 438.1,789.5 441.2,788.8 444.4,788.2 447.6,787.5 450.8,786.8 453.9,786.1 457.1,785.4 460.3,784.7 463.4,784.0 466.6,783.3 469.8,782.6 473.0,781.9 476.1,781.3 479.3,780.6 482.5,779.9 485.6,779.2 488.8,778.5 492.0,777.8 495.2,777.1 498.3,776.4 501.5,775.7 504.7,775.0 507.8,774.3 511.0,773.6 514.2,772.9 514.2,789.7 511.0,789.9 507.8,790.0 504.7,790.2 501.5,790.4 498.3,790.6 495.2,790.9 492.0,791.2 488.8,791.5 485.6,791.8 482.5,792.2 479.3,792.5 476.1,792.9 473.0,793.3 469.8,793.8 466.6,794.2 463.4,794.7 460.3,795.2 457.1,795.7 453.9,796.3 450.8,796.8 447.6,797.4 444.4,798.0 441.2,798.6 438.1,799.3 434.9,799.9 431.7,800.6 428.6,801.3 425.4,802.0 422.2,802.7 419.0,803.5 415.9,804.3 412.7,805.1 409.5,805.9 406.4,806.7 403.2,807.5 400.0,808.4 396.8,809.3 393.7,810.2 390.5,811.1 387.3,812.0 384.2,812.9 381.0,813.9 377.8,814.9 374.6,815.9 371.5,816.9 368.3,817.9 365.1,818.9 362.0,820.0 358.8,821.1 355.6,822.1 352.4,823.2 349.3,824.3 346.1,825.5 342.9,826.6 339.8,827.7 336.6,828.9 333.4,830.1 330.2,831.3 327.1,832.5 323.9,833.7" fill="#55824b" fill-opacity="0.20"/>
<polygon points="323.9,797.8 327.1,797.3 330.2,796.9 333.4,796.4 336.6,795.9 339.8,795.4 342.9,794.9 346.1,794.4 349.3,793.9 352.4,793.3 355.6,792.8 358.8,792.2 362.0,791.6 365.1,791.0 368.3,790.4 371.5,789.8 374.6,789.2 377.8,788.5 381.0,787.9 384.2,787.2 387.3,786.6 390.5,785.9 393.7,785.3 396.8,784.6 400.0,783.9 403.2,783.2 406.4,782.5 409.5,781.9 412.7,781.2 415.9,780.5 419.0,779.8 422.2,779.1 425.4,778.4 428.6,777.7 431.7,777.0 434.9,776.3 438.1,775.6 441.2,774.9 444.4,774.2 447.6,773.5 450.8,772.9 453.9,772.2 457.1,771.5 460.3,770.8 463.4,770.2 466.6,769.5 469.8,768.9 473.0,768.2 476.1,767.6 479.3,767.0 482.5,766.4 485.6,765.8 488.8,765.2 492.0,764.6 495.2,764.0 498.3,763.4 501.5,762.9 504.7,762.4 507.8,761.8 511.0,761.3 514.2,760.8 514.2,775.6 511.0,775.5 507.8,775.5 504.7,775.5 501.5,775.6 498.3,775.6 495.2,775.8 492.0,775.9 488.8,776.1 485.6,776.3 482.5,776.6 479.3,776.9 476.1,777.2 473.0,777.5 469.8,777.9 466.6,778.3 463.4,778.8 460.3,779.2 457.1,779.7 453.9,780.2 450.8,780.8 447.6,781.4 444.4,782.0 441.2,782.6 438.1,783.3 434.9,784.0 431.7,784.7 428.6,785.4 425.4,786.2 422.2,787.0 419.0,787.8 415.9,788.6 412.7,789.4 409.5,790.3 406.4,791.2 403.2,792.1 400.0,793.0 396.8,794.0 393.7,794.9 390.5,795.9 387.3,796.9 384.2,797.9 381.0,799.0 377.8,800.0 374.6,801.1 371.5,802.2 368.3,803.3 365.1,804.4 362.0,805.5 358.8,806.6 355.6,807.8 352.4,808.9 349.3,810.1 346.1,811.3 342.9,812.4 339.8,813.6 336.6,814.8 333.4,816.1 330.2,817.3 327.1,818.5 323.9,819.7" fill="#8e4a9a" fill-opacity="0.20"/>
<polyline points="323.9,822.1 327.1,821.3 330.2,820.4 333.4,819.6 336.6,818.8 339.8,817.9 342.9,817.1 346.1,816.3 349.3,815.5 352.4,814.7 355.6,813.9 358.8,813.0 362.0,812.2 365.1,811.4 368.3,810.6 371.5,809.8 374.6,809.0 377.8,808.3 381.0,807.5 384.2,806.7 387.3,805.9 390.5,805.2 393.7,804.4 396.8,803.6 400.0,802.9 403.2,802.1 406.4,801.4 409.5,800.7 412.7,799.9 415.9,799.2 419.0,798.5 422.2,797.8 425.4,797.1 428.6,796.4 431.7,795.7 434.9,795.0 438.1,794.4 441.2,793.7 444.4,793.1 447.6,792.4 450.8,791.8 453.9,791.2 457.1,790.6 460.3,790.0 463.4,789.4 466.6,788.8 469.8,788.2 473.0,787.6 476.1,787.1 479.3,786.5 482.5,786.0 485.6,785.5 488.8,785.0 492.0,784.5 495.2,784.0 498.3,783.5 501.5,783.1 504.7,782.6 507.8,782.2 511.0,781.7 514.2,781.3" fill="none" stroke="#2c8351" stroke-width="3.5" stroke-linejoin="round"/>
<polyline points="323.9,808.7 327.1,807.9 330.2,807.1 333.4,806.2 336.6,805.4 339.8,804.5 342.9,803.7 346.1,802.8 349.3,802.0 352.4,801.1 355.6,800.3 358.8,799.4 362.0,798.5 365.1,797.7 368.3,796.8 371.5,796.0 374.6,795.1 377.8,794.3 381.0,793.4 384.2,792.6 387.3,791.8 390.5,790.9 393.7,790.1 396.8,789.3 400.0,788.5 403.2,787.7 406.4,786.9 409.5,786.1 412.7,785.3 415.9,784.5 419.0,783.8 422.2,783.0 425.4,782.3 428.6,781.6 431.7,780.8 434.9,780.1 438.1,779.4 441.2,778.8 444.4,778.1 447.6,777.5 450.8,776.8 453.9,776.2 457.1,775.6 460.3,775.0 463.4,774.5 466.6,773.9 469.8,773.4 473.0,772.9 476.1,772.4 479.3,771.9 482.5,771.5 485.6,771.0 488.8,770.6 492.0,770.2 495.2,769.9 498.3,769.5 501.5,769.2 504.7,768.9 507.8,768.7 511.0,768.4 514.2,768.2" fill="none" stroke="#76357c" stroke-width="3.5" stroke-linejoin="round"/>
<polygon points="548.0,850.5 551.2,849.7 554.3,849.0 557.5,848.3 560.7,847.7 563.9,847.0 567.0,846.4 570.2,845.8 573.4,845.2 576.5,844.6 579.7,844.1 582.9,843.5 586.1,842.9 589.2,842.4 592.4,841.8 595.6,841.3 598.7,840.7 601.9,840.1 605.1,839.5 608.3,838.9 611.4,838.3 614.6,837.6 617.8,837.0 620.9,836.3 624.1,835.6 627.3,834.8 630.5,834.1 633.6,833.3 636.8,832.4 640.0,831.5 643.1,830.6 646.3,829.6 649.5,828.6 652.7,827.6 655.8,826.5 659.0,825.4 662.2,824.2 665.3,823.1 668.5,821.9 671.7,820.6 674.9,819.4 678.0,818.2 681.2,816.9 684.4,815.7 687.5,814.4 690.7,813.1 693.9,811.9 697.1,810.6 700.2,809.4 703.4,808.1 706.6,806.9 709.7,805.7 712.9,804.5 716.1,803.4 719.3,802.3 722.4,801.2 725.6,800.1 728.8,799.1 731.9,798.1 735.1,797.2 738.3,796.3 738.3,814.2 735.1,814.5 731.9,814.8 728.8,815.1 725.6,815.6 722.4,816.0 719.3,816.6 716.1,817.2 712.9,817.8 709.7,818.5 706.6,819.2 703.4,820.0 700.2,820.8 697.1,821.6 693.9,822.5 690.7,823.4 687.5,824.3 684.4,825.2 681.2,826.2 678.0,827.1 674.9,828.1 671.7,829.1 668.5,830.1 665.3,831.1 662.2,832.1 659.0,833.0 655.8,834.0 652.7,835.0 649.5,835.9 646.3,836.9 643.1,837.8 640.0,838.7 636.8,839.5 633.6,840.4 630.5,841.2 627.3,842.1 624.1,842.9 620.9,843.7 617.8,844.5 614.6,845.3 611.4,846.1 608.3,846.8 605.1,847.6 601.9,848.4 598.7,849.3 595.6,850.1 592.4,850.9 589.2,851.8 586.1,852.7 582.9,853.6 579.7,854.5 576.5,855.4 573.4,856.4 570.2,857.4 567.0,858.5 563.9,859.6 560.7,860.7 557.5,861.9 554.3,863.1 551.2,864.3 548.0,865.7" fill="#55824b" fill-opacity="0.20"/>
<polygon points="548.0,844.6 551.2,843.9 554.3,843.2 557.5,842.6 560.7,841.9 563.9,841.3 567.0,840.6 570.2,840.0 573.4,839.4 576.5,838.7 579.7,838.1 582.9,837.5 586.1,836.8 589.2,836.2 592.4,835.6 595.6,834.9 598.7,834.2 601.9,833.5 605.1,832.8 608.3,832.1 611.4,831.4 614.6,830.6 617.8,829.9 620.9,829.0 624.1,828.2 627.3,827.4 630.5,826.5 633.6,825.5 636.8,824.6 640.0,823.6 643.1,822.5 646.3,821.5 649.5,820.4 652.7,819.2 655.8,818.0 659.0,816.8 662.2,815.5 665.3,814.3 668.5,813.0 671.7,811.6 674.9,810.3 678.0,808.9 681.2,807.5 684.4,806.0 687.5,804.6 690.7,803.1 693.9,801.7 697.1,800.2 700.2,798.7 703.4,797.2 706.6,795.7 709.7,794.2 712.9,792.7 716.1,791.2 719.3,789.6 722.4,788.1 725.6,786.6 728.8,785.1 731.9,783.6 735.1,782.2 738.3,780.7 738.3,800.7 735.1,801.4 731.9,802.1 728.8,802.9 725.6,803.8 722.4,804.6 719.3,805.5 716.1,806.4 712.9,807.3 709.7,808.3 706.6,809.2 703.4,810.2 700.2,811.2 697.1,812.2 693.9,813.2 690.7,814.3 687.5,815.3 684.4,816.4 681.2,817.4 678.0,818.5 674.9,819.5 671.7,820.6 668.5,821.6 665.3,822.7 662.2,823.7 659.0,824.8 655.8,825.8 652.7,826.8 649.5,827.8 646.3,828.8 643.1,829.7 640.0,830.7 636.8,831.6 633.6,832.5 630.5,833.4 627.3,834.3 624.1,835.2 620.9,836.1 617.8,836.9 614.6,837.8 611.4,838.7 608.3,839.5 605.1,840.4 601.9,841.3 598.7,842.1 595.6,843.0 592.4,843.9 589.2,844.8 586.1,845.8 582.9,846.7 579.7,847.6 576.5,848.6 573.4,849.6 570.2,850.6 567.0,851.7 563.9,852.8 560.7,853.9 557.5,855.0 554.3,856.2 551.2,857.4 548.0,858.6" fill="#8e4a9a" fill-opacity="0.20"/>
<polyline points="548.0,858.1 551.2,857.0 554.3,856.1 557.5,855.1 560.7,854.2 563.9,853.3 567.0,852.4 570.2,851.6 573.4,850.8 576.5,850.0 579.7,849.3 582.9,848.5 586.1,847.8 589.2,847.1 592.4,846.4 595.6,845.7 598.7,845.0 601.9,844.3 605.1,843.6 608.3,842.9 611.4,842.2 614.6,841.5 617.8,840.7 620.9,840.0 624.1,839.2 627.3,838.4 630.5,837.6 633.6,836.8 636.8,836.0 640.0,835.1 643.1,834.2 646.3,833.3 649.5,832.3 652.7,831.3 655.8,830.3 659.0,829.2 662.2,828.1 665.3,827.1 668.5,826.0 671.7,824.9 674.9,823.8 678.0,822.7 681.2,821.5 684.4,820.4 687.5,819.3 690.7,818.3 693.9,817.2 697.1,816.1 700.2,815.1 703.4,814.1 706.6,813.1 709.7,812.1 712.9,811.2 716.1,810.3 719.3,809.4 722.4,808.6 725.6,807.8 728.8,807.1 731.9,806.4 735.1,805.8 738.3,805.3" fill="none" stroke="#2c8351" stroke-width="3.5" stroke-linejoin="round"/>
<polyline points="548.0,851.6 551.2,850.6 554.3,849.7 557.5,848.8 560.7,847.9 563.9,847.0 567.0,846.2 570.2,845.3 573.4,844.5 576.5,843.7 579.7,842.9 582.9,842.1 586.1,841.3 589.2,840.5 592.4,839.7 595.6,839.0 598.7,838.2 601.9,837.4 605.1,836.6 608.3,835.8 611.4,835.0 614.6,834.2 617.8,833.4 620.9,832.6 624.1,831.7 627.3,830.8 630.5,829.9 633.6,829.0 636.8,828.1 640.0,827.1 643.1,826.1 646.3,825.1 649.5,824.1 652.7,823.0 655.8,821.9 659.0,820.8 662.2,819.6 665.3,818.5 668.5,817.3 671.7,816.1 674.9,814.9 678.0,813.7 681.2,812.4 684.4,811.2 687.5,810.0 690.7,808.7 693.9,807.5 697.1,806.2 700.2,805.0 703.4,803.7 706.6,802.5 709.7,801.2 712.9,800.0 716.1,798.8 719.3,797.6 722.4,796.4 725.6,795.2 728.8,794.0 731.9,792.9 735.1,791.8 738.3,790.7" fill="none" stroke="#76357c" stroke-width="3.5" stroke-linejoin="round"/>
<polygon points="772.1,821.7 775.3,821.5 778.4,821.3 781.6,821.1 784.8,820.8 788.0,820.6 791.1,820.3 794.3,820.0 797.5,819.7 800.6,819.4 803.8,819.1 807.0,818.8 810.2,818.4 813.3,818.1 816.5,817.7 819.7,817.3 822.8,816.9 826.0,816.5 829.2,816.1 832.4,815.6 835.5,815.2 838.7,814.7 841.9,814.2 845.0,813.7 848.2,813.2 851.4,812.6 854.6,812.1 857.7,811.5 860.9,810.9 864.1,810.3 867.2,809.7 870.4,809.1 873.6,808.4 876.8,807.8 879.9,807.1 883.1,806.4 886.3,805.7 889.4,805.0 892.6,804.2 895.8,803.4 899.0,802.6 902.1,801.8 905.3,801.0 908.5,800.2 911.6,799.3 914.8,798.4 918.0,797.5 921.2,796.6 924.3,795.7 927.5,794.7 930.7,793.8 933.8,792.8 937.0,791.7 940.2,790.7 943.4,789.7 946.5,788.6 949.7,787.5 952.9,786.4 956.0,785.2 959.2,784.1 962.4,782.9 962.4,796.9 959.2,797.5 956.0,798.2 952.9,798.8 949.7,799.5 946.5,800.1 943.4,800.8 940.2,801.4 937.0,802.0 933.8,802.7 930.7,803.3 927.5,803.9 924.3,804.6 921.2,805.2 918.0,805.8 914.8,806.4 911.6,807.1 908.5,807.7 905.3,808.3 902.1,808.9 899.0,809.5 895.8,810.1 892.6,810.8 889.4,811.4 886.3,812.0 883.1,812.6 879.9,813.2 876.8,813.9 873.6,814.5 870.4,815.1 867.2,815.7 864.1,816.3 860.9,817.0 857.7,817.6 854.6,818.2 851.4,818.8 848.2,819.5 845.0,820.1 841.9,820.8 838.7,821.4 835.5,822.0 832.4,822.7 829.2,823.3 826.0,824.0 822.8,824.6 819.7,825.3 816.5,826.0 813.3,826.6 810.2,827.3 807.0,828.0 803.8,828.6 800.6,829.3 797.5,830.0 794.3,830.7 791.1,831.4 788.0,832.1 784.8,832.8 781.6,833.5 778.4,834.3 775.3,835.0 772.1,835.7" fill="#55824b" fill-opacity="0.20"/>
<polygon points="772.1,824.9 775.3,824.5 778.4,824.2 781.6,823.8 784.8,823.4 788.0,823.1 791.1,822.7 794.3,822.4 797.5,822.0 800.6,821.7 803.8,821.4 807.0,821.0 810.2,820.7 813.3,820.3 816.5,820.0 819.7,819.7 822.8,819.3 826.0,819.0 829.2,818.6 832.4,818.3 835.5,817.9 838.7,817.6 841.9,817.2 845.0,816.9 848.2,816.5 851.4,816.1 854.6,815.7 857.7,815.3 860.9,814.9 864.1,814.5 867.2,814.1 870.4,813.7 873.6,813.3 876.8,812.8 879.9,812.4 883.1,811.9 886.3,811.4 889.4,810.9 892.6,810.4 895.8,809.9 899.0,809.4 902.1,808.9 905.3,808.3 908.5,807.7 911.6,807.2 914.8,806.6 918.0,805.9 921.2,805.3 924.3,804.7 927.5,804.0 930.7,803.3 933.8,802.6 937.0,801.9 940.2,801.1 943.4,800.4 946.5,799.6 949.7,798.8 952.9,797.9 956.0,797.1 959.2,796.2 962.4,795.3 962.4,807.3 959.2,807.8 956.0,808.3 952.9,808.7 949.7,809.2 946.5,809.6 943.4,810.1 940.2,810.5 937.0,811.0 933.8,811.4 930.7,811.8 927.5,812.2 924.3,812.7 921.2,813.1 918.0,813.5 914.8,813.9 911.6,814.3 908.5,814.7 905.3,815.1 902.1,815.5 899.0,815.9 895.8,816.3 892.6,816.7 889.4,817.2 886.3,817.6 883.1,818.0 879.9,818.4 876.8,818.8 873.6,819.2 870.4,819.7 867.2,820.1 864.1,820.6 860.9,821.0 857.7,821.5 854.6,821.9 851.4,822.4 848.2,822.9 845.0,823.3 841.9,823.8 838.7,824.3 835.5,824.9 832.4,825.4 829.2,825.9 826.0,826.5 822.8,827.0 819.7,827.6 816.5,828.2 813.3,828.8 810.2,829.4 807.0,830.0 803.8,830.7 800.6,831.3 797.5,832.0 794.3,832.7 791.1,833.4 788.0,834.1 784.8,834.9 781.6,835.7 778.4,836.4 775.3,837.2 772.1,838.1" fill="#8e4a9a" fill-opacity="0.20"/>
<polyline points="772.1,828.7 775.3,828.3 778.4,827.8 781.6,827.3 784.8,826.8 788.0,826.3 791.1,825.9 794.3,825.4 797.5,824.9 800.6,824.4 803.8,823.9 807.0,823.4 810.2,822.9 813.3,822.3 816.5,821.8 819.7,821.3 822.8,820.8 826.0,820.2 829.2,819.7 832.4,819.1 835.5,818.6 838.7,818.0 841.9,817.5 845.0,816.9 848.2,816.3 851.4,815.7 854.6,815.2 857.7,814.6 860.9,814.0 864.1,813.3 867.2,812.7 870.4,812.1 873.6,811.5 876.8,810.8 879.9,810.2 883.1,809.5 886.3,808.8 889.4,808.2 892.6,807.5 895.8,806.8 899.0,806.1 902.1,805.4 905.3,804.7 908.5,803.9 911.6,803.2 914.8,802.4 918.0,801.7 921.2,800.9 924.3,800.1 927.5,799.3 930.7,798.5 933.8,797.7 937.0,796.9 940.2,796.1 943.4,795.2 946.5,794.3 949.7,793.5 952.9,792.6 956.0,791.7 959.2,790.8 962.4,789.9" fill="none" stroke="#2c8351" stroke-width="3.5" stroke-linejoin="round"/>
<polyline points="772.1,831.5 775.3,830.9 778.4,830.3 781.6,829.7 784.8,829.2 788.0,828.6 791.1,828.1 794.3,827.5 797.5,827.0 800.6,826.5 803.8,826.0 807.0,825.5 810.2,825.0 813.3,824.6 816.5,824.1 819.7,823.6 822.8,823.2 826.0,822.7 829.2,822.3 832.4,821.8 835.5,821.4 838.7,821.0 841.9,820.5 845.0,820.1 848.2,819.7 851.4,819.2 854.6,818.8 857.7,818.4 860.9,818.0 864.1,817.5 867.2,817.1 870.4,816.7 873.6,816.3 876.8,815.8 879.9,815.4 883.1,814.9 886.3,814.5 889.4,814.0 892.6,813.6 895.8,813.1 899.0,812.7 902.1,812.2 905.3,811.7 908.5,811.2 911.6,810.7 914.8,810.2 918.0,809.7 921.2,809.2 924.3,808.7 927.5,808.1 930.7,807.6 933.8,807.0 937.0,806.4 940.2,805.8 943.4,805.2 946.5,804.6 949.7,804.0 952.9,803.3 956.0,802.7 959.2,802.0 962.4,801.3" fill="none" stroke="#76357c" stroke-width="3.5" stroke-linejoin="round"/>
<polygon points="996.2,771.1 999.4,770.4 1002.5,769.8 1005.7,769.1 1008.9,768.4 1012.1,767.8 1015.2,767.1 1018.4,766.4 1021.6,765.7 1024.7,765.1 1027.9,764.4 1031.1,763.7 1034.3,763.0 1037.4,762.3 1040.6,761.6 1043.8,760.9 1046.9,760.1 1050.1,759.4 1053.3,758.7 1056.5,758.0 1059.6,757.2 1062.8,756.5 1066.0,755.7 1069.1,755.0 1072.3,754.2 1075.5,753.5 1078.7,752.7 1081.8,752.0 1085.0,751.2 1088.2,750.4 1091.3,749.6 1094.5,748.8 1097.7,748.1 1100.9,747.3 1104.0,746.5 1107.2,745.7 1110.4,744.9 1113.5,744.0 1116.7,743.2 1119.9,742.4 1123.1,741.6 1126.2,740.8 1129.4,739.9 1132.6,739.1 1135.7,738.2 1138.9,737.4 1142.1,736.5 1145.3,735.7 1148.4,734.8 1151.6,734.0 1154.8,733.1 1157.9,732.2 1161.1,731.3 1164.3,730.4 1167.5,729.6 1170.6,728.7 1173.8,727.8 1177.0,726.9 1180.1,726.0 1183.3,725.1 1186.5,724.1 1186.5,740.1 1183.3,740.3 1180.1,740.6 1177.0,740.9 1173.8,741.1 1170.6,741.5 1167.5,741.8 1164.3,742.1 1161.1,742.5 1157.9,742.9 1154.8,743.3 1151.6,743.7 1148.4,744.2 1145.3,744.6 1142.1,745.1 1138.9,745.6 1135.7,746.2 1132.6,746.7 1129.4,747.3 1126.2,747.9 1123.1,748.5 1119.9,749.1 1116.7,749.7 1113.5,750.4 1110.4,751.1 1107.2,751.8 1104.0,752.5 1100.9,753.3 1097.7,754.0 1094.5,754.8 1091.3,755.6 1088.2,756.4 1085.0,757.3 1081.8,758.2 1078.7,759.0 1075.5,759.9 1072.3,760.9 1069.1,761.8 1066.0,762.8 1062.8,763.8 1059.6,764.8 1056.5,765.8 1053.3,766.8 1050.1,767.9 1046.9,769.0 1043.8,770.1 1040.6,771.2 1037.4,772.4 1034.3,773.5 1031.1,774.7 1027.9,775.9 1024.7,777.1 1021.6,778.4 1018.4,779.6 1015.2,780.9 1012.1,782.2 1008.9,783.6 1005.7,784.9 1002.5,786.3 999.4,787.6 996.2,789.0" fill="#55824b" fill-opacity="0.20"/>
<polygon points="996.2,781.5 999.4,780.7 1002.5,780.0 1005.7,779.2 1008.9,778.4 1012.1,777.6 1015.2,776.9 1018.4,776.1 1021.6,775.3 1024.7,774.5 1027.9,773.7 1031.1,773.0 1034.3,772.2 1037.4,771.4 1040.6,770.6 1043.8,769.8 1046.9,769.1 1050.1,768.3 1053.3,767.5 1056.5,766.7 1059.6,765.9 1062.8,765.1 1066.0,764.3 1069.1,763.5 1072.3,762.7 1075.5,761.9 1078.7,761.1 1081.8,760.4 1085.0,759.6 1088.2,758.8 1091.3,758.0 1094.5,757.2 1097.7,756.4 1100.9,755.6 1104.0,754.8 1107.2,754.0 1110.4,753.1 1113.5,752.3 1116.7,751.5 1119.9,750.7 1123.1,749.9 1126.2,749.1 1129.4,748.3 1132.6,747.5 1135.7,746.7 1138.9,745.9 1142.1,745.1 1145.3,744.2 1148.4,743.4 1151.6,742.6 1154.8,741.8 1157.9,741.0 1161.1,740.1 1164.3,739.3 1167.5,738.5 1170.6,737.7 1173.8,736.9 1177.0,736.0 1180.1,735.2 1183.3,734.4 1186.5,733.6 1186.5,747.5 1183.3,747.8 1180.1,748.1 1177.0,748.4 1173.8,748.7 1170.6,749.0 1167.5,749.3 1164.3,749.7 1161.1,750.1 1157.9,750.5 1154.8,750.9 1151.6,751.3 1148.4,751.8 1145.3,752.2 1142.1,752.7 1138.9,753.2 1135.7,753.7 1132.6,754.3 1129.4,754.8 1126.2,755.4 1123.1,756.0 1119.9,756.6 1116.7,757.2 1113.5,757.8 1110.4,758.5 1107.2,759.1 1104.0,759.8 1100.9,760.5 1097.7,761.3 1094.5,762.0 1091.3,762.8 1088.2,763.5 1085.0,764.3 1081.8,765.1 1078.7,766.0 1075.5,766.8 1072.3,767.7 1069.1,768.5 1066.0,769.4 1062.8,770.3 1059.6,771.3 1056.5,772.2 1053.3,773.2 1050.1,774.2 1046.9,775.2 1043.8,776.2 1040.6,777.2 1037.4,778.3 1034.3,779.3 1031.1,780.4 1027.9,781.5 1024.7,782.6 1021.6,783.8 1018.4,784.9 1015.2,786.1 1012.1,787.3 1008.9,788.5 1005.7,789.7 1002.5,791.0 999.4,792.2 996.2,793.5" fill="#8e4a9a" fill-opacity="0.20"/>
<polyline points="996.2,780.1 999.4,779.0 1002.5,778.0 1005.7,777.0 1008.9,776.0 1012.1,775.0 1015.2,774.0 1018.4,773.0 1021.6,772.1 1024.7,771.1 1027.9,770.1 1031.1,769.2 1034.3,768.3 1037.4,767.3 1040.6,766.4 1043.8,765.5 1046.9,764.6 1050.1,763.7 1053.3,762.8 1056.5,761.9 1059.6,761.0 1062.8,760.1 1066.0,759.3 1069.1,758.4 1072.3,757.6 1075.5,756.7 1078.7,755.9 1081.8,755.1 1085.0,754.2 1088.2,753.4 1091.3,752.6 1094.5,751.8 1097.7,751.0 1100.9,750.3 1104.0,749.5 1107.2,748.7 1110.4,748.0 1113.5,747.2 1116.7,746.5 1119.9,745.7 1123.1,745.0 1126.2,744.3 1129.4,743.6 1132.6,742.9 1135.7,742.2 1138.9,741.5 1142.1,740.8 1145.3,740.2 1148.4,739.5 1151.6,738.8 1154.8,738.2 1157.9,737.5 1161.1,736.9 1164.3,736.3 1167.5,735.7 1170.6,735.1 1173.8,734.5 1177.0,733.9 1180.1,733.3 1183.3,732.7 1186.5,732.1" fill="none" stroke="#2c8351" stroke-width="3.5" stroke-linejoin="round"/>
<polyline points="996.2,787.5 999.4,786.5 1002.5,785.5 1005.7,784.4 1008.9,783.4 1012.1,782.5 1015.2,781.5 1018.4,780.5 1021.6,779.5 1024.7,778.6 1027.9,777.6 1031.1,776.7 1034.3,775.8 1037.4,774.8 1040.6,773.9 1043.8,773.0 1046.9,772.1 1050.1,771.2 1053.3,770.3 1056.5,769.5 1059.6,768.6 1062.8,767.7 1066.0,766.9 1069.1,766.0 1072.3,765.2 1075.5,764.4 1078.7,763.6 1081.8,762.7 1085.0,761.9 1088.2,761.1 1091.3,760.4 1094.5,759.6 1097.7,758.8 1100.9,758.0 1104.0,757.3 1107.2,756.5 1110.4,755.8 1113.5,755.1 1116.7,754.4 1119.9,753.6 1123.1,752.9 1126.2,752.2 1129.4,751.6 1132.6,750.9 1135.7,750.2 1138.9,749.5 1142.1,748.9 1145.3,748.2 1148.4,747.6 1151.6,747.0 1154.8,746.3 1157.9,745.7 1161.1,745.1 1164.3,744.5 1167.5,743.9 1170.6,743.3 1173.8,742.8 1177.0,742.2 1180.1,741.6 1183.3,741.1 1186.5,740.5" fill="none" stroke="#76357c" stroke-width="3.5" stroke-linejoin="round"/>
<polygon points="1220.3,813.4 1223.5,812.7 1226.6,812.0 1229.8,811.4 1233.0,810.7 1236.2,810.1 1239.3,809.5 1242.5,808.8 1245.7,808.2 1248.8,807.5 1252.0,806.9 1255.2,806.3 1258.4,805.6 1261.5,805.0 1264.7,804.3 1267.9,803.7 1271.0,803.0 1274.2,802.4 1277.4,801.7 1280.6,801.1 1283.7,800.4 1286.9,799.7 1290.1,799.0 1293.2,798.3 1296.4,797.6 1299.6,796.9 1302.8,796.2 1305.9,795.5 1309.1,794.8 1312.3,794.0 1315.4,793.3 1318.6,792.5 1321.8,791.8 1325.0,791.0 1328.1,790.2 1331.3,789.4 1334.5,788.5 1337.6,787.7 1340.8,786.8 1344.0,786.0 1347.2,785.1 1350.3,784.2 1353.5,783.3 1356.7,782.3 1359.8,781.4 1363.0,780.4 1366.2,779.4 1369.4,778.4 1372.5,777.3 1375.7,776.3 1378.9,775.2 1382.0,774.1 1385.2,773.0 1388.4,771.8 1391.6,770.7 1394.7,769.5 1397.9,768.3 1401.1,767.0 1404.2,765.8 1407.4,764.5 1410.6,763.2 1410.6,777.1 1407.4,778.2 1404.2,779.2 1401.1,780.2 1397.9,781.2 1394.7,782.2 1391.6,783.2 1388.4,784.1 1385.2,785.1 1382.0,786.0 1378.9,787.0 1375.7,787.9 1372.5,788.8 1369.4,789.7 1366.2,790.6 1363.0,791.5 1359.8,792.4 1356.7,793.3 1353.5,794.2 1350.3,795.0 1347.2,795.9 1344.0,796.8 1340.8,797.6 1337.6,798.5 1334.5,799.3 1331.3,800.2 1328.1,801.1 1325.0,801.9 1321.8,802.8 1318.6,803.6 1315.4,804.5 1312.3,805.3 1309.1,806.2 1305.9,807.1 1302.8,807.9 1299.6,808.8 1296.4,809.7 1293.2,810.5 1290.1,811.4 1286.9,812.3 1283.7,813.2 1280.6,814.1 1277.4,815.0 1274.2,815.9 1271.0,816.9 1267.9,817.8 1264.7,818.8 1261.5,819.7 1258.4,820.7 1255.2,821.7 1252.0,822.7 1248.8,823.7 1245.7,824.7 1242.5,825.7 1239.3,826.7 1236.2,827.8 1233.0,828.9 1229.8,830.0 1226.6,831.1 1223.5,832.2 1220.3,833.3" fill="#55824b" fill-opacity="0.20"/>
<polygon points="1220.3,792.6 1223.5,792.2 1226.6,791.7 1229.8,791.2 1233.0,790.7 1236.2,790.3 1239.3,789.8 1242.5,789.2 1245.7,788.7 1248.8,788.2 1252.0,787.7 1255.2,787.1 1258.4,786.6 1261.5,786.0 1264.7,785.5 1267.9,784.9 1271.0,784.3 1274.2,783.7 1277.4,783.1 1280.6,782.5 1283.7,781.9 1286.9,781.2 1290.1,780.6 1293.2,779.9 1296.4,779.3 1299.6,778.6 1302.8,777.9 1305.9,777.2 1309.1,776.5 1312.3,775.7 1315.4,775.0 1318.6,774.2 1321.8,773.4 1325.0,772.7 1328.1,771.9 1331.3,771.0 1334.5,770.2 1337.6,769.4 1340.8,768.5 1344.0,767.6 1347.2,766.7 1350.3,765.8 1353.5,764.9 1356.7,764.0 1359.8,763.0 1363.0,762.0 1366.2,761.1 1369.4,760.0 1372.5,759.0 1375.7,758.0 1378.9,756.9 1382.0,755.9 1385.2,754.8 1388.4,753.6 1391.6,752.5 1394.7,751.4 1397.9,750.2 1401.1,749.0 1404.2,747.8 1407.4,746.6 1410.6,745.3 1410.6,757.3 1407.4,758.3 1404.2,759.4 1401.1,760.4 1397.9,761.4 1394.7,762.4 1391.6,763.4 1388.4,764.4 1385.2,765.4 1382.0,766.4 1378.9,767.4 1375.7,768.3 1372.5,769.3 1369.4,770.3 1366.2,771.2 1363.0,772.2 1359.8,773.1 1356.7,774.1 1353.5,775.0 1350.3,776.0 1347.2,776.9 1344.0,777.8 1340.8,778.8 1337.6,779.7 1334.5,780.6 1331.3,781.5 1328.1,782.5 1325.0,783.4 1321.8,784.3 1318.6,785.2 1315.4,786.2 1312.3,787.1 1309.1,788.0 1305.9,788.9 1302.8,789.8 1299.6,790.8 1296.4,791.7 1293.2,792.6 1290.1,793.5 1286.9,794.4 1283.7,795.4 1280.6,796.3 1277.4,797.2 1274.2,798.2 1271.0,799.1 1267.9,800.0 1264.7,801.0 1261.5,801.9 1258.4,802.9 1255.2,803.8 1252.0,804.8 1248.8,805.7 1245.7,806.7 1242.5,807.7 1239.3,808.6 1236.2,809.6 1233.0,810.6 1229.8,811.6 1226.6,812.6 1223.5,813.6 1220.3,814.6" fill="#8e4a9a" fill-opacity="0.20"/>
<polyline points="1220.3,823.3 1223.5,822.4 1226.6,821.6 1229.8,820.7 1233.0,819.8 1236.2,819.0 1239.3,818.1 1242.5,817.3 1245.7,816.4 1248.8,815.6 1252.0,814.8 1255.2,814.0 1258.4,813.2 1261.5,812.3 1264.7,811.5 1267.9,810.7 1271.0,810.0 1274.2,809.2 1277.4,808.4 1280.6,807.6 1283.7,806.8 1286.9,806.0 1290.1,805.2 1293.2,804.4 1296.4,803.7 1299.6,802.9 1302.8,802.1 1305.9,801.3 1309.1,800.5 1312.3,799.7 1315.4,798.9 1318.6,798.1 1321.8,797.3 1325.0,796.4 1328.1,795.6 1331.3,794.8 1334.5,793.9 1337.6,793.1 1340.8,792.2 1344.0,791.4 1347.2,790.5 1350.3,789.6 1353.5,788.7 1356.7,787.8 1359.8,786.9 1363.0,785.9 1366.2,785.0 1369.4,784.0 1372.5,783.1 1375.7,782.1 1378.9,781.1 1382.0,780.1 1385.2,779.0 1388.4,778.0 1391.6,776.9 1394.7,775.8 1397.9,774.7 1401.1,773.6 1404.2,772.5 1407.4,771.3 1410.6,770.1" fill="none" stroke="#2c8351" stroke-width="3.5" stroke-linejoin="round"/>
<polyline points="1220.3,803.6 1223.5,802.9 1226.6,802.1 1229.8,801.4 1233.0,800.7 1236.2,799.9 1239.3,799.2 1242.5,798.5 1245.7,797.7 1248.8,797.0 1252.0,796.2 1255.2,795.5 1258.4,794.7 1261.5,794.0 1264.7,793.2 1267.9,792.5 1271.0,791.7 1274.2,790.9 1277.4,790.2 1280.6,789.4 1283.7,788.6 1286.9,787.8 1290.1,787.1 1293.2,786.3 1296.4,785.5 1299.6,784.7 1302.8,783.9 1305.9,783.0 1309.1,782.2 1312.3,781.4 1315.4,780.6 1318.6,779.7 1321.8,778.9 1325.0,778.0 1328.1,777.2 1331.3,776.3 1334.5,775.4 1337.6,774.5 1340.8,773.6 1344.0,772.7 1347.2,771.8 1350.3,770.9 1353.5,770.0 1356.7,769.0 1359.8,768.1 1363.0,767.1 1366.2,766.1 1369.4,765.2 1372.5,764.2 1375.7,763.2 1378.9,762.1 1382.0,761.1 1385.2,760.1 1388.4,759.0 1391.6,758.0 1394.7,756.9 1397.9,755.8 1401.1,754.7 1404.2,753.6 1407.4,752.5 1410.6,751.3" fill="none" stroke="#76357c" stroke-width="3.5" stroke-linejoin="round"/>
<polygon points="1444.4,776.2 1447.6,777.0 1450.7,777.7 1453.9,778.3 1457.1,778.8 1460.3,779.3 1463.4,779.8 1466.6,780.1 1469.8,780.5 1472.9,780.7 1476.1,780.9 1479.3,781.1 1482.5,781.1 1485.6,781.2 1488.8,781.1 1492.0,781.0 1495.1,780.9 1498.3,780.7 1501.5,780.5 1504.7,780.1 1507.8,779.8 1511.0,779.4 1514.2,778.9 1517.3,778.4 1520.5,777.8 1523.7,777.2 1526.9,776.5 1530.0,775.8 1533.2,775.1 1536.4,774.2 1539.5,773.4 1542.7,772.5 1545.9,771.5 1549.1,770.5 1552.2,769.5 1555.4,768.4 1558.6,767.3 1561.7,766.1 1564.9,764.9 1568.1,763.6 1571.3,762.3 1574.4,761.0 1577.6,759.6 1580.8,758.2 1583.9,756.7 1587.1,755.3 1590.3,753.7 1593.5,752.2 1596.6,750.6 1599.8,749.0 1603.0,747.3 1606.1,745.6 1609.3,743.9 1612.5,742.2 1615.7,740.4 1618.8,738.6 1622.0,736.7 1625.2,734.9 1628.3,733.0 1631.5,731.1 1634.7,729.1 1634.7,792.2 1631.5,792.1 1628.3,792.0 1625.2,792.0 1622.0,792.0 1618.8,792.1 1615.7,792.1 1612.5,792.3 1609.3,792.5 1606.1,792.7 1603.0,792.9 1599.8,793.2 1596.6,793.6 1593.5,793.9 1590.3,794.4 1587.1,794.8 1583.9,795.3 1580.8,795.8 1577.6,796.4 1574.4,796.9 1571.3,797.6 1568.1,798.2 1564.9,798.9 1561.7,799.6 1558.6,800.3 1555.4,801.1 1552.2,801.9 1549.1,802.7 1545.9,803.6 1542.7,804.4 1539.5,805.3 1536.4,806.3 1533.2,807.2 1530.0,808.2 1526.9,809.2 1523.7,810.2 1520.5,811.2 1517.3,812.3 1514.2,813.4 1511.0,814.4 1507.8,815.6 1504.7,816.7 1501.5,817.8 1498.3,819.0 1495.1,820.2 1492.0,821.4 1488.8,822.6 1485.6,823.8 1482.5,825.1 1479.3,826.3 1476.1,827.6 1472.9,828.9 1469.8,830.2 1466.6,831.5 1463.4,832.8 1460.3,834.1 1457.1,835.5 1453.9,836.8 1450.7,838.2 1447.6,839.6 1444.4,840.9" fill="#55824b" fill-opacity="0.20"/>
<polygon points="1444.4,734.5 1447.6,736.0 1450.7,737.4 1453.9,738.9 1457.1,740.2 1460.3,741.5 1463.4,742.8 1466.6,744.0 1469.8,745.2 1472.9,746.3 1476.1,747.3 1479.3,748.3 1482.5,749.3 1485.6,750.2 1488.8,751.1 1492.0,751.9 1495.1,752.6 1498.3,753.3 1501.5,754.0 1504.7,754.6 1507.8,755.1 1511.0,755.6 1514.2,756.1 1517.3,756.5 1520.5,756.8 1523.7,757.1 1526.9,757.3 1530.0,757.5 1533.2,757.6 1536.4,757.7 1539.5,757.7 1542.7,757.7 1545.9,757.6 1549.1,757.4 1552.2,757.2 1555.4,757.0 1558.6,756.7 1561.7,756.4 1564.9,756.0 1568.1,755.5 1571.3,755.0 1574.4,754.5 1577.6,753.9 1580.8,753.3 1583.9,752.6 1587.1,751.8 1590.3,751.1 1593.5,750.2 1596.6,749.4 1599.8,748.5 1603.0,747.5 1606.1,746.5 1609.3,745.5 1612.5,744.4 1615.7,743.3 1618.8,742.2 1622.0,741.0 1625.2,739.7 1628.3,738.5 1631.5,737.1 1634.7,735.8 1634.7,791.7 1631.5,791.2 1628.3,790.7 1625.2,790.2 1622.0,789.7 1618.8,789.3 1615.7,788.9 1612.5,788.5 1609.3,788.2 1606.1,787.9 1603.0,787.6 1599.8,787.3 1596.6,787.0 1593.5,786.8 1590.3,786.6 1587.1,786.4 1583.9,786.2 1580.8,786.1 1577.6,785.9 1574.4,785.8 1571.3,785.7 1568.1,785.7 1564.9,785.6 1561.7,785.6 1558.6,785.5 1555.4,785.5 1552.2,785.5 1549.1,785.5 1545.9,785.6 1542.7,785.6 1539.5,785.7 1536.4,785.7 1533.2,785.8 1530.0,785.9 1526.9,786.0 1523.7,786.1 1520.5,786.3 1517.3,786.4 1514.2,786.5 1511.0,786.7 1507.8,786.9 1504.7,787.1 1501.5,787.3 1498.3,787.5 1495.1,787.8 1492.0,788.0 1488.8,788.3 1485.6,788.6 1482.5,788.8 1479.3,789.2 1476.1,789.5 1472.9,789.8 1469.8,790.2 1466.6,790.6 1463.4,790.9 1460.3,791.3 1457.1,791.8 1453.9,792.2 1450.7,792.6 1447.6,793.1 1444.4,793.6" fill="#8e4a9a" fill-opacity="0.20"/>
<polyline points="1444.4,808.6 1447.6,808.3 1450.7,807.9 1453.9,807.6 1457.1,807.2 1460.3,806.7 1463.4,806.3 1466.6,805.8 1469.8,805.3 1472.9,804.8 1476.1,804.3 1479.3,803.7 1482.5,803.1 1485.6,802.5 1488.8,801.9 1492.0,801.2 1495.1,800.5 1498.3,799.9 1501.5,799.1 1504.7,798.4 1507.8,797.7 1511.0,796.9 1514.2,796.1 1517.3,795.3 1520.5,794.5 1523.7,793.7 1526.9,792.9 1530.0,792.0 1533.2,791.1 1536.4,790.3 1539.5,789.4 1542.7,788.5 1545.9,787.5 1549.1,786.6 1552.2,785.7 1555.4,784.7 1558.6,783.8 1561.7,782.8 1564.9,781.9 1568.1,780.9 1571.3,779.9 1574.4,779.0 1577.6,778.0 1580.8,777.0 1583.9,776.0 1587.1,775.0 1590.3,774.0 1593.5,773.1 1596.6,772.1 1599.8,771.1 1603.0,770.1 1606.1,769.2 1609.3,768.2 1612.5,767.2 1615.7,766.3 1618.8,765.3 1622.0,764.4 1625.2,763.4 1628.3,762.5 1631.5,761.6 1634.7,760.7" fill="none" stroke="#2c8351" stroke-width="3.5" stroke-linejoin="round"/>
<polyline points="1444.4,764.0 1447.6,764.6 1450.7,765.0 1453.9,765.5 1457.1,766.0 1460.3,766.4 1463.4,766.9 1466.6,767.3 1469.8,767.7 1472.9,768.0 1476.1,768.4 1479.3,768.7 1482.5,769.1 1485.6,769.4 1488.8,769.7 1492.0,769.9 1495.1,770.2 1498.3,770.4 1501.5,770.6 1504.7,770.8 1507.8,771.0 1511.0,771.2 1514.2,771.3 1517.3,771.4 1520.5,771.5 1523.7,771.6 1526.9,771.7 1530.0,771.7 1533.2,771.7 1536.4,771.7 1539.5,771.7 1542.7,771.6 1545.9,771.6 1549.1,771.5 1552.2,771.4 1555.4,771.3 1558.6,771.1 1561.7,771.0 1564.9,770.8 1568.1,770.6 1571.3,770.4 1574.4,770.2 1577.6,769.9 1580.8,769.7 1583.9,769.4 1587.1,769.1 1590.3,768.8 1593.5,768.5 1596.6,768.2 1599.8,767.9 1603.0,767.5 1606.1,767.2 1609.3,766.8 1612.5,766.5 1615.7,766.1 1618.8,765.7 1622.0,765.4 1625.2,765.0 1628.3,764.6 1631.5,764.2 1634.7,763.8" fill="none" stroke="#76357c" stroke-width="3.5" stroke-linejoin="round"/>
<polygon points="1668.5,884.8 1671.7,884.4 1674.8,884.0 1678.0,883.5 1681.2,883.0 1684.4,882.5 1687.5,882.0 1690.7,881.5 1693.9,880.9 1697.0,880.3 1700.2,879.7 1703.4,879.1 1706.6,878.5 1709.7,877.8 1712.9,877.1 1716.1,876.4 1719.2,875.7 1722.4,874.9 1725.6,874.2 1728.8,873.4 1731.9,872.6 1735.1,871.7 1738.3,870.9 1741.4,870.0 1744.6,869.1 1747.8,868.1 1751.0,867.2 1754.1,866.2 1757.3,865.2 1760.5,864.1 1763.6,863.1 1766.8,862.0 1770.0,860.9 1773.2,859.7 1776.3,858.6 1779.5,857.4 1782.7,856.1 1785.8,854.9 1789.0,853.6 1792.2,852.3 1795.4,851.0 1798.5,849.7 1801.7,848.3 1804.9,846.9 1808.0,845.4 1811.2,843.9 1814.4,842.5 1817.6,840.9 1820.7,839.4 1823.9,837.8 1827.1,836.2 1830.2,834.5 1833.4,832.8 1836.6,831.1 1839.8,829.4 1842.9,827.6 1846.1,825.8 1849.3,824.0 1852.4,822.1 1855.6,820.2 1858.8,818.3 1858.8,832.3 1855.6,833.7 1852.4,835.0 1849.3,836.4 1846.1,837.7 1842.9,839.1 1839.8,840.4 1836.6,841.7 1833.4,843.0 1830.2,844.3 1827.1,845.6 1823.9,846.9 1820.7,848.2 1817.6,849.5 1814.4,850.7 1811.2,852.0 1808.0,853.2 1804.9,854.5 1801.7,855.7 1798.5,857.0 1795.4,858.2 1792.2,859.4 1789.0,860.6 1785.8,861.9 1782.7,863.1 1779.5,864.3 1776.3,865.5 1773.2,866.7 1770.0,867.9 1766.8,869.1 1763.6,870.3 1760.5,871.4 1757.3,872.6 1754.1,873.8 1751.0,875.0 1747.8,876.2 1744.6,877.3 1741.4,878.5 1738.3,879.7 1735.1,880.8 1731.9,882.0 1728.8,883.2 1725.6,884.4 1722.4,885.5 1719.2,886.7 1716.1,887.9 1712.9,889.0 1709.7,890.2 1706.6,891.4 1703.4,892.5 1700.2,893.7 1697.0,894.9 1693.9,896.1 1690.7,897.3 1687.5,898.4 1684.4,899.6 1681.2,900.8 1678.0,902.0 1674.8,903.2 1671.7,904.4 1668.5,905.6" fill="#55824b" fill-opacity="0.20"/>
<polygon points="1668.5,842.9 1671.7,843.1 1674.8,843.2 1678.0,843.3 1681.2,843.4 1684.4,843.5 1687.5,843.5 1690.7,843.6 1693.9,843.6 1697.0,843.5 1700.2,843.5 1703.4,843.4 1706.6,843.4 1709.7,843.3 1712.9,843.1 1716.1,843.0 1719.2,842.8 1722.4,842.6 1725.6,842.4 1728.8,842.2 1731.9,841.9 1735.1,841.6 1738.3,841.3 1741.4,841.0 1744.6,840.6 1747.8,840.2 1751.0,839.8 1754.1,839.4 1757.3,838.9 1760.5,838.5 1763.6,838.0 1766.8,837.4 1770.0,836.9 1773.2,836.3 1776.3,835.7 1779.5,835.1 1782.7,834.5 1785.8,833.8 1789.0,833.1 1792.2,832.4 1795.4,831.6 1798.5,830.8 1801.7,830.0 1804.9,829.2 1808.0,828.4 1811.2,827.5 1814.4,826.6 1817.6,825.7 1820.7,824.7 1823.9,823.8 1827.1,822.8 1830.2,821.7 1833.4,820.7 1836.6,819.6 1839.8,818.5 1842.9,817.3 1846.1,816.2 1849.3,815.0 1852.4,813.8 1855.6,812.5 1858.8,811.3 1858.8,827.2 1855.6,827.9 1852.4,828.5 1849.3,829.1 1846.1,829.7 1842.9,830.3 1839.8,830.9 1836.6,831.5 1833.4,832.1 1830.2,832.7 1827.1,833.3 1823.9,833.9 1820.7,834.5 1817.6,835.2 1814.4,835.8 1811.2,836.4 1808.0,837.0 1804.9,837.6 1801.7,838.3 1798.5,838.9 1795.4,839.5 1792.2,840.1 1789.0,840.8 1785.8,841.4 1782.7,842.1 1779.5,842.7 1776.3,843.3 1773.2,844.0 1770.0,844.6 1766.8,845.3 1763.6,846.0 1760.5,846.6 1757.3,847.3 1754.1,847.9 1751.0,848.6 1747.8,849.3 1744.6,850.0 1741.4,850.6 1738.3,851.3 1735.1,852.0 1731.9,852.7 1728.8,853.4 1725.6,854.1 1722.4,854.8 1719.2,855.5 1716.1,856.3 1712.9,857.0 1709.7,857.7 1706.6,858.4 1703.4,859.2 1700.2,859.9 1697.0,860.7 1693.9,861.4 1690.7,862.2 1687.5,863.0 1684.4,863.7 1681.2,864.5 1678.0,865.3 1674.8,866.1 1671.7,866.9 1668.5,867.7" fill="#8e4a9a" fill-opacity="0.20"/>
<polyline points="1668.5,895.2 1671.7,894.4 1674.8,893.6 1678.0,892.8 1681.2,891.9 1684.4,891.1 1687.5,890.2 1690.7,889.4 1693.9,888.5 1697.0,887.6 1700.2,886.7 1703.4,885.8 1706.6,884.9 1709.7,884.0 1712.9,883.1 1716.1,882.1 1719.2,881.2 1722.4,880.2 1725.6,879.3 1728.8,878.3 1731.9,877.3 1735.1,876.3 1738.3,875.3 1741.4,874.2 1744.6,873.2 1747.8,872.1 1751.0,871.1 1754.1,870.0 1757.3,868.9 1760.5,867.8 1763.6,866.7 1766.8,865.5 1770.0,864.4 1773.2,863.2 1776.3,862.0 1779.5,860.8 1782.7,859.6 1785.8,858.4 1789.0,857.1 1792.2,855.9 1795.4,854.6 1798.5,853.3 1801.7,852.0 1804.9,850.7 1808.0,849.3 1811.2,848.0 1814.4,846.6 1817.6,845.2 1820.7,843.8 1823.9,842.3 1827.1,840.9 1830.2,839.4 1833.4,837.9 1836.6,836.4 1839.8,834.9 1842.9,833.3 1846.1,831.8 1849.3,830.2 1852.4,828.6 1855.6,826.9 1858.8,825.3" fill="none" stroke="#2c8351" stroke-width="3.5" stroke-linejoin="round"/>
<polyline points="1668.5,855.3 1671.7,855.0 1674.8,854.6 1678.0,854.3 1681.2,853.9 1684.4,853.6 1687.5,853.2 1690.7,852.9 1693.9,852.5 1697.0,852.1 1700.2,851.7 1703.4,851.3 1706.6,850.9 1709.7,850.5 1712.9,850.1 1716.1,849.6 1719.2,849.2 1722.4,848.7 1725.6,848.3 1728.8,847.8 1731.9,847.3 1735.1,846.8 1738.3,846.3 1741.4,845.8 1744.6,845.3 1747.8,844.8 1751.0,844.2 1754.1,843.7 1757.3,843.1 1760.5,842.5 1763.6,842.0 1766.8,841.4 1770.0,840.8 1773.2,840.2 1776.3,839.5 1779.5,838.9 1782.7,838.3 1785.8,837.6 1789.0,836.9 1792.2,836.3 1795.4,835.6 1798.5,834.9 1801.7,834.2 1804.9,833.4 1808.0,832.7 1811.2,831.9 1814.4,831.2 1817.6,830.4 1820.7,829.6 1823.9,828.8 1827.1,828.0 1830.2,827.2 1833.4,826.4 1836.6,825.5 1839.8,824.7 1842.9,823.8 1846.1,822.9 1849.3,822.0 1852.4,821.1 1855.6,820.2 1858.8,819.3" fill="none" stroke="#76357c" stroke-width="3.5" stroke-linejoin="round"/>
<polygon points="1892.6,848.8 1895.8,848.5 1898.9,848.2 1902.1,847.9 1905.3,847.6 1908.5,847.3 1911.6,847.1 1914.8,846.8 1918.0,846.6 1921.1,846.3 1924.3,846.1 1927.5,845.8 1930.7,845.6 1933.8,845.4 1937.0,845.2 1940.2,845.0 1943.3,844.8 1946.5,844.6 1949.7,844.4 1952.9,844.2 1956.0,844.0 1959.2,843.9 1962.4,843.7 1965.5,843.5 1968.7,843.4 1971.9,843.2 1975.1,843.0 1978.2,842.9 1981.4,842.7 1984.6,842.6 1987.7,842.4 1990.9,842.3 1994.1,842.2 1997.3,842.0 2000.4,841.9 2003.6,841.7 2006.8,841.6 2009.9,841.4 2013.1,841.3 2016.3,841.2 2019.5,841.0 2022.6,840.9 2025.8,840.7 2029.0,840.6 2032.1,840.4 2035.3,840.3 2038.5,840.1 2041.7,840.0 2044.8,839.8 2048.0,839.6 2051.2,839.5 2054.3,839.3 2057.5,839.1 2060.7,839.0 2063.9,838.8 2067.0,838.6 2070.2,838.4 2073.4,838.2 2076.5,838.0 2079.7,837.8 2082.9,837.6 2082.9,850.8 2079.7,850.5 2076.5,850.3 2073.4,850.1 2070.2,849.9 2067.0,849.7 2063.9,849.5 2060.7,849.4 2057.5,849.2 2054.3,849.1 2051.2,849.0 2048.0,848.9 2044.8,848.9 2041.7,848.8 2038.5,848.8 2035.3,848.8 2032.1,848.8 2029.0,848.9 2025.8,848.9 2022.6,849.0 2019.5,849.1 2016.3,849.2 2013.1,849.3 2009.9,849.5 2006.8,849.7 2003.6,849.9 2000.4,850.1 1997.3,850.4 1994.1,850.6 1990.9,850.9 1987.7,851.2 1984.6,851.6 1981.4,851.9 1978.2,852.3 1975.1,852.7 1971.9,853.2 1968.7,853.6 1965.5,854.1 1962.4,854.6 1959.2,855.2 1956.0,855.7 1952.9,856.3 1949.7,856.9 1946.5,857.6 1943.3,858.2 1940.2,858.9 1937.0,859.6 1933.8,860.4 1930.7,861.2 1927.5,862.0 1924.3,862.8 1921.1,863.7 1918.0,864.6 1914.8,865.5 1911.6,866.4 1908.5,867.4 1905.3,868.4 1902.1,869.5 1898.9,870.5 1895.8,871.6 1892.6,872.8" fill="#55824b" fill-opacity="0.20"/>
<polygon points="1892.6,847.8 1895.8,847.6 1898.9,847.4 1902.1,847.1 1905.3,846.9 1908.5,846.6 1911.6,846.3 1914.8,846.0 1918.0,845.6 1921.1,845.3 1924.3,844.9 1927.5,844.6 1930.7,844.2 1933.8,843.8 1937.0,843.4 1940.2,843.0 1943.3,842.6 1946.5,842.2 1949.7,841.7 1952.9,841.3 1956.0,840.8 1959.2,840.4 1962.4,839.9 1965.5,839.4 1968.7,839.0 1971.9,838.5 1975.1,838.0 1978.2,837.5 1981.4,837.0 1984.6,836.5 1987.7,836.0 1990.9,835.5 1994.1,835.0 1997.3,834.6 2000.4,834.1 2003.6,833.6 2006.8,833.1 2009.9,832.6 2013.1,832.1 2016.3,831.6 2019.5,831.1 2022.6,830.6 2025.8,830.1 2029.0,829.7 2032.1,829.2 2035.3,828.7 2038.5,828.3 2041.7,827.8 2044.8,827.4 2048.0,827.0 2051.2,826.6 2054.3,826.1 2057.5,825.7 2060.7,825.3 2063.9,825.0 2067.0,824.6 2070.2,824.2 2073.4,823.9 2076.5,823.5 2079.7,823.2 2082.9,822.9 2082.9,837.7 2079.7,837.5 2076.5,837.2 2073.4,837.1 2070.2,836.9 2067.0,836.8 2063.9,836.8 2060.7,836.8 2057.5,836.8 2054.3,836.8 2051.2,836.9 2048.0,837.0 2044.8,837.2 2041.7,837.3 2038.5,837.5 2035.3,837.8 2032.1,838.1 2029.0,838.4 2025.8,838.7 2022.6,839.1 2019.5,839.4 2016.3,839.9 2013.1,840.3 2009.9,840.8 2006.8,841.3 2003.6,841.8 2000.4,842.4 1997.3,842.9 1994.1,843.6 1990.9,844.2 1987.7,844.8 1984.6,845.5 1981.4,846.2 1978.2,846.9 1975.1,847.7 1971.9,848.4 1968.7,849.2 1965.5,850.0 1962.4,850.8 1959.2,851.6 1956.0,852.5 1952.9,853.4 1949.7,854.3 1946.5,855.2 1943.3,856.1 1940.2,857.0 1937.0,858.0 1933.8,859.0 1930.7,859.9 1927.5,860.9 1924.3,861.9 1921.1,863.0 1918.0,864.0 1914.8,865.0 1911.6,866.1 1908.5,867.2 1905.3,868.2 1902.1,869.3 1898.9,870.4 1895.8,871.5 1892.6,872.6" fill="#8e4a9a" fill-opacity="0.20"/>
<polyline points="1892.6,860.8 1895.8,860.1 1898.9,859.4 1902.1,858.7 1905.3,858.0 1908.5,857.4 1911.6,856.8 1914.8,856.2 1918.0,855.6 1921.1,855.0 1924.3,854.4 1927.5,853.9 1930.7,853.4 1933.8,852.9 1937.0,852.4 1940.2,852.0 1943.3,851.5 1946.5,851.1 1949.7,850.7 1952.9,850.3 1956.0,849.9 1959.2,849.5 1962.4,849.2 1965.5,848.8 1968.7,848.5 1971.9,848.2 1975.1,847.9 1978.2,847.6 1981.4,847.3 1984.6,847.1 1987.7,846.8 1990.9,846.6 1994.1,846.4 1997.3,846.2 2000.4,846.0 2003.6,845.8 2006.8,845.6 2009.9,845.5 2013.1,845.3 2016.3,845.2 2019.5,845.0 2022.6,844.9 2025.8,844.8 2029.0,844.7 2032.1,844.6 2035.3,844.5 2038.5,844.5 2041.7,844.4 2044.8,844.3 2048.0,844.3 2051.2,844.2 2054.3,844.2 2057.5,844.2 2060.7,844.2 2063.9,844.1 2067.0,844.1 2070.2,844.1 2073.4,844.1 2076.5,844.1 2079.7,844.2 2082.9,844.2" fill="none" stroke="#2c8351" stroke-width="3.5" stroke-linejoin="round"/>
<polyline points="1892.6,860.2 1895.8,859.6 1898.9,858.9 1902.1,858.2 1905.3,857.6 1908.5,856.9 1911.6,856.2 1914.8,855.5 1918.0,854.8 1921.1,854.1 1924.3,853.4 1927.5,852.8 1930.7,852.1 1933.8,851.4 1937.0,850.7 1940.2,850.0 1943.3,849.3 1946.5,848.7 1949.7,848.0 1952.9,847.3 1956.0,846.7 1959.2,846.0 1962.4,845.4 1965.5,844.7 1968.7,844.1 1971.9,843.5 1975.1,842.8 1978.2,842.2 1981.4,841.6 1984.6,841.0 1987.7,840.4 1990.9,839.9 1994.1,839.3 1997.3,838.8 2000.4,838.2 2003.6,837.7 2006.8,837.2 2009.9,836.7 2013.1,836.2 2016.3,835.7 2019.5,835.3 2022.6,834.8 2025.8,834.4 2029.0,834.0 2032.1,833.6 2035.3,833.3 2038.5,832.9 2041.7,832.6 2044.8,832.3 2048.0,832.0 2051.2,831.7 2054.3,831.5 2057.5,831.3 2060.7,831.1 2063.9,830.9 2067.0,830.7 2070.2,830.6 2073.4,830.5 2076.5,830.4 2079.7,830.3 2082.9,830.3" fill="none" stroke="#76357c" stroke-width="3.5" stroke-linejoin="round"/>
<polygon points="99.8,1032.7 103.0,1033.0 106.1,1033.2 109.3,1033.4 112.5,1033.6 115.7,1033.7 118.8,1033.8 122.0,1033.9 125.2,1033.9 128.3,1033.8 131.5,1033.8 134.7,1033.7 137.9,1033.6 141.0,1033.4 144.2,1033.2 147.4,1033.0 150.5,1032.7 153.7,1032.4 156.9,1032.1 160.1,1031.7 163.2,1031.3 166.4,1030.9 169.6,1030.5 172.7,1030.0 175.9,1029.5 179.1,1029.0 182.3,1028.4 185.4,1027.9 188.6,1027.3 191.8,1026.6 194.9,1026.0 198.1,1025.3 201.3,1024.6 204.5,1023.9 207.6,1023.1 210.8,1022.4 214.0,1021.6 217.1,1020.8 220.3,1020.0 223.5,1019.1 226.7,1018.3 229.8,1017.4 233.0,1016.5 236.2,1015.6 239.3,1014.7 242.5,1013.8 245.7,1012.8 248.9,1011.8 252.0,1010.9 255.2,1009.9 258.4,1008.9 261.5,1007.9 264.7,1006.8 267.9,1005.8 271.1,1004.8 274.2,1003.7 277.4,1002.6 280.6,1001.6 283.7,1000.5 286.9,999.4 290.1,998.3 290.1,1019.1 286.9,1019.5 283.7,1019.9 280.6,1020.3 277.4,1020.7 274.2,1021.2 271.1,1021.6 267.9,1022.1 264.7,1022.6 261.5,1023.1 258.4,1023.7 255.2,1024.2 252.0,1024.7 248.9,1025.3 245.7,1025.9 242.5,1026.4 239.3,1027.0 236.2,1027.6 233.0,1028.2 229.8,1028.9 226.7,1029.5 223.5,1030.1 220.3,1030.7 217.1,1031.4 214.0,1032.0 210.8,1032.7 207.6,1033.3 204.5,1034.0 201.3,1034.6 198.1,1035.3 194.9,1036.0 191.8,1036.6 188.6,1037.3 185.4,1038.0 182.3,1038.6 179.1,1039.3 175.9,1039.9 172.7,1040.6 169.6,1041.2 166.4,1041.9 163.2,1042.5 160.1,1043.2 156.9,1043.8 153.7,1044.4 150.5,1045.0 147.4,1045.6 144.2,1046.3 141.0,1046.8 137.9,1047.4 134.7,1048.0 131.5,1048.6 128.3,1049.1 125.2,1049.7 122.0,1050.2 118.8,1050.7 115.7,1051.2 112.5,1051.7 109.3,1052.2 106.1,1052.6 103.0,1053.0 99.8,1053.5" fill="#55824b" fill-opacity="0.20"/>
<polygon points="99.8,1046.5 103.0,1046.6 106.1,1046.7 109.3,1046.7 112.5,1046.7 115.7,1046.6 118.8,1046.6 122.0,1046.4 125.2,1046.3 128.3,1046.1 131.5,1045.9 134.7,1045.6 137.9,1045.3 141.0,1044.9 144.2,1044.6 147.4,1044.2 150.5,1043.7 153.7,1043.2 156.9,1042.7 160.1,1042.2 163.2,1041.6 166.4,1041.0 169.6,1040.4 172.7,1039.7 175.9,1039.0 179.1,1038.3 182.3,1037.5 185.4,1036.7 188.6,1035.9 191.8,1035.0 194.9,1034.1 198.1,1033.2 201.3,1032.3 204.5,1031.3 207.6,1030.3 210.8,1029.3 214.0,1028.2 217.1,1027.1 220.3,1026.0 223.5,1024.9 226.7,1023.7 229.8,1022.5 233.0,1021.3 236.2,1020.0 239.3,1018.8 242.5,1017.5 245.7,1016.2 248.9,1014.8 252.0,1013.5 255.2,1012.1 258.4,1010.7 261.5,1009.2 264.7,1007.8 267.9,1006.3 271.1,1004.8 274.2,1003.3 277.4,1001.7 280.6,1000.2 283.7,998.6 286.9,997.0 290.1,995.4 290.1,1020.1 286.9,1020.9 283.7,1021.6 280.6,1022.4 277.4,1023.1 274.2,1023.9 271.1,1024.7 267.9,1025.5 264.7,1026.2 261.5,1027.0 258.4,1027.8 255.2,1028.6 252.0,1029.4 248.9,1030.2 245.7,1031.0 242.5,1031.9 239.3,1032.7 236.2,1033.5 233.0,1034.3 229.8,1035.1 226.7,1035.9 223.5,1036.8 220.3,1037.6 217.1,1038.4 214.0,1039.2 210.8,1040.0 207.6,1040.9 204.5,1041.7 201.3,1042.5 198.1,1043.3 194.9,1044.1 191.8,1044.9 188.6,1045.7 185.4,1046.5 182.3,1047.3 179.1,1048.1 175.9,1048.9 172.7,1049.7 169.6,1050.5 166.4,1051.2 163.2,1052.0 160.1,1052.8 156.9,1053.5 153.7,1054.3 150.5,1055.0 147.4,1055.7 144.2,1056.5 141.0,1057.2 137.9,1057.9 134.7,1058.6 131.5,1059.3 128.3,1060.0 125.2,1060.7 122.0,1061.3 118.8,1062.0 115.7,1062.6 112.5,1063.2 109.3,1063.9 106.1,1064.5 103.0,1065.1 99.8,1065.7" fill="#8e4a9a" fill-opacity="0.20"/>
<polyline points="99.8,1043.1 103.0,1043.0 106.1,1042.9 109.3,1042.8 112.5,1042.6 115.7,1042.5 118.8,1042.3 122.0,1042.0 125.2,1041.8 128.3,1041.5 131.5,1041.2 134.7,1040.8 137.9,1040.5 141.0,1040.1 144.2,1039.7 147.4,1039.3 150.5,1038.9 153.7,1038.4 156.9,1037.9 160.1,1037.4 163.2,1036.9 166.4,1036.4 169.6,1035.9 172.7,1035.3 175.9,1034.7 179.1,1034.1 182.3,1033.5 185.4,1032.9 188.6,1032.3 191.8,1031.6 194.9,1031.0 198.1,1030.3 201.3,1029.6 204.5,1028.9 207.6,1028.2 210.8,1027.5 214.0,1026.8 217.1,1026.1 220.3,1025.4 223.5,1024.6 226.7,1023.9 229.8,1023.1 233.0,1022.4 236.2,1021.6 239.3,1020.9 242.5,1020.1 245.7,1019.3 248.9,1018.6 252.0,1017.8 255.2,1017.0 258.4,1016.3 261.5,1015.5 264.7,1014.7 267.9,1014.0 271.1,1013.2 274.2,1012.4 277.4,1011.7 280.6,1010.9 283.7,1010.2 286.9,1009.5 290.1,1008.7" fill="none" stroke="#2c8351" stroke-width="3.5" stroke-linejoin="round"/>
<polyline points="99.8,1056.1 103.0,1055.8 106.1,1055.6 109.3,1055.3 112.5,1055.0 115.7,1054.6 118.8,1054.3 122.0,1053.9 125.2,1053.5 128.3,1053.0 131.5,1052.6 134.7,1052.1 137.9,1051.6 141.0,1051.1 144.2,1050.5 147.4,1050.0 150.5,1049.4 153.7,1048.8 156.9,1048.1 160.1,1047.5 163.2,1046.8 166.4,1046.1 169.6,1045.4 172.7,1044.7 175.9,1043.9 179.1,1043.2 182.3,1042.4 185.4,1041.6 188.6,1040.8 191.8,1040.0 194.9,1039.1 198.1,1038.3 201.3,1037.4 204.5,1036.5 207.6,1035.6 210.8,1034.6 214.0,1033.7 217.1,1032.8 220.3,1031.8 223.5,1030.8 226.7,1029.8 229.8,1028.8 233.0,1027.8 236.2,1026.8 239.3,1025.7 242.5,1024.7 245.7,1023.6 248.9,1022.5 252.0,1021.4 255.2,1020.3 258.4,1019.2 261.5,1018.1 264.7,1017.0 267.9,1015.9 271.1,1014.7 274.2,1013.6 277.4,1012.4 280.6,1011.3 283.7,1010.1 286.9,1008.9 290.1,1007.7" fill="none" stroke="#76357c" stroke-width="3.5" stroke-linejoin="round"/>
<polygon points="323.9,1058.8 327.1,1058.2 330.2,1057.6 333.4,1057.0 336.6,1056.4 339.8,1055.8 342.9,1055.2 346.1,1054.6 349.3,1054.0 352.4,1053.3 355.6,1052.7 358.8,1052.0 362.0,1051.4 365.1,1050.7 368.3,1050.1 371.5,1049.4 374.6,1048.7 377.8,1048.0 381.0,1047.4 384.2,1046.7 387.3,1046.0 390.5,1045.3 393.7,1044.6 396.8,1043.9 400.0,1043.2 403.2,1042.5 406.4,1041.9 409.5,1041.2 412.7,1040.5 415.9,1039.8 419.0,1039.1 422.2,1038.4 425.4,1037.8 428.6,1037.1 431.7,1036.4 434.9,1035.8 438.1,1035.1 441.2,1034.4 444.4,1033.8 447.6,1033.1 450.8,1032.5 453.9,1031.9 457.1,1031.3 460.3,1030.6 463.4,1030.0 466.6,1029.4 469.8,1028.8 473.0,1028.3 476.1,1027.7 479.3,1027.1 482.5,1026.6 485.6,1026.1 488.8,1025.5 492.0,1025.0 495.2,1024.5 498.3,1024.0 501.5,1023.6 504.7,1023.1 507.8,1022.7 511.0,1022.2 514.2,1021.8 514.2,1038.6 511.0,1038.4 507.8,1038.2 504.7,1038.0 501.5,1037.9 498.3,1037.9 495.2,1037.8 492.0,1037.9 488.8,1037.9 485.6,1038.0 482.5,1038.1 479.3,1038.3 476.1,1038.5 473.0,1038.7 469.8,1039.0 466.6,1039.3 463.4,1039.7 460.3,1040.0 457.1,1040.5 453.9,1040.9 450.8,1041.4 447.6,1041.9 444.4,1042.4 441.2,1043.0 438.1,1043.6 434.9,1044.3 431.7,1044.9 428.6,1045.6 425.4,1046.4 422.2,1047.1 419.0,1047.9 415.9,1048.7 412.7,1049.6 409.5,1050.4 406.4,1051.3 403.2,1052.3 400.0,1053.2 396.8,1054.2 393.7,1055.2 390.5,1056.2 387.3,1057.3 384.2,1058.3 381.0,1059.4 377.8,1060.6 374.6,1061.7 371.5,1062.9 368.3,1064.1 365.1,1065.3 362.0,1066.5 358.8,1067.7 355.6,1069.0 352.4,1070.3 349.3,1071.6 346.1,1072.9 342.9,1074.3 339.8,1075.7 336.6,1077.0 333.4,1078.4 330.2,1079.9 327.1,1081.3 323.9,1082.7" fill="#55824b" fill-opacity="0.20"/>
<polygon points="323.9,1042.8 327.1,1042.2 330.2,1041.6 333.4,1040.9 336.6,1040.3 339.8,1039.6 342.9,1039.0 346.1,1038.3 349.3,1037.6 352.4,1036.9 355.6,1036.2 358.8,1035.4 362.0,1034.7 365.1,1034.0 368.3,1033.2 371.5,1032.5 374.6,1031.7 377.8,1031.0 381.0,1030.2 384.2,1029.4 387.3,1028.7 390.5,1027.9 393.7,1027.1 396.8,1026.4 400.0,1025.6 403.2,1024.9 406.4,1024.1 409.5,1023.3 412.7,1022.6 415.9,1021.8 419.0,1021.1 422.2,1020.4 425.4,1019.7 428.6,1018.9 431.7,1018.2 434.9,1017.5 438.1,1016.9 441.2,1016.2 444.4,1015.5 447.6,1014.9 450.8,1014.3 453.9,1013.6 457.1,1013.0 460.3,1012.5 463.4,1011.9 466.6,1011.4 469.8,1010.8 473.0,1010.3 476.1,1009.8 479.3,1009.4 482.5,1008.9 485.6,1008.5 488.8,1008.1 492.0,1007.7 495.2,1007.4 498.3,1007.1 501.5,1006.8 504.7,1006.5 507.8,1006.3 511.0,1006.1 514.2,1005.9 514.2,1021.1 511.0,1020.7 507.8,1020.3 504.7,1020.0 501.5,1019.8 498.3,1019.6 495.2,1019.4 492.0,1019.3 488.8,1019.3 485.6,1019.3 482.5,1019.4 479.3,1019.5 476.1,1019.6 473.0,1019.8 469.8,1020.0 466.6,1020.3 463.4,1020.6 460.3,1021.0 457.1,1021.4 453.9,1021.8 450.8,1022.3 447.6,1022.8 444.4,1023.4 441.2,1024.0 438.1,1024.6 434.9,1025.3 431.7,1026.0 428.6,1026.7 425.4,1027.5 422.2,1028.3 419.0,1029.1 415.9,1030.0 412.7,1030.9 409.5,1031.8 406.4,1032.7 403.2,1033.7 400.0,1034.7 396.8,1035.7 393.7,1036.8 390.5,1037.9 387.3,1039.0 384.2,1040.1 381.0,1041.2 377.8,1042.4 374.6,1043.6 371.5,1044.8 368.3,1046.0 365.1,1047.3 362.0,1048.5 358.8,1049.8 355.6,1051.1 352.4,1052.4 349.3,1053.8 346.1,1055.1 342.9,1056.4 339.8,1057.8 336.6,1059.2 333.4,1060.5 330.2,1061.9 327.1,1063.3 323.9,1064.7" fill="#8e4a9a" fill-opacity="0.20"/>
<polyline points="323.9,1070.8 327.1,1069.8 330.2,1068.7 333.4,1067.7 336.6,1066.7 339.8,1065.7 342.9,1064.8 346.1,1063.8 349.3,1062.8 352.4,1061.8 355.6,1060.9 358.8,1059.9 362.0,1058.9 365.1,1058.0 368.3,1057.1 371.5,1056.1 374.6,1055.2 377.8,1054.3 381.0,1053.4 384.2,1052.5 387.3,1051.6 390.5,1050.8 393.7,1049.9 396.8,1049.0 400.0,1048.2 403.2,1047.4 406.4,1046.6 409.5,1045.8 412.7,1045.0 415.9,1044.3 419.0,1043.5 422.2,1042.8 425.4,1042.1 428.6,1041.4 431.7,1040.7 434.9,1040.0 438.1,1039.4 441.2,1038.7 444.4,1038.1 447.6,1037.5 450.8,1036.9 453.9,1036.4 457.1,1035.9 460.3,1035.3 463.4,1034.9 466.6,1034.4 469.8,1033.9 473.0,1033.5 476.1,1033.1 479.3,1032.7 482.5,1032.4 485.6,1032.0 488.8,1031.7 492.0,1031.4 495.2,1031.2 498.3,1031.0 501.5,1030.8 504.7,1030.6 507.8,1030.4 511.0,1030.3 514.2,1030.2" fill="none" stroke="#2c8351" stroke-width="3.5" stroke-linejoin="round"/>
<polyline points="323.9,1053.8 327.1,1052.7 330.2,1051.7 333.4,1050.7 336.6,1049.7 339.8,1048.7 342.9,1047.7 346.1,1046.7 349.3,1045.7 352.4,1044.7 355.6,1043.6 358.8,1042.6 362.0,1041.6 365.1,1040.6 368.3,1039.6 371.5,1038.6 374.6,1037.7 377.8,1036.7 381.0,1035.7 384.2,1034.8 387.3,1033.8 390.5,1032.9 393.7,1032.0 396.8,1031.1 400.0,1030.2 403.2,1029.3 406.4,1028.4 409.5,1027.6 412.7,1026.7 415.9,1025.9 419.0,1025.1 422.2,1024.3 425.4,1023.6 428.6,1022.8 431.7,1022.1 434.9,1021.4 438.1,1020.7 441.2,1020.1 444.4,1019.5 447.6,1018.9 450.8,1018.3 453.9,1017.7 457.1,1017.2 460.3,1016.7 463.4,1016.3 466.6,1015.8 469.8,1015.4 473.0,1015.1 476.1,1014.7 479.3,1014.4 482.5,1014.1 485.6,1013.9 488.8,1013.7 492.0,1013.5 495.2,1013.4 498.3,1013.3 501.5,1013.3 504.7,1013.3 507.8,1013.3 511.0,1013.4 514.2,1013.5" fill="none" stroke="#76357c" stroke-width="3.5" stroke-linejoin="round"/>
<polygon points="548.0,1116.0 551.2,1115.1 554.3,1114.2 557.5,1113.3 560.7,1112.5 563.9,1111.6 567.0,1110.7 570.2,1109.9 573.4,1109.0 576.5,1108.2 579.7,1107.4 582.9,1106.6 586.1,1105.7 589.2,1104.9 592.4,1104.1 595.6,1103.3 598.7,1102.5 601.9,1101.7 605.1,1100.9 608.3,1100.1 611.4,1099.3 614.6,1098.5 617.8,1097.7 620.9,1096.9 624.1,1096.1 627.3,1095.3 630.5,1094.5 633.6,1093.6 636.8,1092.8 640.0,1092.0 643.1,1091.1 646.3,1090.2 649.5,1089.4 652.7,1088.5 655.8,1087.6 659.0,1086.7 662.2,1085.8 665.3,1084.9 668.5,1083.9 671.7,1083.0 674.9,1082.0 678.0,1081.0 681.2,1080.0 684.4,1078.9 687.5,1077.9 690.7,1076.8 693.9,1075.7 697.1,1074.6 700.2,1073.5 703.4,1072.3 706.6,1071.2 709.7,1070.0 712.9,1068.7 716.1,1067.5 719.3,1066.2 722.4,1064.9 725.6,1063.5 728.8,1062.2 731.9,1060.8 735.1,1059.3 738.3,1057.9 738.3,1077.9 735.1,1078.8 731.9,1079.6 728.8,1080.5 725.6,1081.3 722.4,1082.2 719.3,1083.0 716.1,1083.8 712.9,1084.6 709.7,1085.4 706.6,1086.2 703.4,1086.9 700.2,1087.7 697.1,1088.4 693.9,1089.2 690.7,1089.9 687.5,1090.6 684.4,1091.4 681.2,1092.1 678.0,1092.8 674.9,1093.5 671.7,1094.2 668.5,1094.9 665.3,1095.7 662.2,1096.4 659.0,1097.1 655.8,1097.8 652.7,1098.5 649.5,1099.2 646.3,1100.0 643.1,1100.7 640.0,1101.4 636.8,1102.2 633.6,1102.9 630.5,1103.7 627.3,1104.5 624.1,1105.2 620.9,1106.0 617.8,1106.8 614.6,1107.6 611.4,1108.5 608.3,1109.3 605.1,1110.2 601.9,1111.0 598.7,1111.9 595.6,1112.8 592.4,1113.7 589.2,1114.7 586.1,1115.6 582.9,1116.6 579.7,1117.6 576.5,1118.6 573.4,1119.6 570.2,1120.7 567.0,1121.8 563.9,1122.9 560.7,1124.0 557.5,1125.2 554.3,1126.4 551.2,1127.6 548.0,1128.8" fill="#55824b" fill-opacity="0.20"/>
<polygon points="548.0,1102.8 551.2,1101.9 554.3,1101.1 557.5,1100.3 560.7,1099.5 563.9,1098.7 567.0,1097.9 570.2,1097.1 573.4,1096.2 576.5,1095.4 579.7,1094.6 582.9,1093.8 586.1,1093.0 589.2,1092.2 592.4,1091.3 595.6,1090.5 598.7,1089.7 601.9,1088.8 605.1,1088.0 608.3,1087.1 611.4,1086.2 614.6,1085.4 617.8,1084.5 620.9,1083.6 624.1,1082.7 627.3,1081.7 630.5,1080.8 633.6,1079.9 636.8,1078.9 640.0,1077.9 643.1,1076.9 646.3,1075.9 649.5,1074.9 652.7,1073.9 655.8,1072.8 659.0,1071.7 662.2,1070.6 665.3,1069.5 668.5,1068.4 671.7,1067.2 674.9,1066.0 678.0,1064.8 681.2,1063.6 684.4,1062.4 687.5,1061.1 690.7,1059.8 693.9,1058.5 697.1,1057.1 700.2,1055.8 703.4,1054.3 706.6,1052.9 709.7,1051.5 712.9,1050.0 716.1,1048.4 719.3,1046.9 722.4,1045.3 725.6,1043.7 728.8,1042.0 731.9,1040.3 735.1,1038.6 738.3,1036.9 738.3,1058.0 735.1,1059.2 731.9,1060.3 728.8,1061.4 725.6,1062.4 722.4,1063.5 719.3,1064.5 716.1,1065.5 712.9,1066.6 709.7,1067.6 706.6,1068.5 703.4,1069.5 700.2,1070.5 697.1,1071.4 693.9,1072.4 690.7,1073.3 687.5,1074.2 684.4,1075.1 681.2,1076.0 678.0,1076.9 674.9,1077.8 671.7,1078.7 668.5,1079.6 665.3,1080.4 662.2,1081.3 659.0,1082.2 655.8,1083.1 652.7,1083.9 649.5,1084.8 646.3,1085.6 643.1,1086.5 640.0,1087.4 636.8,1088.2 633.6,1089.1 630.5,1090.0 627.3,1090.9 624.1,1091.7 620.9,1092.6 617.8,1093.5 614.6,1094.4 611.4,1095.3 608.3,1096.2 605.1,1097.2 601.9,1098.1 598.7,1099.0 595.6,1100.0 592.4,1100.9 589.2,1101.9 586.1,1102.9 582.9,1103.9 579.7,1104.9 576.5,1105.9 573.4,1107.0 570.2,1108.0 567.0,1109.1 563.9,1110.2 560.7,1111.3 557.5,1112.4 554.3,1113.6 551.2,1114.8 548.0,1115.9" fill="#8e4a9a" fill-opacity="0.20"/>
<polyline points="548.0,1122.4 551.2,1121.4 554.3,1120.3 557.5,1119.3 560.7,1118.2 563.9,1117.2 567.0,1116.3 570.2,1115.3 573.4,1114.3 576.5,1113.4 579.7,1112.5 582.9,1111.6 586.1,1110.7 589.2,1109.8 592.4,1108.9 595.6,1108.1 598.7,1107.2 601.9,1106.4 605.1,1105.5 608.3,1104.7 611.4,1103.9 614.6,1103.1 617.8,1102.3 620.9,1101.5 624.1,1100.7 627.3,1099.9 630.5,1099.1 633.6,1098.3 636.8,1097.5 640.0,1096.7 643.1,1095.9 646.3,1095.1 649.5,1094.3 652.7,1093.5 655.8,1092.7 659.0,1091.9 662.2,1091.1 665.3,1090.3 668.5,1089.4 671.7,1088.6 674.9,1087.7 678.0,1086.9 681.2,1086.0 684.4,1085.2 687.5,1084.3 690.7,1083.4 693.9,1082.5 697.1,1081.5 700.2,1080.6 703.4,1079.6 706.6,1078.7 709.7,1077.7 712.9,1076.7 716.1,1075.6 719.3,1074.6 722.4,1073.5 725.6,1072.4 728.8,1071.3 731.9,1070.2 735.1,1069.1 738.3,1067.9" fill="none" stroke="#2c8351" stroke-width="3.5" stroke-linejoin="round"/>
<polyline points="548.0,1109.3 551.2,1108.3 554.3,1107.4 557.5,1106.4 560.7,1105.4 563.9,1104.4 567.0,1103.5 570.2,1102.5 573.4,1101.6 576.5,1100.7 579.7,1099.8 582.9,1098.9 586.1,1097.9 589.2,1097.0 592.4,1096.1 595.6,1095.2 598.7,1094.3 601.9,1093.5 605.1,1092.6 608.3,1091.7 611.4,1090.8 614.6,1089.9 617.8,1089.0 620.9,1088.1 624.1,1087.2 627.3,1086.3 630.5,1085.4 633.6,1084.5 636.8,1083.6 640.0,1082.6 643.1,1081.7 646.3,1080.8 649.5,1079.8 652.7,1078.9 655.8,1077.9 659.0,1077.0 662.2,1076.0 665.3,1075.0 668.5,1074.0 671.7,1073.0 674.9,1071.9 678.0,1070.9 681.2,1069.8 684.4,1068.7 687.5,1067.7 690.7,1066.5 693.9,1065.4 697.1,1064.3 700.2,1063.1 703.4,1061.9 706.6,1060.7 709.7,1059.5 712.9,1058.3 716.1,1057.0 719.3,1055.7 722.4,1054.4 725.6,1053.1 728.8,1051.7 731.9,1050.3 735.1,1048.9 738.3,1047.5" fill="none" stroke="#76357c" stroke-width="3.5" stroke-linejoin="round"/>
<polygon points="772.1,1085.6 775.3,1085.4 778.4,1085.1 781.6,1084.8 784.8,1084.5 788.0,1084.2 791.1,1083.9 794.3,1083.6 797.5,1083.3 800.6,1082.9 803.8,1082.6 807.0,1082.2 810.2,1081.9 813.3,1081.5 816.5,1081.1 819.7,1080.7 822.8,1080.3 826.0,1079.9 829.2,1079.5 832.4,1079.1 835.5,1078.6 838.7,1078.1 841.9,1077.7 845.0,1077.2 848.2,1076.7 851.4,1076.2 854.6,1075.7 857.7,1075.1 860.9,1074.6 864.1,1074.0 867.2,1073.5 870.4,1072.9 873.6,1072.3 876.8,1071.6 879.9,1071.0 883.1,1070.4 886.3,1069.7 889.4,1069.0 892.6,1068.3 895.8,1067.6 899.0,1066.9 902.1,1066.1 905.3,1065.4 908.5,1064.6 911.6,1063.8 914.8,1063.0 918.0,1062.1 921.2,1061.3 924.3,1060.4 927.5,1059.5 930.7,1058.6 933.8,1057.6 937.0,1056.7 940.2,1055.7 943.4,1054.7 946.5,1053.7 949.7,1052.7 952.9,1051.6 956.0,1050.5 959.2,1049.4 962.4,1048.3 962.4,1062.3 959.2,1062.8 956.0,1063.4 952.9,1063.9 949.7,1064.4 946.5,1065.0 943.4,1065.5 940.2,1066.0 937.0,1066.5 933.8,1067.1 930.7,1067.6 927.5,1068.1 924.3,1068.6 921.2,1069.1 918.0,1069.7 914.8,1070.2 911.6,1070.7 908.5,1071.2 905.3,1071.8 902.1,1072.3 899.0,1072.8 895.8,1073.3 892.6,1073.9 889.4,1074.4 886.3,1075.0 883.1,1075.5 879.9,1076.0 876.8,1076.6 873.6,1077.1 870.4,1077.7 867.2,1078.2 864.1,1078.8 860.9,1079.4 857.7,1080.0 854.6,1080.5 851.4,1081.1 848.2,1081.7 845.0,1082.3 841.9,1082.9 838.7,1083.5 835.5,1084.2 832.4,1084.8 829.2,1085.4 826.0,1086.1 822.8,1086.7 819.7,1087.4 816.5,1088.0 813.3,1088.7 810.2,1089.4 807.0,1090.1 803.8,1090.8 800.6,1091.5 797.5,1092.2 794.3,1093.0 791.1,1093.7 788.0,1094.5 784.8,1095.2 781.6,1096.0 778.4,1096.8 775.3,1097.6 772.1,1098.4" fill="#55824b" fill-opacity="0.20"/>
<polygon points="772.1,1086.5 775.3,1086.1 778.4,1085.7 781.6,1085.3 784.8,1084.9 788.0,1084.5 791.1,1084.1 794.3,1083.8 797.5,1083.4 800.6,1083.0 803.8,1082.7 807.0,1082.3 810.2,1081.9 813.3,1081.6 816.5,1081.2 819.7,1080.9 822.8,1080.5 826.0,1080.1 829.2,1079.8 832.4,1079.4 835.5,1079.1 838.7,1078.7 841.9,1078.3 845.0,1077.9 848.2,1077.5 851.4,1077.2 854.6,1076.8 857.7,1076.4 860.9,1076.0 864.1,1075.5 867.2,1075.1 870.4,1074.7 873.6,1074.3 876.8,1073.8 879.9,1073.3 883.1,1072.9 886.3,1072.4 889.4,1071.9 892.6,1071.4 895.8,1070.9 899.0,1070.4 902.1,1069.8 905.3,1069.3 908.5,1068.7 911.6,1068.1 914.8,1067.5 918.0,1066.9 921.2,1066.3 924.3,1065.7 927.5,1065.0 930.7,1064.3 933.8,1063.6 937.0,1062.9 940.2,1062.2 943.4,1061.4 946.5,1060.7 949.7,1059.9 952.9,1059.0 956.0,1058.2 959.2,1057.3 962.4,1056.5 962.4,1070.4 959.2,1070.7 956.0,1071.0 952.9,1071.3 949.7,1071.5 946.5,1071.8 943.4,1072.1 940.2,1072.4 937.0,1072.6 933.8,1072.9 930.7,1073.2 927.5,1073.5 924.3,1073.8 921.2,1074.1 918.0,1074.3 914.8,1074.6 911.6,1074.9 908.5,1075.2 905.3,1075.6 902.1,1075.9 899.0,1076.2 895.8,1076.5 892.6,1076.9 889.4,1077.2 886.3,1077.6 883.1,1077.9 879.9,1078.3 876.8,1078.7 873.6,1079.1 870.4,1079.5 867.2,1079.9 864.1,1080.3 860.9,1080.8 857.7,1081.2 854.6,1081.7 851.4,1082.2 848.2,1082.7 845.0,1083.2 841.9,1083.8 838.7,1084.3 835.5,1084.9 832.4,1085.4 829.2,1086.0 826.0,1086.7 822.8,1087.3 819.7,1088.0 816.5,1088.6 813.3,1089.3 810.2,1090.0 807.0,1090.8 803.8,1091.5 800.6,1092.3 797.5,1093.1 794.3,1094.0 791.1,1094.8 788.0,1095.7 784.8,1096.6 781.6,1097.5 778.4,1098.5 775.3,1099.5 772.1,1100.5" fill="#8e4a9a" fill-opacity="0.20"/>
<polyline points="772.1,1092.0 775.3,1091.5 778.4,1091.0 781.6,1090.4 784.8,1089.9 788.0,1089.3 791.1,1088.8 794.3,1088.3 797.5,1087.7 800.6,1087.2 803.8,1086.7 807.0,1086.2 810.2,1085.6 813.3,1085.1 816.5,1084.6 819.7,1084.0 822.8,1083.5 826.0,1083.0 829.2,1082.4 832.4,1081.9 835.5,1081.4 838.7,1080.8 841.9,1080.3 845.0,1079.8 848.2,1079.2 851.4,1078.7 854.6,1078.1 857.7,1077.5 860.9,1077.0 864.1,1076.4 867.2,1075.9 870.4,1075.3 873.6,1074.7 876.8,1074.1 879.9,1073.5 883.1,1072.9 886.3,1072.3 889.4,1071.7 892.6,1071.1 895.8,1070.5 899.0,1069.8 902.1,1069.2 905.3,1068.6 908.5,1067.9 911.6,1067.2 914.8,1066.6 918.0,1065.9 921.2,1065.2 924.3,1064.5 927.5,1063.8 930.7,1063.1 933.8,1062.4 937.0,1061.6 940.2,1060.9 943.4,1060.1 946.5,1059.3 949.7,1058.6 952.9,1057.8 956.0,1057.0 959.2,1056.1 962.4,1055.3" fill="none" stroke="#2c8351" stroke-width="3.5" stroke-linejoin="round"/>
<polyline points="772.1,1093.5 775.3,1092.8 778.4,1092.1 781.6,1091.4 784.8,1090.7 788.0,1090.1 791.1,1089.5 794.3,1088.9 797.5,1088.3 800.6,1087.7 803.8,1087.1 807.0,1086.5 810.2,1086.0 813.3,1085.5 816.5,1084.9 819.7,1084.4 822.8,1083.9 826.0,1083.4 829.2,1082.9 832.4,1082.4 835.5,1082.0 838.7,1081.5 841.9,1081.0 845.0,1080.6 848.2,1080.1 851.4,1079.7 854.6,1079.2 857.7,1078.8 860.9,1078.4 864.1,1077.9 867.2,1077.5 870.4,1077.1 873.6,1076.7 876.8,1076.2 879.9,1075.8 883.1,1075.4 886.3,1075.0 889.4,1074.6 892.6,1074.1 895.8,1073.7 899.0,1073.3 902.1,1072.9 905.3,1072.4 908.5,1072.0 911.6,1071.5 914.8,1071.1 918.0,1070.6 921.2,1070.2 924.3,1069.7 927.5,1069.2 930.7,1068.8 933.8,1068.3 937.0,1067.8 940.2,1067.3 943.4,1066.8 946.5,1066.2 949.7,1065.7 952.9,1065.2 956.0,1064.6 959.2,1064.0 962.4,1063.5" fill="none" stroke="#76357c" stroke-width="3.5" stroke-linejoin="round"/>
<polygon points="996.2,1019.0 999.4,1018.3 1002.5,1017.7 1005.7,1017.1 1008.9,1016.4 1012.1,1015.8 1015.2,1015.1 1018.4,1014.5 1021.6,1013.8 1024.7,1013.1 1027.9,1012.5 1031.1,1011.8 1034.3,1011.1 1037.4,1010.4 1040.6,1009.7 1043.8,1009.0 1046.9,1008.3 1050.1,1007.6 1053.3,1006.9 1056.5,1006.2 1059.6,1005.5 1062.8,1004.8 1066.0,1004.0 1069.1,1003.3 1072.3,1002.6 1075.5,1001.8 1078.7,1001.1 1081.8,1000.3 1085.0,999.6 1088.2,998.8 1091.3,998.1 1094.5,997.3 1097.7,996.6 1100.9,995.8 1104.0,995.0 1107.2,994.2 1110.4,993.5 1113.5,992.7 1116.7,991.9 1119.9,991.1 1123.1,990.3 1126.2,989.5 1129.4,988.7 1132.6,987.9 1135.7,987.1 1138.9,986.3 1142.1,985.5 1145.3,984.7 1148.4,983.9 1151.6,983.1 1154.8,982.3 1157.9,981.5 1161.1,980.7 1164.3,979.8 1167.5,979.0 1170.6,978.2 1173.8,977.4 1177.0,976.5 1180.1,975.7 1183.3,974.9 1186.5,974.0 1186.5,989.2 1183.3,989.5 1180.1,989.9 1177.0,990.2 1173.8,990.6 1170.6,990.9 1167.5,991.3 1164.3,991.8 1161.1,992.2 1157.9,992.6 1154.8,993.1 1151.6,993.5 1148.4,994.0 1145.3,994.5 1142.1,995.0 1138.9,995.6 1135.7,996.1 1132.6,996.7 1129.4,997.3 1126.2,997.8 1123.1,998.4 1119.9,999.1 1116.7,999.7 1113.5,1000.3 1110.4,1001.0 1107.2,1001.7 1104.0,1002.4 1100.9,1003.1 1097.7,1003.8 1094.5,1004.5 1091.3,1005.3 1088.2,1006.0 1085.0,1006.8 1081.8,1007.6 1078.7,1008.4 1075.5,1009.2 1072.3,1010.0 1069.1,1010.9 1066.0,1011.7 1062.8,1012.6 1059.6,1013.5 1056.5,1014.4 1053.3,1015.3 1050.1,1016.2 1046.9,1017.1 1043.8,1018.1 1040.6,1019.0 1037.4,1020.0 1034.3,1021.0 1031.1,1022.0 1027.9,1023.0 1024.7,1024.0 1021.6,1025.0 1018.4,1026.1 1015.2,1027.1 1012.1,1028.2 1008.9,1029.3 1005.7,1030.4 1002.5,1031.5 999.4,1032.6 996.2,1033.7" fill="#55824b" fill-opacity="0.20"/>
<polygon points="996.2,1032.2 999.4,1031.5 1002.5,1030.7 1005.7,1029.9 1008.9,1029.1 1012.1,1028.4 1015.2,1027.6 1018.4,1026.8 1021.6,1026.1 1024.7,1025.3 1027.9,1024.5 1031.1,1023.8 1034.3,1023.0 1037.4,1022.2 1040.6,1021.5 1043.8,1020.7 1046.9,1020.0 1050.1,1019.2 1053.3,1018.5 1056.5,1017.7 1059.6,1017.0 1062.8,1016.3 1066.0,1015.5 1069.1,1014.8 1072.3,1014.0 1075.5,1013.3 1078.7,1012.6 1081.8,1011.9 1085.0,1011.1 1088.2,1010.4 1091.3,1009.7 1094.5,1009.0 1097.7,1008.2 1100.9,1007.5 1104.0,1006.8 1107.2,1006.1 1110.4,1005.4 1113.5,1004.7 1116.7,1003.9 1119.9,1003.2 1123.1,1002.5 1126.2,1001.8 1129.4,1001.1 1132.6,1000.4 1135.7,999.6 1138.9,998.9 1142.1,998.2 1145.3,997.5 1148.4,996.7 1151.6,996.0 1154.8,995.3 1157.9,994.5 1161.1,993.8 1164.3,993.0 1167.5,992.3 1170.6,991.5 1173.8,990.8 1177.0,990.0 1180.1,989.3 1183.3,988.5 1186.5,987.7 1186.5,999.7 1183.3,1000.1 1180.1,1000.6 1177.0,1001.1 1173.8,1001.5 1170.6,1002.0 1167.5,1002.5 1164.3,1003.0 1161.1,1003.5 1157.9,1004.0 1154.8,1004.5 1151.6,1005.0 1148.4,1005.6 1145.3,1006.1 1142.1,1006.6 1138.9,1007.2 1135.7,1007.8 1132.6,1008.3 1129.4,1008.9 1126.2,1009.5 1123.1,1010.1 1119.9,1010.8 1116.7,1011.4 1113.5,1012.0 1110.4,1012.7 1107.2,1013.3 1104.0,1014.0 1100.9,1014.7 1097.7,1015.4 1094.5,1016.1 1091.3,1016.9 1088.2,1017.6 1085.0,1018.4 1081.8,1019.1 1078.7,1019.9 1075.5,1020.7 1072.3,1021.5 1069.1,1022.3 1066.0,1023.2 1062.8,1024.0 1059.6,1024.9 1056.5,1025.8 1053.3,1026.7 1050.1,1027.6 1046.9,1028.5 1043.8,1029.4 1040.6,1030.4 1037.4,1031.3 1034.3,1032.3 1031.1,1033.3 1027.9,1034.3 1024.7,1035.3 1021.6,1036.3 1018.4,1037.4 1015.2,1038.4 1012.1,1039.5 1008.9,1040.6 1005.7,1041.7 1002.5,1042.8 999.4,1043.9 996.2,1045.0" fill="#8e4a9a" fill-opacity="0.20"/>
<polyline points="996.2,1026.3 999.4,1025.5 1002.5,1024.6 1005.7,1023.7 1008.9,1022.8 1012.1,1022.0 1015.2,1021.1 1018.4,1020.3 1021.6,1019.4 1024.7,1018.6 1027.9,1017.7 1031.1,1016.9 1034.3,1016.0 1037.4,1015.2 1040.6,1014.4 1043.8,1013.5 1046.9,1012.7 1050.1,1011.9 1053.3,1011.1 1056.5,1010.3 1059.6,1009.5 1062.8,1008.7 1066.0,1007.9 1069.1,1007.1 1072.3,1006.3 1075.5,1005.5 1078.7,1004.7 1081.8,1004.0 1085.0,1003.2 1088.2,1002.4 1091.3,1001.7 1094.5,1000.9 1097.7,1000.2 1100.9,999.4 1104.0,998.7 1107.2,998.0 1110.4,997.2 1113.5,996.5 1116.7,995.8 1119.9,995.1 1123.1,994.4 1126.2,993.7 1129.4,993.0 1132.6,992.3 1135.7,991.6 1138.9,991.0 1142.1,990.3 1145.3,989.6 1148.4,989.0 1151.6,988.3 1154.8,987.7 1157.9,987.0 1161.1,986.4 1164.3,985.8 1167.5,985.2 1170.6,984.6 1173.8,984.0 1177.0,983.4 1180.1,982.8 1183.3,982.2 1186.5,981.6" fill="none" stroke="#2c8351" stroke-width="3.5" stroke-linejoin="round"/>
<polyline points="996.2,1038.6 999.4,1037.7 1002.5,1036.7 1005.7,1035.8 1008.9,1034.9 1012.1,1033.9 1015.2,1033.0 1018.4,1032.1 1021.6,1031.2 1024.7,1030.3 1027.9,1029.4 1031.1,1028.5 1034.3,1027.7 1037.4,1026.8 1040.6,1025.9 1043.8,1025.1 1046.9,1024.2 1050.1,1023.4 1053.3,1022.6 1056.5,1021.8 1059.6,1021.0 1062.8,1020.1 1066.0,1019.4 1069.1,1018.6 1072.3,1017.8 1075.5,1017.0 1078.7,1016.2 1081.8,1015.5 1085.0,1014.7 1088.2,1014.0 1091.3,1013.3 1094.5,1012.5 1097.7,1011.8 1100.9,1011.1 1104.0,1010.4 1107.2,1009.7 1110.4,1009.0 1113.5,1008.3 1116.7,1007.7 1119.9,1007.0 1123.1,1006.3 1126.2,1005.7 1129.4,1005.0 1132.6,1004.4 1135.7,1003.7 1138.9,1003.1 1142.1,1002.4 1145.3,1001.8 1148.4,1001.1 1151.6,1000.5 1154.8,999.9 1157.9,999.3 1161.1,998.6 1164.3,998.0 1167.5,997.4 1170.6,996.8 1173.8,996.2 1177.0,995.5 1180.1,994.9 1183.3,994.3 1186.5,993.7" fill="none" stroke="#76357c" stroke-width="3.5" stroke-linejoin="round"/>
<polygon points="1220.3,1068.8 1223.5,1068.4 1226.6,1067.9 1229.8,1067.5 1233.0,1067.0 1236.2,1066.5 1239.3,1066.0 1242.5,1065.5 1245.7,1064.9 1248.8,1064.4 1252.0,1063.8 1255.2,1063.2 1258.4,1062.6 1261.5,1062.0 1264.7,1061.4 1267.9,1060.8 1271.0,1060.2 1274.2,1059.5 1277.4,1058.8 1280.6,1058.1 1283.7,1057.5 1286.9,1056.7 1290.1,1056.0 1293.2,1055.3 1296.4,1054.6 1299.6,1053.8 1302.8,1053.0 1305.9,1052.2 1309.1,1051.4 1312.3,1050.6 1315.4,1049.8 1318.6,1049.0 1321.8,1048.1 1325.0,1047.3 1328.1,1046.4 1331.3,1045.5 1334.5,1044.7 1337.6,1043.8 1340.8,1042.8 1344.0,1041.9 1347.2,1041.0 1350.3,1040.0 1353.5,1039.1 1356.7,1038.1 1359.8,1037.1 1363.0,1036.1 1366.2,1035.1 1369.4,1034.1 1372.5,1033.1 1375.7,1032.0 1378.9,1031.0 1382.0,1029.9 1385.2,1028.9 1388.4,1027.8 1391.6,1026.7 1394.7,1025.6 1397.9,1024.5 1401.1,1023.3 1404.2,1022.2 1407.4,1021.1 1410.6,1019.9 1410.6,1033.9 1407.4,1034.4 1404.2,1034.9 1401.1,1035.5 1397.9,1036.0 1394.7,1036.6 1391.6,1037.2 1388.4,1037.7 1385.2,1038.4 1382.0,1039.0 1378.9,1039.6 1375.7,1040.3 1372.5,1041.0 1369.4,1041.7 1366.2,1042.4 1363.0,1043.1 1359.8,1043.9 1356.7,1044.6 1353.5,1045.4 1350.3,1046.2 1347.2,1047.0 1344.0,1047.8 1340.8,1048.6 1337.6,1049.5 1334.5,1050.3 1331.3,1051.2 1328.1,1052.1 1325.0,1053.0 1321.8,1053.9 1318.6,1054.9 1315.4,1055.8 1312.3,1056.8 1309.1,1057.8 1305.9,1058.8 1302.8,1059.8 1299.6,1060.8 1296.4,1061.8 1293.2,1062.9 1290.1,1063.9 1286.9,1065.0 1283.7,1066.1 1280.6,1067.2 1277.4,1068.3 1274.2,1069.5 1271.0,1070.6 1267.9,1071.8 1264.7,1073.0 1261.5,1074.1 1258.4,1075.3 1255.2,1076.6 1252.0,1077.8 1248.8,1079.0 1245.7,1080.3 1242.5,1081.6 1239.3,1082.8 1236.2,1084.1 1233.0,1085.4 1229.8,1086.8 1226.6,1088.1 1223.5,1089.4 1220.3,1090.8" fill="#55824b" fill-opacity="0.20"/>
<polygon points="1220.3,1041.8 1223.5,1041.4 1226.6,1040.9 1229.8,1040.4 1233.0,1039.9 1236.2,1039.4 1239.3,1038.8 1242.5,1038.3 1245.7,1037.8 1248.8,1037.2 1252.0,1036.6 1255.2,1036.0 1258.4,1035.4 1261.5,1034.8 1264.7,1034.2 1267.9,1033.6 1271.0,1032.9 1274.2,1032.3 1277.4,1031.6 1280.6,1030.9 1283.7,1030.3 1286.9,1029.5 1290.1,1028.8 1293.2,1028.1 1296.4,1027.4 1299.6,1026.6 1302.8,1025.9 1305.9,1025.1 1309.1,1024.3 1312.3,1023.5 1315.4,1022.7 1318.6,1021.9 1321.8,1021.0 1325.0,1020.2 1328.1,1019.3 1331.3,1018.5 1334.5,1017.6 1337.6,1016.7 1340.8,1015.8 1344.0,1014.9 1347.2,1013.9 1350.3,1013.0 1353.5,1012.1 1356.7,1011.1 1359.8,1010.1 1363.0,1009.1 1366.2,1008.1 1369.4,1007.1 1372.5,1006.1 1375.7,1005.1 1378.9,1004.0 1382.0,1003.0 1385.2,1001.9 1388.4,1000.8 1391.6,999.7 1394.7,998.6 1397.9,997.5 1401.1,996.4 1404.2,995.2 1407.4,994.1 1410.6,992.9 1410.6,1006.1 1407.4,1006.7 1404.2,1007.3 1401.1,1007.9 1397.9,1008.5 1394.7,1009.2 1391.6,1009.8 1388.4,1010.5 1385.2,1011.2 1382.0,1011.8 1378.9,1012.5 1375.7,1013.2 1372.5,1014.0 1369.4,1014.7 1366.2,1015.4 1363.0,1016.2 1359.8,1016.9 1356.7,1017.7 1353.5,1018.5 1350.3,1019.3 1347.2,1020.1 1344.0,1020.9 1340.8,1021.7 1337.6,1022.5 1334.5,1023.4 1331.3,1024.2 1328.1,1025.1 1325.0,1026.0 1321.8,1026.9 1318.6,1027.8 1315.4,1028.7 1312.3,1029.6 1309.1,1030.5 1305.9,1031.5 1302.8,1032.4 1299.6,1033.4 1296.4,1034.4 1293.2,1035.4 1290.1,1036.3 1286.9,1037.4 1283.7,1038.4 1280.6,1039.4 1277.4,1040.4 1274.2,1041.5 1271.0,1042.6 1267.9,1043.6 1264.7,1044.7 1261.5,1045.8 1258.4,1046.9 1255.2,1048.0 1252.0,1049.1 1248.8,1050.3 1245.7,1051.4 1242.5,1052.6 1239.3,1053.8 1236.2,1054.9 1233.0,1056.1 1229.8,1057.3 1226.6,1058.5 1223.5,1059.8 1220.3,1061.0" fill="#8e4a9a" fill-opacity="0.20"/>
<polyline points="1220.3,1079.8 1223.5,1078.9 1226.6,1078.0 1229.8,1077.1 1233.0,1076.2 1236.2,1075.3 1239.3,1074.4 1242.5,1073.5 1245.7,1072.6 1248.8,1071.7 1252.0,1070.8 1255.2,1069.9 1258.4,1069.0 1261.5,1068.1 1264.7,1067.2 1267.9,1066.3 1271.0,1065.4 1274.2,1064.5 1277.4,1063.6 1280.6,1062.7 1283.7,1061.8 1286.9,1060.9 1290.1,1060.0 1293.2,1059.1 1296.4,1058.2 1299.6,1057.3 1302.8,1056.4 1305.9,1055.5 1309.1,1054.6 1312.3,1053.7 1315.4,1052.8 1318.6,1051.9 1321.8,1051.0 1325.0,1050.1 1328.1,1049.3 1331.3,1048.4 1334.5,1047.5 1337.6,1046.6 1340.8,1045.7 1344.0,1044.9 1347.2,1044.0 1350.3,1043.1 1353.5,1042.2 1356.7,1041.4 1359.8,1040.5 1363.0,1039.6 1366.2,1038.8 1369.4,1037.9 1372.5,1037.0 1375.7,1036.2 1378.9,1035.3 1382.0,1034.5 1385.2,1033.6 1388.4,1032.8 1391.6,1031.9 1394.7,1031.1 1397.9,1030.2 1401.1,1029.4 1404.2,1028.6 1407.4,1027.7 1410.6,1026.9" fill="none" stroke="#2c8351" stroke-width="3.5" stroke-linejoin="round"/>
<polyline points="1220.3,1051.4 1223.5,1050.6 1226.6,1049.7 1229.8,1048.9 1233.0,1048.0 1236.2,1047.2 1239.3,1046.3 1242.5,1045.4 1245.7,1044.6 1248.8,1043.7 1252.0,1042.9 1255.2,1042.0 1258.4,1041.2 1261.5,1040.3 1264.7,1039.5 1267.9,1038.6 1271.0,1037.7 1274.2,1036.9 1277.4,1036.0 1280.6,1035.2 1283.7,1034.3 1286.9,1033.5 1290.1,1032.6 1293.2,1031.7 1296.4,1030.9 1299.6,1030.0 1302.8,1029.1 1305.9,1028.3 1309.1,1027.4 1312.3,1026.6 1315.4,1025.7 1318.6,1024.8 1321.8,1024.0 1325.0,1023.1 1328.1,1022.2 1331.3,1021.4 1334.5,1020.5 1337.6,1019.6 1340.8,1018.7 1344.0,1017.9 1347.2,1017.0 1350.3,1016.1 1353.5,1015.3 1356.7,1014.4 1359.8,1013.5 1363.0,1012.6 1366.2,1011.8 1369.4,1010.9 1372.5,1010.0 1375.7,1009.2 1378.9,1008.3 1382.0,1007.4 1385.2,1006.5 1388.4,1005.6 1391.6,1004.8 1394.7,1003.9 1397.9,1003.0 1401.1,1002.1 1404.2,1001.3 1407.4,1000.4 1410.6,999.5" fill="none" stroke="#76357c" stroke-width="3.5" stroke-linejoin="round"/>
<polygon points="1444.4,1027.7 1447.6,1028.0 1450.7,1028.3 1453.9,1028.6 1457.1,1028.8 1460.3,1029.0 1463.4,1029.2 1466.6,1029.3 1469.8,1029.4 1472.9,1029.5 1476.1,1029.5 1479.3,1029.5 1482.5,1029.4 1485.6,1029.3 1488.8,1029.2 1492.0,1029.1 1495.1,1028.9 1498.3,1028.6 1501.5,1028.4 1504.7,1028.0 1507.8,1027.7 1511.0,1027.3 1514.2,1026.9 1517.3,1026.4 1520.5,1025.9 1523.7,1025.4 1526.9,1024.8 1530.0,1024.1 1533.2,1023.5 1536.4,1022.8 1539.5,1022.0 1542.7,1021.2 1545.9,1020.4 1549.1,1019.5 1552.2,1018.6 1555.4,1017.6 1558.6,1016.6 1561.7,1015.6 1564.9,1014.5 1568.1,1013.4 1571.3,1012.3 1574.4,1011.1 1577.6,1009.8 1580.8,1008.6 1583.9,1007.2 1587.1,1005.9 1590.3,1004.5 1593.5,1003.1 1596.6,1001.6 1599.8,1000.1 1603.0,998.6 1606.1,997.0 1609.3,995.4 1612.5,993.7 1615.7,992.0 1618.8,990.3 1622.0,988.5 1625.2,986.7 1628.3,984.9 1631.5,983.0 1634.7,981.1 1634.7,1043.1 1631.5,1043.2 1628.3,1043.5 1625.2,1043.7 1622.0,1044.0 1618.8,1044.3 1615.7,1044.6 1612.5,1044.9 1609.3,1045.3 1606.1,1045.7 1603.0,1046.1 1599.8,1046.5 1596.6,1046.9 1593.5,1047.4 1590.3,1047.9 1587.1,1048.4 1583.9,1049.0 1580.8,1049.5 1577.6,1050.1 1574.4,1050.7 1571.3,1051.4 1568.1,1052.0 1564.9,1052.7 1561.7,1053.4 1558.6,1054.1 1555.4,1054.8 1552.2,1055.6 1549.1,1056.3 1545.9,1057.1 1542.7,1057.9 1539.5,1058.8 1536.4,1059.6 1533.2,1060.5 1530.0,1061.4 1526.9,1062.3 1523.7,1063.2 1520.5,1064.1 1517.3,1065.1 1514.2,1066.1 1511.0,1067.1 1507.8,1068.1 1504.7,1069.2 1501.5,1070.2 1498.3,1071.3 1495.1,1072.5 1492.0,1073.6 1488.8,1074.8 1485.6,1075.9 1482.5,1077.2 1479.3,1078.4 1476.1,1079.6 1472.9,1080.9 1469.8,1082.2 1466.6,1083.6 1463.4,1084.9 1460.3,1086.3 1457.1,1087.7 1453.9,1089.1 1450.7,1090.6 1447.6,1092.1 1444.4,1093.6" fill="#55824b" fill-opacity="0.20"/>
<polygon points="1444.4,972.6 1447.6,973.6 1450.7,974.6 1453.9,975.5 1457.1,976.5 1460.3,977.4 1463.4,978.3 1466.6,979.1 1469.8,979.9 1472.9,980.7 1476.1,981.5 1479.3,982.2 1482.5,983.0 1485.6,983.6 1488.8,984.3 1492.0,984.9 1495.1,985.5 1498.3,986.0 1501.5,986.6 1504.7,987.0 1507.8,987.5 1511.0,987.9 1514.2,988.3 1517.3,988.6 1520.5,988.9 1523.7,989.2 1526.9,989.5 1530.0,989.7 1533.2,989.8 1536.4,990.0 1539.5,990.0 1542.7,990.1 1545.9,990.1 1549.1,990.1 1552.2,990.0 1555.4,989.9 1558.6,989.8 1561.7,989.6 1564.9,989.3 1568.1,989.0 1571.3,988.7 1574.4,988.4 1577.6,988.0 1580.8,987.5 1583.9,987.0 1587.1,986.5 1590.3,985.9 1593.5,985.2 1596.6,984.6 1599.8,983.8 1603.0,983.0 1606.1,982.2 1609.3,981.3 1612.5,980.4 1615.7,979.5 1618.8,978.4 1622.0,977.4 1625.2,976.2 1628.3,975.1 1631.5,973.8 1634.7,972.5 1634.7,1028.1 1631.5,1027.8 1628.3,1027.5 1625.2,1027.3 1622.0,1027.0 1618.8,1026.8 1615.7,1026.5 1612.5,1026.3 1609.3,1026.0 1606.1,1025.8 1603.0,1025.6 1599.8,1025.3 1596.6,1025.1 1593.5,1024.9 1590.3,1024.7 1587.1,1024.5 1583.9,1024.3 1580.8,1024.1 1577.6,1024.0 1574.4,1023.8 1571.3,1023.7 1568.1,1023.5 1564.9,1023.4 1561.7,1023.3 1558.6,1023.2 1555.4,1023.1 1552.2,1023.0 1549.1,1022.9 1545.9,1022.9 1542.7,1022.8 1539.5,1022.8 1536.4,1022.8 1533.2,1022.8 1530.0,1022.8 1526.9,1022.9 1523.7,1022.9 1520.5,1023.0 1517.3,1023.1 1514.2,1023.2 1511.0,1023.3 1507.8,1023.5 1504.7,1023.7 1501.5,1023.8 1498.3,1024.1 1495.1,1024.3 1492.0,1024.5 1488.8,1024.8 1485.6,1025.1 1482.5,1025.4 1479.3,1025.8 1476.1,1026.2 1472.9,1026.5 1469.8,1027.0 1466.6,1027.4 1463.4,1027.9 1460.3,1028.4 1457.1,1028.9 1453.9,1029.5 1450.7,1030.0 1447.6,1030.6 1444.4,1031.3" fill="#8e4a9a" fill-opacity="0.20"/>
<polyline points="1444.4,1060.7 1447.6,1060.1 1450.7,1059.5 1453.9,1058.9 1457.1,1058.3 1460.3,1057.7 1463.4,1057.1 1466.6,1056.4 1469.8,1055.8 1472.9,1055.2 1476.1,1054.6 1479.3,1053.9 1482.5,1053.3 1485.6,1052.6 1488.8,1052.0 1492.0,1051.3 1495.1,1050.7 1498.3,1050.0 1501.5,1049.3 1504.7,1048.6 1507.8,1047.9 1511.0,1047.2 1514.2,1046.5 1517.3,1045.8 1520.5,1045.0 1523.7,1044.3 1526.9,1043.5 1530.0,1042.7 1533.2,1042.0 1536.4,1041.2 1539.5,1040.4 1542.7,1039.6 1545.9,1038.8 1549.1,1037.9 1552.2,1037.1 1555.4,1036.2 1558.6,1035.4 1561.7,1034.5 1564.9,1033.6 1568.1,1032.7 1571.3,1031.8 1574.4,1030.9 1577.6,1030.0 1580.8,1029.0 1583.9,1028.1 1587.1,1027.2 1590.3,1026.2 1593.5,1025.2 1596.6,1024.3 1599.8,1023.3 1603.0,1022.3 1606.1,1021.3 1609.3,1020.3 1612.5,1019.3 1615.7,1018.3 1618.8,1017.3 1622.0,1016.3 1625.2,1015.2 1628.3,1014.2 1631.5,1013.1 1634.7,1012.1" fill="none" stroke="#2c8351" stroke-width="3.5" stroke-linejoin="round"/>
<polyline points="1444.4,1001.9 1447.6,1002.1 1450.7,1002.3 1453.9,1002.5 1457.1,1002.7 1460.3,1002.9 1463.4,1003.1 1466.6,1003.3 1469.8,1003.5 1472.9,1003.6 1476.1,1003.8 1479.3,1004.0 1482.5,1004.2 1485.6,1004.4 1488.8,1004.5 1492.0,1004.7 1495.1,1004.9 1498.3,1005.0 1501.5,1005.2 1504.7,1005.3 1507.8,1005.5 1511.0,1005.6 1514.2,1005.7 1517.3,1005.9 1520.5,1006.0 1523.7,1006.1 1526.9,1006.2 1530.0,1006.2 1533.2,1006.3 1536.4,1006.4 1539.5,1006.4 1542.7,1006.5 1545.9,1006.5 1549.1,1006.5 1552.2,1006.5 1555.4,1006.5 1558.6,1006.5 1561.7,1006.4 1564.9,1006.4 1568.1,1006.3 1571.3,1006.2 1574.4,1006.1 1577.6,1006.0 1580.8,1005.8 1583.9,1005.7 1587.1,1005.5 1590.3,1005.3 1593.5,1005.1 1596.6,1004.8 1599.8,1004.6 1603.0,1004.3 1606.1,1004.0 1609.3,1003.7 1612.5,1003.4 1615.7,1003.0 1618.8,1002.6 1622.0,1002.2 1625.2,1001.8 1628.3,1001.3 1631.5,1000.8 1634.7,1000.3" fill="none" stroke="#76357c" stroke-width="3.5" stroke-linejoin="round"/>
<polygon points="1668.5,1151.8 1671.7,1151.1 1674.8,1150.4 1678.0,1149.7 1681.2,1149.0 1684.4,1148.3 1687.5,1147.6 1690.7,1146.9 1693.9,1146.2 1697.0,1145.5 1700.2,1144.8 1703.4,1144.1 1706.6,1143.3 1709.7,1142.6 1712.9,1141.8 1716.1,1141.1 1719.2,1140.3 1722.4,1139.5 1725.6,1138.7 1728.8,1137.9 1731.9,1137.1 1735.1,1136.3 1738.3,1135.4 1741.4,1134.6 1744.6,1133.7 1747.8,1132.8 1751.0,1131.9 1754.1,1130.9 1757.3,1130.0 1760.5,1129.0 1763.6,1128.0 1766.8,1127.0 1770.0,1126.0 1773.2,1124.9 1776.3,1123.8 1779.5,1122.7 1782.7,1121.6 1785.8,1120.4 1789.0,1119.2 1792.2,1118.0 1795.4,1116.7 1798.5,1115.5 1801.7,1114.2 1804.9,1112.8 1808.0,1111.5 1811.2,1110.1 1814.4,1108.6 1817.6,1107.2 1820.7,1105.7 1823.9,1104.1 1827.1,1102.6 1830.2,1101.0 1833.4,1099.3 1836.6,1097.6 1839.8,1095.9 1842.9,1094.2 1846.1,1092.4 1849.3,1090.5 1852.4,1088.6 1855.6,1086.7 1858.8,1084.8 1858.8,1100.7 1855.6,1102.1 1852.4,1103.4 1849.3,1104.6 1846.1,1105.9 1842.9,1107.2 1839.8,1108.4 1836.6,1109.6 1833.4,1110.8 1830.2,1112.0 1827.1,1113.2 1823.9,1114.4 1820.7,1115.5 1817.6,1116.7 1814.4,1117.8 1811.2,1118.9 1808.0,1120.1 1804.9,1121.2 1801.7,1122.3 1798.5,1123.4 1795.4,1124.5 1792.2,1125.5 1789.0,1126.6 1785.8,1127.7 1782.7,1128.8 1779.5,1129.8 1776.3,1130.9 1773.2,1132.0 1770.0,1133.1 1766.8,1134.1 1763.6,1135.2 1760.5,1136.3 1757.3,1137.4 1754.1,1138.4 1751.0,1139.5 1747.8,1140.6 1744.6,1141.7 1741.4,1142.8 1738.3,1143.9 1735.1,1145.0 1731.9,1146.2 1728.8,1147.3 1725.6,1148.5 1722.4,1149.6 1719.2,1150.8 1716.1,1152.0 1712.9,1153.2 1709.7,1154.4 1706.6,1155.6 1703.4,1156.8 1700.2,1158.1 1697.0,1159.4 1693.9,1160.7 1690.7,1162.0 1687.5,1163.3 1684.4,1164.7 1681.2,1166.0 1678.0,1167.4 1674.8,1168.8 1671.7,1170.3 1668.5,1171.7" fill="#55824b" fill-opacity="0.20"/>
<polygon points="1668.5,1093.2 1671.7,1093.3 1674.8,1093.3 1678.0,1093.3 1681.2,1093.3 1684.4,1093.3 1687.5,1093.3 1690.7,1093.2 1693.9,1093.2 1697.0,1093.1 1700.2,1093.0 1703.4,1092.9 1706.6,1092.8 1709.7,1092.7 1712.9,1092.6 1716.1,1092.4 1719.2,1092.2 1722.4,1092.0 1725.6,1091.8 1728.8,1091.6 1731.9,1091.4 1735.1,1091.1 1738.3,1090.8 1741.4,1090.5 1744.6,1090.2 1747.8,1089.9 1751.0,1089.5 1754.1,1089.1 1757.3,1088.7 1760.5,1088.3 1763.6,1087.9 1766.8,1087.4 1770.0,1086.9 1773.2,1086.4 1776.3,1085.9 1779.5,1085.3 1782.7,1084.7 1785.8,1084.1 1789.0,1083.4 1792.2,1082.8 1795.4,1082.1 1798.5,1081.4 1801.7,1080.6 1804.9,1079.8 1808.0,1079.0 1811.2,1078.2 1814.4,1077.3 1817.6,1076.4 1820.7,1075.5 1823.9,1074.5 1827.1,1073.5 1830.2,1072.5 1833.4,1071.5 1836.6,1070.4 1839.8,1069.3 1842.9,1068.1 1846.1,1066.9 1849.3,1065.7 1852.4,1064.5 1855.6,1063.2 1858.8,1061.9 1858.8,1077.8 1855.6,1078.5 1852.4,1079.1 1849.3,1079.7 1846.1,1080.3 1842.9,1080.9 1839.8,1081.5 1836.6,1082.1 1833.4,1082.7 1830.2,1083.3 1827.1,1083.8 1823.9,1084.4 1820.7,1085.0 1817.6,1085.5 1814.4,1086.1 1811.2,1086.7 1808.0,1087.2 1804.9,1087.8 1801.7,1088.3 1798.5,1088.9 1795.4,1089.4 1792.2,1090.0 1789.0,1090.6 1785.8,1091.1 1782.7,1091.7 1779.5,1092.2 1776.3,1092.8 1773.2,1093.3 1770.0,1093.9 1766.8,1094.5 1763.6,1095.1 1760.5,1095.6 1757.3,1096.2 1754.1,1096.8 1751.0,1097.4 1747.8,1098.0 1744.6,1098.6 1741.4,1099.2 1738.3,1099.9 1735.1,1100.5 1731.9,1101.1 1728.8,1101.8 1725.6,1102.5 1722.4,1103.1 1719.2,1103.8 1716.1,1104.5 1712.9,1105.2 1709.7,1105.9 1706.6,1106.6 1703.4,1107.4 1700.2,1108.1 1697.0,1108.9 1693.9,1109.7 1690.7,1110.4 1687.5,1111.3 1684.4,1112.1 1681.2,1112.9 1678.0,1113.8 1674.8,1114.6 1671.7,1115.5 1668.5,1116.4" fill="#8e4a9a" fill-opacity="0.20"/>
<polyline points="1668.5,1161.7 1671.7,1160.7 1674.8,1159.6 1678.0,1158.6 1681.2,1157.5 1684.4,1156.5 1687.5,1155.5 1690.7,1154.4 1693.9,1153.4 1697.0,1152.4 1700.2,1151.4 1703.4,1150.5 1706.6,1149.5 1709.7,1148.5 1712.9,1147.5 1716.1,1146.5 1719.2,1145.5 1722.4,1144.6 1725.6,1143.6 1728.8,1142.6 1731.9,1141.6 1735.1,1140.7 1738.3,1139.7 1741.4,1138.7 1744.6,1137.7 1747.8,1136.7 1751.0,1135.7 1754.1,1134.7 1757.3,1133.7 1760.5,1132.6 1763.6,1131.6 1766.8,1130.6 1770.0,1129.5 1773.2,1128.4 1776.3,1127.4 1779.5,1126.3 1782.7,1125.2 1785.8,1124.0 1789.0,1122.9 1792.2,1121.8 1795.4,1120.6 1798.5,1119.4 1801.7,1118.2 1804.9,1117.0 1808.0,1115.8 1811.2,1114.5 1814.4,1113.2 1817.6,1111.9 1820.7,1110.6 1823.9,1109.3 1827.1,1107.9 1830.2,1106.5 1833.4,1105.1 1836.6,1103.6 1839.8,1102.2 1842.9,1100.7 1846.1,1099.1 1849.3,1097.6 1852.4,1096.0 1855.6,1094.4 1858.8,1092.7" fill="none" stroke="#2c8351" stroke-width="3.5" stroke-linejoin="round"/>
<polyline points="1668.5,1104.8 1671.7,1104.4 1674.8,1104.0 1678.0,1103.5 1681.2,1103.1 1684.4,1102.7 1687.5,1102.3 1690.7,1101.8 1693.9,1101.4 1697.0,1101.0 1700.2,1100.6 1703.4,1100.1 1706.6,1099.7 1709.7,1099.3 1712.9,1098.9 1716.1,1098.5 1719.2,1098.0 1722.4,1097.6 1725.6,1097.1 1728.8,1096.7 1731.9,1096.3 1735.1,1095.8 1738.3,1095.4 1741.4,1094.9 1744.6,1094.4 1747.8,1094.0 1751.0,1093.5 1754.1,1093.0 1757.3,1092.5 1760.5,1092.0 1763.6,1091.5 1766.8,1090.9 1770.0,1090.4 1773.2,1089.9 1776.3,1089.3 1779.5,1088.8 1782.7,1088.2 1785.8,1087.6 1789.0,1087.0 1792.2,1086.4 1795.4,1085.8 1798.5,1085.1 1801.7,1084.5 1804.9,1083.8 1808.0,1083.1 1811.2,1082.4 1814.4,1081.7 1817.6,1081.0 1820.7,1080.2 1823.9,1079.5 1827.1,1078.7 1830.2,1077.9 1833.4,1077.1 1836.6,1076.3 1839.8,1075.4 1842.9,1074.5 1846.1,1073.6 1849.3,1072.7 1852.4,1071.8 1855.6,1070.8 1858.8,1069.9" fill="none" stroke="#76357c" stroke-width="3.5" stroke-linejoin="round"/>
<polygon points="1892.6,1118.5 1895.8,1118.3 1898.9,1118.1 1902.1,1117.9 1905.3,1117.7 1908.5,1117.5 1911.6,1117.3 1914.8,1117.1 1918.0,1116.9 1921.1,1116.7 1924.3,1116.5 1927.5,1116.4 1930.7,1116.2 1933.8,1116.0 1937.0,1115.8 1940.2,1115.6 1943.3,1115.5 1946.5,1115.3 1949.7,1115.1 1952.9,1115.0 1956.0,1114.8 1959.2,1114.6 1962.4,1114.4 1965.5,1114.3 1968.7,1114.1 1971.9,1113.9 1975.1,1113.8 1978.2,1113.6 1981.4,1113.4 1984.6,1113.2 1987.7,1113.1 1990.9,1112.9 1994.1,1112.7 1997.3,1112.6 2000.4,1112.4 2003.6,1112.2 2006.8,1112.0 2009.9,1111.9 2013.1,1111.7 2016.3,1111.5 2019.5,1111.3 2022.6,1111.1 2025.8,1111.0 2029.0,1110.8 2032.1,1110.6 2035.3,1110.4 2038.5,1110.2 2041.7,1110.0 2044.8,1109.8 2048.0,1109.6 2051.2,1109.4 2054.3,1109.2 2057.5,1109.0 2060.7,1108.8 2063.9,1108.6 2067.0,1108.4 2070.2,1108.2 2073.4,1108.0 2076.5,1107.8 2079.7,1107.5 2082.9,1107.3 2082.9,1121.3 2079.7,1121.0 2076.5,1120.7 2073.4,1120.5 2070.2,1120.3 2067.0,1120.0 2063.9,1119.9 2060.7,1119.7 2057.5,1119.6 2054.3,1119.4 2051.2,1119.3 2048.0,1119.3 2044.8,1119.2 2041.7,1119.2 2038.5,1119.1 2035.3,1119.1 2032.1,1119.2 2029.0,1119.2 2025.8,1119.3 2022.6,1119.4 2019.5,1119.5 2016.3,1119.6 2013.1,1119.8 2009.9,1120.0 2006.8,1120.2 2003.6,1120.4 2000.4,1120.6 1997.3,1120.9 1994.1,1121.2 1990.9,1121.5 1987.7,1121.9 1984.6,1122.2 1981.4,1122.6 1978.2,1123.0 1975.1,1123.5 1971.9,1123.9 1968.7,1124.4 1965.5,1124.9 1962.4,1125.4 1959.2,1126.0 1956.0,1126.5 1952.9,1127.1 1949.7,1127.8 1946.5,1128.4 1943.3,1129.1 1940.2,1129.8 1937.0,1130.5 1933.8,1131.2 1930.7,1132.0 1927.5,1132.8 1924.3,1133.6 1921.1,1134.5 1918.0,1135.3 1914.8,1136.2 1911.6,1137.2 1908.5,1138.1 1905.3,1139.1 1902.1,1140.1 1898.9,1141.1 1895.8,1142.1 1892.6,1143.2" fill="#55824b" fill-opacity="0.20"/>
<polygon points="1892.6,1096.9 1895.8,1096.5 1898.9,1096.1 1902.1,1095.6 1905.3,1095.2 1908.5,1094.8 1911.6,1094.4 1914.8,1094.0 1918.0,1093.6 1921.1,1093.1 1924.3,1092.7 1927.5,1092.3 1930.7,1091.9 1933.8,1091.4 1937.0,1091.0 1940.2,1090.6 1943.3,1090.2 1946.5,1089.7 1949.7,1089.3 1952.9,1088.9 1956.0,1088.4 1959.2,1088.0 1962.4,1087.6 1965.5,1087.1 1968.7,1086.7 1971.9,1086.3 1975.1,1085.8 1978.2,1085.4 1981.4,1085.0 1984.6,1084.5 1987.7,1084.1 1990.9,1083.7 1994.1,1083.2 1997.3,1082.8 2000.4,1082.4 2003.6,1082.0 2006.8,1081.5 2009.9,1081.1 2013.1,1080.7 2016.3,1080.3 2019.5,1079.8 2022.6,1079.4 2025.8,1079.0 2029.0,1078.6 2032.1,1078.2 2035.3,1077.8 2038.5,1077.4 2041.7,1077.0 2044.8,1076.6 2048.0,1076.2 2051.2,1075.8 2054.3,1075.4 2057.5,1075.0 2060.7,1074.6 2063.9,1074.2 2067.0,1073.8 2070.2,1073.4 2073.4,1073.0 2076.5,1072.7 2079.7,1072.3 2082.9,1071.9 2082.9,1087.1 2079.7,1086.9 2076.5,1086.7 2073.4,1086.5 2070.2,1086.3 2067.0,1086.2 2063.9,1086.1 2060.7,1086.1 2057.5,1086.0 2054.3,1086.0 2051.2,1086.1 2048.0,1086.1 2044.8,1086.2 2041.7,1086.3 2038.5,1086.4 2035.3,1086.6 2032.1,1086.7 2029.0,1087.0 2025.8,1087.2 2022.6,1087.5 2019.5,1087.7 2016.3,1088.1 2013.1,1088.4 2009.9,1088.8 2006.8,1089.2 2003.6,1089.6 2000.4,1090.0 1997.3,1090.5 1994.1,1091.0 1990.9,1091.5 1987.7,1092.1 1984.6,1092.7 1981.4,1093.3 1978.2,1093.9 1975.1,1094.6 1971.9,1095.2 1968.7,1095.9 1965.5,1096.7 1962.4,1097.4 1959.2,1098.2 1956.0,1099.0 1952.9,1099.8 1949.7,1100.7 1946.5,1101.5 1943.3,1102.4 1940.2,1103.4 1937.0,1104.3 1933.8,1105.3 1930.7,1106.3 1927.5,1107.3 1924.3,1108.3 1921.1,1109.4 1918.0,1110.5 1914.8,1111.6 1911.6,1112.7 1908.5,1113.9 1905.3,1115.1 1902.1,1116.3 1898.9,1117.5 1895.8,1118.8 1892.6,1120.0" fill="#8e4a9a" fill-opacity="0.20"/>
<polyline points="1892.6,1130.8 1895.8,1130.2 1898.9,1129.6 1902.1,1129.0 1905.3,1128.4 1908.5,1127.8 1911.6,1127.2 1914.8,1126.7 1918.0,1126.1 1921.1,1125.6 1924.3,1125.1 1927.5,1124.6 1930.7,1124.1 1933.8,1123.6 1937.0,1123.2 1940.2,1122.7 1943.3,1122.3 1946.5,1121.9 1949.7,1121.4 1952.9,1121.0 1956.0,1120.7 1959.2,1120.3 1962.4,1119.9 1965.5,1119.6 1968.7,1119.2 1971.9,1118.9 1975.1,1118.6 1978.2,1118.3 1981.4,1118.0 1984.6,1117.7 1987.7,1117.5 1990.9,1117.2 1994.1,1117.0 1997.3,1116.7 2000.4,1116.5 2003.6,1116.3 2006.8,1116.1 2009.9,1115.9 2013.1,1115.7 2016.3,1115.6 2019.5,1115.4 2022.6,1115.3 2025.8,1115.1 2029.0,1115.0 2032.1,1114.9 2035.3,1114.8 2038.5,1114.7 2041.7,1114.6 2044.8,1114.5 2048.0,1114.4 2051.2,1114.4 2054.3,1114.3 2057.5,1114.3 2060.7,1114.3 2063.9,1114.2 2067.0,1114.2 2070.2,1114.2 2073.4,1114.2 2076.5,1114.2 2079.7,1114.3 2082.9,1114.3" fill="none" stroke="#2c8351" stroke-width="3.5" stroke-linejoin="round"/>
<polyline points="1892.6,1108.5 1895.8,1107.6 1898.9,1106.8 1902.1,1106.0 1905.3,1105.2 1908.5,1104.4 1911.6,1103.6 1914.8,1102.8 1918.0,1102.0 1921.1,1101.3 1924.3,1100.5 1927.5,1099.8 1930.7,1099.1 1933.8,1098.4 1937.0,1097.7 1940.2,1097.0 1943.3,1096.3 1946.5,1095.6 1949.7,1095.0 1952.9,1094.3 1956.0,1093.7 1959.2,1093.1 1962.4,1092.5 1965.5,1091.9 1968.7,1091.3 1971.9,1090.8 1975.1,1090.2 1978.2,1089.7 1981.4,1089.1 1984.6,1088.6 1987.7,1088.1 1990.9,1087.6 1994.1,1087.1 1997.3,1086.7 2000.4,1086.2 2003.6,1085.8 2006.8,1085.4 2009.9,1084.9 2013.1,1084.6 2016.3,1084.2 2019.5,1083.8 2022.6,1083.4 2025.8,1083.1 2029.0,1082.8 2032.1,1082.5 2035.3,1082.2 2038.5,1081.9 2041.7,1081.6 2044.8,1081.4 2048.0,1081.1 2051.2,1080.9 2054.3,1080.7 2057.5,1080.5 2060.7,1080.3 2063.9,1080.2 2067.0,1080.0 2070.2,1079.9 2073.4,1079.8 2076.5,1079.7 2079.7,1079.6 2082.9,1079.5" fill="none" stroke="#76357c" stroke-width="3.5" stroke-linejoin="round"/>
<rect x="90.3" y="92.3" width="209.2" height="266.4" fill="none" stroke="#222" stroke-width="2"/>
<rect x="314.4" y="92.3" width="209.2" height="266.4" fill="none" stroke="#222" stroke-width="2"/>
<rect x="538.5" y="92.3" width="209.2" height="266.4" fill="none" stroke="#222" stroke-width="2"/>
<rect x="762.6" y="92.3" width="209.2" height="266.4" fill="none" stroke="#222" stroke-width="2"/>
<rect x="986.7" y="92.3" width="209.2" height="266.4" fill="none" stroke="#222" stroke-width="2"/>
<rect x="1210.8" y="92.3" width="209.2" height="266.4" fill="none" stroke="#222" stroke-width="2"/>
<rect x="1434.9" y="92.3" width="209.2" height="266.4" fill="none" stroke="#222" stroke-width="2"/>
<rect x="1659.0" y="92.3" width="209.2" height="266.4" fill="none" stroke="#222" stroke-width="2"/>
<rect x="1883.1" y="92.3" width="209.2" height="266.4" fill="none" stroke="#222" stroke-width="2"/>
<rect x="90.3" y="374.2" width="209.2" height="266.4" fill="none" stroke="#222" stroke-width="2"/>
<rect x="314.4" y="374.2" width="209.2" height="266.4" fill="none" stroke="#222" stroke-width="2"/>
<rect x="538.5" y="374.2" width="209.2" height="266.4" fill="none" stroke="#222" stroke-width="2"/>
<rect x="762.6" y="374.2" width="209.2" height="266.4" fill="none" stroke="#222" stroke-width="2"/>
<rect x="986.7" y="374.2" width="209.2" height="266.4" fill="none" stroke="#222" stroke-width="2"/>
<rect x="1210.8" y="374.2" width="209.2" height="266.4" fill="none" stroke="#222" stroke-width="2"/>
<rect x="1434.9" y="374.2" width="209.2" height="266.4" fill="none" stroke="#222" stroke-width="2"/>
<rect x="1659.0" y="374.2" width="209.2" height="266.4" fill="none" stroke="#222" stroke-width="2"/>
<rect x="1883.1" y="374.2" width="209.2" height="266.4" fill="none" stroke="#222" stroke-width="2"/>
<rect x="90.3" y="656.2" width="209.2" height="266.4" fill="none" stroke="#222" stroke-width="2"/>
<rect x="314.4" y="656.2" width="209.2" height="266.4" fill="none" stroke="#222" stroke-width="2"/>
<rect x="538.5" y="656.2" width="209.2" height="266.4" fill="none" stroke="#222" stroke-width="2"/>
<rect x="762.6" y="656.2" width="209.2" height="266.4" fill="none" stroke="#222" stroke-width="2"/>
<rect x="986.7" y="656.2" width="209.2" height="266.4" fill="none" stroke="#222" stroke-width="2"/>
<rect x="1210.8" y="656.2" width="209.2" height="266.4" fill="none" stroke="#222" stroke-width="2"/>
<rect x="1434.9" y="656.2" width="209.2" height="266.4" fill="none" stroke="#222" stroke-width="2"/>
<rect x="1659.0" y="656.2" width="209.2" height="266.4" fill="none" stroke="#222" stroke-width="2"/>
<rect x="1883.1" y="656.2" width="209.2" height="266.4" fill="none" stroke="#222" stroke-width="2"/>
<rect x="90.3" y="938.1" width="209.2" height="266.4" fill="none" stroke="#222" stroke-width="2"/>
<rect x="314.4" y="938.1" width="209.2" height="266.4" fill="none" stroke="#222" stroke-width="2"/>
<rect x="538.5" y="938.1" width="209.2" height="266.4" fill="none" stroke="#222" stroke-width="2"/>
<rect x="762.6" y="938.1" width="209.2" height="266.4" fill="none" stroke="#222" stroke-width="2"/>
<rect x="986.7" y="938.1" width="209.2" height="266.4" fill="none" stroke="#222" stroke-width="2"/>
<rect x="1210.8" y="938.1" width="209.2" height="266.4" fill="none" stroke="#222" stroke-width="2"/>
<rect x="1434.9" y="938.1" width="209.2" height="266.4" fill="none" stroke="#222" stroke-width="2"/>
<rect x="1659.0" y="938.1" width="209.2" height="266.4" fill="none" stroke="#222" stroke-width="2"/>
<rect x="1883.1" y="938.1" width="209.2" height="266.4" fill="none" stroke="#222" stroke-width="2"/>
<line x1="89.6" y1="91.3" x2="89.6" y2="359.7" stroke="#111" stroke-width="3.4"/>
<line x1="82.5" y1="335.9" x2="89.6" y2="335.9" stroke="#222" stroke-width="2.4"/>
<text x="76.3" y="342.4" font-size="20" fill="#333" text-anchor="end">12.5</text>
<line x1="82.5" y1="274.4" x2="89.6" y2="274.4" stroke="#222" stroke-width="2.4"/>
<text x="76.3" y="280.9" font-size="20" fill="#333" text-anchor="end">15.0</text>
<line x1="82.5" y1="212.9" x2="89.6" y2="212.9" stroke="#222" stroke-width="2.4"/>
<text x="76.3" y="219.4" font-size="20" fill="#333" text-anchor="end">17.5</text>
<line x1="82.5" y1="151.4" x2="89.6" y2="151.4" stroke="#222" stroke-width="2.4"/>
<text x="76.3" y="157.9" font-size="20" fill="#333" text-anchor="end">20.0</text>
<line x1="89.6" y1="373.2" x2="89.6" y2="641.6" stroke="#111" stroke-width="3.4"/>
<line x1="82.5" y1="639.9" x2="89.6" y2="639.9" stroke="#222" stroke-width="2.4"/>
<text x="76.3" y="646.4" font-size="20" fill="#333" text-anchor="end">17.5</text>
<line x1="82.5" y1="589.0" x2="89.6" y2="589.0" stroke="#222" stroke-width="2.4"/>
<text x="76.3" y="595.5" font-size="20" fill="#333" text-anchor="end">20.0</text>
<line x1="82.5" y1="538.2" x2="89.6" y2="538.2" stroke="#222" stroke-width="2.4"/>
<text x="76.3" y="544.7" font-size="20" fill="#333" text-anchor="end">22.5</text>
<line x1="82.5" y1="487.3" x2="89.6" y2="487.3" stroke="#222" stroke-width="2.4"/>
<text x="76.3" y="493.8" font-size="20" fill="#333" text-anchor="end">25.0</text>
<line x1="82.5" y1="436.5" x2="89.6" y2="436.5" stroke="#222" stroke-width="2.4"/>
<text x="76.3" y="443.0" font-size="20" fill="#333" text-anchor="end">27.5</text>
<line x1="82.5" y1="385.6" x2="89.6" y2="385.6" stroke="#222" stroke-width="2.4"/>
<text x="76.3" y="392.1" font-size="20" fill="#333" text-anchor="end">30.0</text>
<line x1="89.6" y1="655.2" x2="89.6" y2="923.6" stroke="#111" stroke-width="3.4"/>
<line x1="82.5" y1="921.8" x2="89.6" y2="921.8" stroke="#222" stroke-width="2.4"/>
<text x="76.3" y="928.3" font-size="20" fill="#333" text-anchor="end">17.5</text>
<line x1="82.5" y1="871.0" x2="89.6" y2="871.0" stroke="#222" stroke-width="2.4"/>
<text x="76.3" y="877.5" font-size="20" fill="#333" text-anchor="end">20.0</text>
<line x1="82.5" y1="820.1" x2="89.6" y2="820.1" stroke="#222" stroke-width="2.4"/>
<text x="76.3" y="826.6" font-size="20" fill="#333" text-anchor="end">22.5</text>
<line x1="82.5" y1="769.3" x2="89.6" y2="769.3" stroke="#222" stroke-width="2.4"/>
<text x="76.3" y="775.8" font-size="20" fill="#333" text-anchor="end">25.0</text>
<line x1="82.5" y1="718.4" x2="89.6" y2="718.4" stroke="#222" stroke-width="2.4"/>
<text x="76.3" y="724.9" font-size="20" fill="#333" text-anchor="end">27.5</text>
<line x1="82.5" y1="667.6" x2="89.6" y2="667.6" stroke="#222" stroke-width="2.4"/>
<text x="76.3" y="674.1" font-size="20" fill="#333" text-anchor="end">30.0</text>
<line x1="89.6" y1="937.1" x2="89.6" y2="1205.5" stroke="#111" stroke-width="3.4"/>
<line x1="82.5" y1="1203.7" x2="89.6" y2="1203.7" stroke="#222" stroke-width="2.4"/>
<text x="76.3" y="1210.2" font-size="20" fill="#333" text-anchor="end">17.5</text>
<line x1="82.5" y1="1152.9" x2="89.6" y2="1152.9" stroke="#222" stroke-width="2.4"/>
<text x="76.3" y="1159.4" font-size="20" fill="#333" text-anchor="end">20.0</text>
<line x1="82.5" y1="1102.0" x2="89.6" y2="1102.0" stroke="#222" stroke-width="2.4"/>
<text x="76.3" y="1108.5" font-size="20" fill="#333" text-anchor="end">22.5</text>
<line x1="82.5" y1="1051.2" x2="89.6" y2="1051.2" stroke="#222" stroke-width="2.4"/>
<text x="76.3" y="1057.7" font-size="20" fill="#333" text-anchor="end">25.0</text>
<line x1="82.5" y1="1000.3" x2="89.6" y2="1000.3" stroke="#222" stroke-width="2.4"/>
<text x="76.3" y="1006.8" font-size="20" fill="#333" text-anchor="end">27.5</text>
<line x1="82.5" y1="949.5" x2="89.6" y2="949.5" stroke="#222" stroke-width="2.4"/>
<text x="76.3" y="956.0" font-size="20" fill="#333" text-anchor="end">30.0</text>
<line x1="89.3" y1="1205.9" x2="300.5" y2="1205.9" stroke="#111" stroke-width="3.2"/>
<line x1="99.8" y1="1205.9" x2="99.8" y2="1212.9" stroke="#222" stroke-width="2.6"/>
<text transform="translate(109.3,1228.9) rotate(-45)" font-size="20" fill="#333" text-anchor="end">1990</text>
<line x1="163.2" y1="1205.9" x2="163.2" y2="1212.9" stroke="#222" stroke-width="2.6"/>
<text transform="translate(172.7,1228.9) rotate(-45)" font-size="20" fill="#333" text-anchor="end">2000</text>
<line x1="226.7" y1="1205.9" x2="226.7" y2="1212.9" stroke="#222" stroke-width="2.6"/>
<text transform="translate(236.2,1228.9) rotate(-45)" font-size="20" fill="#333" text-anchor="end">2010</text>
<line x1="290.1" y1="1205.9" x2="290.1" y2="1212.9" stroke="#222" stroke-width="2.6"/>
<text transform="translate(299.6,1228.9) rotate(-45)" font-size="20" fill="#333" text-anchor="end">2020</text>
<line x1="313.4" y1="1205.9" x2="524.6" y2="1205.9" stroke="#111" stroke-width="3.2"/>
<line x1="323.9" y1="1205.9" x2="323.9" y2="1212.9" stroke="#222" stroke-width="2.6"/>
<text transform="translate(333.4,1228.9) rotate(-45)" font-size="20" fill="#333" text-anchor="end">1990</text>
<line x1="387.3" y1="1205.9" x2="387.3" y2="1212.9" stroke="#222" stroke-width="2.6"/>
<text transform="translate(396.8,1228.9) rotate(-45)" font-size="20" fill="#333" text-anchor="end">2000</text>
<line x1="450.8" y1="1205.9" x2="450.8" y2="1212.9" stroke="#222" stroke-width="2.6"/>
<text transform="translate(460.3,1228.9) rotate(-45)" font-size="20" fill="#333" text-anchor="end">2010</text>
<line x1="514.2" y1="1205.9" x2="514.2" y2="1212.9" stroke="#222" stroke-width="2.6"/>
<text transform="translate(523.7,1228.9) rotate(-45)" font-size="20" fill="#333" text-anchor="end">2020</text>
<line x1="537.5" y1="1205.9" x2="748.7" y2="1205.9" stroke="#111" stroke-width="3.2"/>
<line x1="548.0" y1="1205.9" x2="548.0" y2="1212.9" stroke="#222" stroke-width="2.6"/>
<text transform="translate(557.5,1228.9) rotate(-45)" font-size="20" fill="#333" text-anchor="end">1990</text>
<line x1="611.4" y1="1205.9" x2="611.4" y2="1212.9" stroke="#222" stroke-width="2.6"/>
<text transform="translate(620.9,1228.9) rotate(-45)" font-size="20" fill="#333" text-anchor="end">2000</text>
<line x1="674.9" y1="1205.9" x2="674.9" y2="1212.9" stroke="#222" stroke-width="2.6"/>
<text transform="translate(684.4,1228.9) rotate(-45)" font-size="20" fill="#333" text-anchor="end">2010</text>
<line x1="738.3" y1="1205.9" x2="738.3" y2="1212.9" stroke="#222" stroke-width="2.6"/>
<text transform="translate(747.8,1228.9) rotate(-45)" font-size="20" fill="#333" text-anchor="end">2020</text>
<line x1="761.6" y1="1205.9" x2="972.8" y2="1205.9" stroke="#111" stroke-width="3.2"/>
<line x1="772.1" y1="1205.9" x2="772.1" y2="1212.9" stroke="#222" stroke-width="2.6"/>
<text transform="translate(781.6,1228.9) rotate(-45)" font-size="20" fill="#333" text-anchor="end">1990</text>
<line x1="835.5" y1="1205.9" x2="835.5" y2="1212.9" stroke="#222" stroke-width="2.6"/>
<text transform="translate(845.0,1228.9) rotate(-45)" font-size="20" fill="#333" text-anchor="end">2000</text>
<line x1="899.0" y1="1205.9" x2="899.0" y2="1212.9" stroke="#222" stroke-width="2.6"/>
<text transform="translate(908.5,1228.9) rotate(-45)" font-size="20" fill="#333" text-anchor="end">2010</text>
<line x1="962.4" y1="1205.9" x2="962.4" y2="1212.9" stroke="#222" stroke-width="2.6"/>
<text transform="translate(971.9,1228.9) rotate(-45)" font-size="20" fill="#333" text-anchor="end">2020</text>
<line x1="985.7" y1="1205.9" x2="1196.9" y2="1205.9" stroke="#111" stroke-width="3.2"/>
<line x1="996.2" y1="1205.9" x2="996.2" y2="1212.9" stroke="#222" stroke-width="2.6"/>
<text transform="translate(1005.7,1228.9) rotate(-45)" font-size="20" fill="#333" text-anchor="end">1990</text>
<line x1="1059.6" y1="1205.9" x2="1059.6" y2="1212.9" stroke="#222" stroke-width="2.6"/>
<text transform="translate(1069.1,1228.9) rotate(-45)" font-size="20" fill="#333" text-anchor="end">2000</text>
<line x1="1123.1" y1="1205.9" x2="1123.1" y2="1212.9" stroke="#222" stroke-width="2.6"/>
<text transform="translate(1132.6,1228.9) rotate(-45)" font-size="20" fill="#333" text-anchor="end">2010</text>
<line x1="1186.5" y1="1205.9" x2="1186.5" y2="1212.9" stroke="#222" stroke-width="2.6"/>
<text transform="translate(1196.0,1228.9) rotate(-45)" font-size="20" fill="#333" text-anchor="end">2020</text>
<line x1="1209.8" y1="1205.9" x2="1421.0" y2="1205.9" stroke="#111" stroke-width="3.2"/>
<line x1="1220.3" y1="1205.9" x2="1220.3" y2="1212.9" stroke="#222" stroke-width="2.6"/>
<text transform="translate(1229.8,1228.9) rotate(-45)" font-size="20" fill="#333" text-anchor="end">1990</text>
<line x1="1283.7" y1="1205.9" x2="1283.7" y2="1212.9" stroke="#222" stroke-width="2.6"/>
<text transform="translate(1293.2,1228.9) rotate(-45)" font-size="20" fill="#333" text-anchor="end">2000</text>
<line x1="1347.2" y1="1205.9" x2="1347.2" y2="1212.9" stroke="#222" stroke-width="2.6"/>
<text transform="translate(1356.7,1228.9) rotate(-45)" font-size="20" fill="#333" text-anchor="end">2010</text>
<line x1="1410.6" y1="1205.9" x2="1410.6" y2="1212.9" stroke="#222" stroke-width="2.6"/>
<text transform="translate(1420.1,1228.9) rotate(-45)" font-size="20" fill="#333" text-anchor="end">2020</text>
<line x1="1433.9" y1="1205.9" x2="1645.1" y2="1205.9" stroke="#111" stroke-width="3.2"/>
<line x1="1444.4" y1="1205.9" x2="1444.4" y2="1212.9" stroke="#222" stroke-width="2.6"/>
<text transform="translate(1453.9,1228.9) rotate(-45)" font-size="20" fill="#333" text-anchor="end">1990</text>
<line x1="1507.8" y1="1205.9" x2="1507.8" y2="1212.9" stroke="#222" stroke-width="2.6"/>
<text transform="translate(1517.3,1228.9) rotate(-45)" font-size="20" fill="#333" text-anchor="end">2000</text>
<line x1="1571.3" y1="1205.9" x2="1571.3" y2="1212.9" stroke="#222" stroke-width="2.6"/>
<text transform="translate(1580.8,1228.9) rotate(-45)" font-size="20" fill="#333" text-anchor="end">2010</text>
<line x1="1634.7" y1="1205.9" x2="1634.7" y2="1212.9" stroke="#222" stroke-width="2.6"/>
<text transform="translate(1644.2,1228.9) rotate(-45)" font-size="20" fill="#333" text-anchor="end">2020</text>
<line x1="1658.0" y1="1205.9" x2="1869.2" y2="1205.9" stroke="#111" stroke-width="3.2"/>
<line x1="1668.5" y1="1205.9" x2="1668.5" y2="1212.9" stroke="#222" stroke-width="2.6"/>
<text transform="translate(1678.0,1228.9) rotate(-45)" font-size="20" fill="#333" text-anchor="end">1990</text>
<line x1="1731.9" y1="1205.9" x2="1731.9" y2="1212.9" stroke="#222" stroke-width="2.6"/>
<text transform="translate(1741.4,1228.9) rotate(-45)" font-size="20" fill="#333" text-anchor="end">2000</text>
<line x1="1795.4" y1="1205.9" x2="1795.4" y2="1212.9" stroke="#222" stroke-width="2.6"/>
<text transform="translate(1804.9,1228.9) rotate(-45)" font-size="20" fill="#333" text-anchor="end">2010</text>
<line x1="1858.8" y1="1205.9" x2="1858.8" y2="1212.9" stroke="#222" stroke-width="2.6"/>
<text transform="translate(1868.3,1228.9) rotate(-45)" font-size="20" fill="#333" text-anchor="end">2020</text>
<line x1="1882.1" y1="1205.9" x2="2093.3" y2="1205.9" stroke="#111" stroke-width="3.2"/>
<line x1="1892.6" y1="1205.9" x2="1892.6" y2="1212.9" stroke="#222" stroke-width="2.6"/>
<text transform="translate(1902.1,1228.9) rotate(-45)" font-size="20" fill="#333" text-anchor="end">1990</text>
<line x1="1956.0" y1="1205.9" x2="1956.0" y2="1212.9" stroke="#222" stroke-width="2.6"/>
<text transform="translate(1965.5,1228.9) rotate(-45)" font-size="20" fill="#333" text-anchor="end">2000</text>
<line x1="2019.5" y1="1205.9" x2="2019.5" y2="1212.9" stroke="#222" stroke-width="2.6"/>
<text transform="translate(2029.0,1228.9) rotate(-45)" font-size="20" fill="#333" text-anchor="end">2010</text>
<line x1="2082.9" y1="1205.9" x2="2082.9" y2="1212.9" stroke="#222" stroke-width="2.6"/>
<text transform="translate(2092.4,1228.9) rotate(-45)" font-size="20" fill="#333" text-anchor="end">2020</text>
<text x="1091.4" y="1285.4" font-size="20.4" font-weight="bold" fill="#111" text-anchor="middle">Year</text>
<text transform="translate(21.8,648) rotate(-90)" font-size="20.6" fill="#111" text-anchor="middle">Mean BMI (kg/m<tspan dy="-8.5" font-size="14">2</tspan><tspan dy="8.5">)</tspan></text>
<line x1="895" y1="1404.2" x2="1011" y2="1404.2" stroke="#2c8351" stroke-width="3.6"/>
<text x="1039.2" y="1411.8" font-size="20" fill="#111">Rural</text>
<line x1="1116" y1="1404.2" x2="1232" y2="1404.2" stroke="#76357c" stroke-width="3.6"/>
<text x="1260.3" y="1411.8" font-size="20" fill="#111">Urban</text>
</svg></body></html>
